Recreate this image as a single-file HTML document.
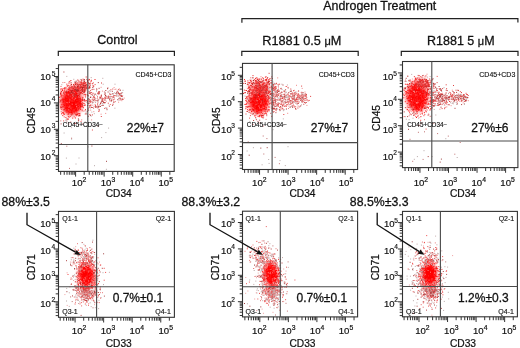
<!DOCTYPE html>
<html><head><meta charset="utf-8"><style>
html,body{margin:0;padding:0;background:#fff;width:520px;height:348px;overflow:hidden;}
svg{display:block;filter:blur(0.3px);}
text{font-family:"Liberation Sans", sans-serif;stroke:#111;stroke-width:0.28px;}
</style></head><body>
<svg width="520" height="348" viewBox="0 0 520 348" font-family='"Liberation Sans", sans-serif' fill="#111">
<defs><filter id="bl" x="-50%" y="-50%" width="200%" height="200%"><feGaussianBlur stdDeviation="2.2"/></filter><filter id="sb" x="-5%" y="-5%" width="110%" height="110%"><feGaussianBlur stdDeviation="0.45"/></filter>
<clipPath id="c0"><rect x="58.5" y="64.8" width="115.70" height="106.60"/></clipPath>
<clipPath id="c1"><rect x="242.5" y="63.4" width="115.10" height="106.10"/></clipPath>
<clipPath id="c2"><rect x="402.5" y="61.5" width="115.40" height="106.10"/></clipPath>
<clipPath id="c3"><rect x="58.5" y="211.4" width="115.90" height="105.90"/></clipPath>
<clipPath id="c4"><rect x="242.5" y="211.2" width="115.10" height="105.70"/></clipPath>
<clipPath id="c5"><rect x="402.5" y="211.4" width="114.90" height="105.40"/></clipPath>
</defs>
<rect width="520" height="348" fill="#fff"/>
<text x="379.8" y="10.2" font-size="12.4" text-anchor="middle">Androgen Treatment</text>
<text x="117.4" y="44.4" font-size="12.5" text-anchor="middle">Control</text>
<text x="301.8" y="44.6" font-size="12.7" text-anchor="middle">R1881 0.5 <tspan font-size="11">μ</tspan>M</text>
<text x="460.8" y="44.5" font-size="12.5" text-anchor="middle">R1881 5 <tspan font-size="11">μ</tspan>M</text>
<path d="M241.9 22.8V18.55H517.9V22.6M58.3 55.9V51.35H174.4V55.9M241.8 55.9V51.35H358.2V55.9M401.3 55.9V51.35H518.0V55.9" stroke="#222" stroke-width="1.2" fill="none"/>
<g clip-path="url(#c0)"><g filter="url(#sb)">
<ellipse cx="71.5" cy="102.0" rx="10.5" ry="13.0" transform="rotate(0 71.5 102.0)" fill="#f00" opacity="0.92" filter="url(#bl)"/>
<ellipse cx="79" cy="88.5" rx="8.5" ry="5.0" transform="rotate(-32 79 88.5)" fill="#f00" opacity="0.6" filter="url(#bl)"/>
<path d="M72.3 105.3h1M68.2 101.6h1M69.8 91.6h1M76.3 93.4h1M77.6 104.4h1M71.3 96.5h1M77.1 96.2h1M71.0 112.0h1M69.2 95.0h1M75.5 96.4h1M70.5 96.5h1M65.5 100.1h1M75.0 105.6h1M67.0 107.6h1M65.9 102.1h1M68.5 112.3h1M78.7 103.1h1M70.3 96.4h1M66.4 98.6h1M77.4 110.4h1M76.1 102.3h1M79.8 100.2h1M70.4 99.9h1M65.9 96.9h1M67.0 96.1h1M65.7 94.9h1M72.9 105.0h1M66.5 93.0h1M76.7 102.6h1M75.0 103.6h1M79.2 98.5h1M74.6 94.4h1M68.7 103.5h1M71.9 101.9h1M74.6 96.3h1M71.2 112.3h1M75.7 93.4h1M76.5 94.9h1M70.7 106.1h1M76.7 101.5h1M71.3 91.8h1M73.8 112.0h1M67.7 111.7h1M77.3 98.7h1M75.2 101.2h1M70.3 107.4h1M68.4 104.0h1M76.0 106.7h1M72.5 103.9h1M68.5 93.0h1M65.8 93.2h1M70.0 105.7h1M80.2 106.0h1M72.2 105.7h1M78.9 96.9h1M74.5 103.3h1M78.0 102.8h1M67.6 110.2h1M76.3 107.3h1M76.1 105.9h1M79.6 103.8h1M71.2 110.9h1M66.5 102.0h1M71.3 104.3h1M73.9 104.8h1M69.5 102.3h1M76.3 100.2h1M66.6 92.5h1M77.7 93.2h1M65.9 103.9h1M74.9 106.6h1M76.2 109.9h1M76.1 103.7h1M73.5 102.3h1M70.8 95.7h1M72.9 100.7h1M68.5 103.8h1M76.6 99.2h1M74.3 95.7h1M74.4 103.9h1M72.7 104.1h1M70.8 105.7h1M68.3 105.4h1M74.9 110.4h1M76.4 101.7h1M78.7 103.7h1M70.5 101.1h1M74.2 106.8h1M67.7 104.3h1M65.7 93.1h1M72.3 97.8h1M63.2 99.1h1M76.1 109.2h1M79.5 102.3h1M75.5 97.4h1M74.0 102.9h1M73.2 105.9h1M74.5 100.6h1M71.0 104.6h1M76.7 104.9h1M68.2 92.5h1M77.2 95.8h1M71.1 91.6h1M72.7 102.3h1M64.9 94.4h1M78.2 109.3h1M71.8 108.3h1M70.0 102.3h1M75.3 109.6h1M68.8 102.4h1M65.5 108.5h1M70.3 112.4h1M79.4 98.1h1M68.9 94.7h1M77.2 102.0h1M79.1 105.2h1M69.1 109.7h1M77.5 100.0h1M78.0 106.4h1M67.4 100.2h1M74.8 94.8h1M76.5 100.2h1M68.8 103.7h1M66.8 100.5h1M74.0 106.2h1M73.2 103.4h1M72.3 97.9h1M75.5 106.1h1M70.4 103.2h1M76.1 108.2h1M64.1 105.4h1M66.7 105.2h1M69.9 96.0h1M74.6 98.6h1M68.4 96.1h1M74.1 104.7h1M67.0 100.0h1M74.1 90.9h1M68.2 102.2h1M69.2 99.2h1M73.1 102.6h1M74.5 100.1h1M69.7 105.1h1M73.4 102.0h1M71.7 109.0h1M65.2 98.6h1M71.7 102.8h1M78.3 108.3h1M73.0 100.3h1M73.6 92.2h1M65.4 110.9h1M76.7 96.7h1M71.7 91.1h1M74.6 91.0h1M73.4 103.3h1M66.1 102.3h1M67.8 101.3h1M67.2 99.7h1M79.6 102.6h1M76.2 103.5h1M70.4 95.3h1M79.8 105.1h1M75.3 100.4h1M70.3 99.1h1M76.0 109.8h1M63.3 101.4h1M73.6 107.4h1M75.4 106.6h1M68.7 108.4h1M74.4 92.4h1M71.9 103.5h1M77.7 98.3h1M67.9 104.1h1M71.2 95.1h1M79.4 108.0h1M75.0 106.4h1M66.4 110.8h1M72.9 103.6h1M73.9 98.5h1M76.6 103.4h1M62.5 99.9h1M71.3 101.6h1M75.3 97.6h1M75.2 107.8h1M74.7 96.0h1M75.3 103.7h1M74.8 98.4h1M76.1 110.2h1M70.4 104.2h1M65.9 92.6h1M71.7 97.6h1M71.7 91.0h1M68.0 99.9h1M79.4 101.8h1M76.6 96.0h1M71.2 102.6h1M68.9 105.8h1M69.9 109.0h1M79.1 100.2h1M73.2 104.2h1M72.9 103.8h1M71.4 110.8h1M66.8 107.9h1M66.4 109.1h1M69.9 106.9h1M69.4 106.8h1M68.7 100.4h1M73.1 99.1h1M79.9 103.6h1M68.6 106.4h1M75.4 99.0h1M69.7 97.2h1M80.1 106.2h1M70.6 102.1h1M71.9 109.5h1M73.1 93.8h1M70.5 103.3h1M66.5 98.1h1M77.4 99.8h1M71.5 96.7h1M72.7 105.6h1M74.4 98.0h1M79.9 104.9h1M74.7 98.3h1M67.5 95.7h1M69.6 98.9h1M69.0 108.1h1M80.7 100.1h1M77.5 95.8h1M69.6 98.2h1M73.8 92.1h1M64.4 99.4h1M74.2 97.7h1M66.4 95.5h1M77.5 96.5h1M79.8 99.1h1M69.8 104.2h1M75.5 101.5h1M71.7 90.5h1M78.0 101.1h1M62.6 104.7h1M66.1 105.3h1M70.8 95.1h1M76.5 97.4h1M78.3 98.7h1M66.1 106.9h1M68.5 91.4h1M73.4 109.0h1M64.9 108.0h1M75.7 96.3h1M74.6 102.1h1M67.8 91.6h1M73.1 108.2h1M79.6 98.1h1M80.3 103.8h1M80.1 101.4h1M72.3 106.1h1M70.4 108.6h1M80.1 106.3h1M76.5 101.1h1M73.2 106.6h1M62.9 100.3h1M65.1 97.2h1M73.8 104.4h1M70.9 97.8h1M74.2 107.6h1M70.1 94.1h1M77.8 98.4h1M66.1 99.3h1M73.9 92.9h1M75.6 94.4h1M75.0 111.2h1M67.5 101.2h1M72.8 96.8h1M69.6 99.8h1M76.6 93.4h1M76.2 111.9h1M72.4 98.9h1M70.8 104.9h1M73.7 111.4h1M74.4 103.0h1M78.7 98.8h1M65.0 100.2h1M73.1 102.7h1M70.6 107.8h1M70.6 108.3h1M70.4 98.9h1M76.0 100.1h1M75.5 96.8h1M73.8 108.4h1M71.2 98.6h1M68.3 108.3h1M74.3 112.8h1M71.1 111.9h1M74.9 100.6h1M73.4 95.6h1M80.4 101.6h1M66.3 107.1h1M78.3 96.7h1M63.0 102.1h1M72.7 91.8h1M68.8 98.0h1M73.8 98.9h1M69.0 112.9h1M72.1 101.3h1M69.7 94.2h1M74.9 107.5h1M73.1 98.8h1M74.6 100.2h1M71.6 113.4h1M78.3 98.6h1M78.6 106.9h1M69.2 92.0h1M72.8 104.5h1" stroke="#ff0000" stroke-width="1" fill="none"/>
<path d="M82.2 99.8h1M60.6 88.7h1M63.1 114.0h1M60.8 92.0h1M80.2 93.0h1M82.4 97.3h1M62.0 99.2h1M76.5 84.9h1M65.4 87.4h1M68.1 113.8h1M80.1 91.4h1M60.2 92.2h1M64.5 88.7h1M60.0 94.0h1M69.7 90.2h1M62.2 112.7h1M83.4 91.1h1M66.4 112.3h1M74.2 89.0h1M70.5 89.0h1M74.9 117.9h1M61.2 95.2h1M81.9 100.4h1M81.9 106.0h1M66.8 119.1h1M67.9 116.7h1M80.1 86.0h1M67.2 86.0h1M87.1 101.7h1M75.4 114.7h1M62.0 90.5h1M66.3 91.0h1M64.0 114.2h1M61.1 104.9h1M77.9 113.5h1M63.8 109.6h1M74.7 87.3h1M84.7 105.0h1M79.2 94.2h1M60.6 95.9h1M76.3 114.4h1M60.9 109.3h1M69.4 90.2h1M77.3 114.6h1M76.6 113.8h1M81.5 106.1h1M62.6 107.0h1M76.8 89.4h1M73.1 84.9h1M60.1 100.9h1M63.4 92.6h1M62.4 106.6h1M66.7 85.9h1M73.3 90.0h1M81.5 104.0h1M84.1 100.0h1M85.8 100.6h1M82.7 103.4h1M72.2 118.1h1M85.1 95.1h1M67.8 119.1h1M67.5 89.2h1M83.7 92.3h1M82.9 107.7h1M60.9 104.7h1M61.2 113.6h1M81.7 110.0h1M75.7 89.1h1M60.6 96.8h1M59.1 97.3h1M66.4 84.2h1M76.3 115.6h1M64.0 87.9h1M77.3 90.8h1M60.4 94.3h1M79.0 113.6h1M82.2 93.6h1M77.9 118.9h1M60.4 106.4h1M79.4 114.1h1M73.6 85.6h1M62.6 88.4h1M71.2 87.9h1M81.6 104.6h1M80.0 107.8h1M60.3 89.9h1M65.0 93.4h1M65.4 117.6h1M80.1 109.5h1M68.0 89.4h1M74.5 89.3h1M81.9 106.9h1M60.0 107.8h1M61.9 100.1h1M81.9 87.9h1M78.2 115.9h1M61.5 100.0h1M63.9 91.6h1M84.2 105.4h1M81.0 106.8h1M68.5 83.2h1M69.2 87.9h1M71.8 86.8h1M63.1 113.2h1M81.1 104.0h1M70.3 85.2h1M79.6 115.7h1M62.3 115.6h1M63.8 90.4h1M78.1 90.5h1M77.1 114.4h1M62.6 112.6h1M82.4 100.4h1M84.5 91.7h1" stroke="#ff1818" stroke-width="1" fill="none"/>
<path d="M81.2 119.9h1M81.8 123.9h1M87.2 88.2h1M66.5 121.0h1M62.4 82.6h1M87.8 107.8h1M88.0 88.3h1M60.3 120.9h1M64.3 82.5h1M70.3 121.9h1M68.3 123.9h1M77.9 120.7h1M89.2 88.6h1M80.4 82.7h1M89.0 107.3h1M84.9 87.0h1" stroke="#e87878" stroke-width="1" fill="none"/>
<path d="M68.0 107.6h1M71.6 97.0h1M73.9 109.3h1M76.0 95.4h1M78.2 110.2h1M76.6 103.4h1M76.5 103.2h1M74.3 110.1h1M71.3 100.3h1M76.5 97.2h1M73.4 109.5h1M68.3 103.9h1M71.5 111.6h1M73.3 101.0h1M66.4 106.3h1M66.5 93.0h1M72.1 112.7h1M68.1 102.0h1M66.8 93.8h1M74.3 97.3h1M71.9 101.4h1M74.2 92.4h1M71.7 109.3h1M70.9 101.0h1M70.7 90.8h1M73.4 97.6h1M71.4 101.7h1M71.1 98.4h1M74.6 112.9h1M75.8 96.6h1M74.7 99.0h1M66.4 99.8h1M70.3 95.6h1M77.7 103.1h1M62.5 98.6h1M79.0 105.3h1M74.0 100.5h1M77.4 103.0h1M71.8 100.0h1M76.3 106.0h1M69.2 100.4h1M71.9 101.1h1M76.2 104.5h1M65.6 94.5h1M64.6 101.6h1M76.3 100.5h1M62.7 100.4h1M74.6 97.1h1M62.4 102.2h1M64.4 94.4h1M71.7 97.6h1M75.5 98.4h1M67.1 103.7h1M65.3 110.2h1M69.7 112.5h1M63.5 104.5h1" stroke="#ff2020" stroke-width="1" fill="none"/>
<path d="M83.7 94.6h1M70.9 114.9h1M75.5 90.7h1M81.4 104.3h1M61.1 107.6h1M61.1 91.4h1M72.1 88.1h1M73.4 88.4h1M83.6 99.3h1M75.8 87.9h1M60.2 93.6h1M79.0 115.6h1M78.7 115.3h1M81.7 99.5h1M81.6 88.6h1M84.0 99.9h1M59.5 102.0h1M71.2 90.2h1M65.8 91.7h1M75.6 114.4h1M81.6 105.2h1M63.6 109.0h1M86.6 102.1h1M60.2 93.5h1" stroke="#c02828" stroke-width="1" fill="none"/>
<path d="M78.2 119.8h1M78.1 124.8h1M78.1 120.8h1M60.6 123.9h1M99.2 106.2h1M63.4 72.0h1M86.5 114.1h1M74.8 82.5h1M88.2 99.3h1M85.6 113.1h1M89.9 97.3h1M74.7 123.6h1M75.7 81.2h1" stroke="#b04040" stroke-width="1" fill="none"/>
<path d="M77.1 113.3h1M72.3 114.4h1M62.4 98.2h1M77.9 113.5h1M62.5 95.5h1M83.8 94.2h1M81.0 89.5h1M70.6 89.6h1M82.0 98.3h1M63.5 110.9h1M60.7 111.8h1M67.8 114.2h1M81.8 82.8h1M85.4 89.7h1M75.6 115.7h1M74.3 123.5h1M79.1 89.3h1M64.9 92.1h1M68.6 82.0h1M60.9 99.7h1M80.2 93.2h1M73.1 88.8h1M67.8 113.0h1M63.0 93.1h1M81.1 92.9h1M74.6 84.4h1M63.2 120.9h1M80.8 89.1h1M83.5 83.4h1M82.0 102.8h1M84.3 101.0h1M60.8 104.9h1M67.6 114.6h1M67.9 116.7h1M81.5 93.3h1M72.8 89.6h1M63.0 92.2h1M70.7 114.3h1M82.1 97.7h1M69.3 86.3h1M84.2 100.8h1M77.1 84.0h1M73.7 116.8h1M79.9 108.8h1M62.7 109.6h1M68.9 117.1h1M80.9 105.0h1M82.7 105.8h1M61.8 101.7h1M61.9 106.9h1M67.4 119.2h1M64.3 93.9h1M84.7 100.8h1M63.4 93.5h1M83.6 100.5h1M59.5 99.9h1M84.1 103.7h1M64.9 110.4h1M85.0 109.5h1M83.3 85.2h1M83.4 111.1h1M81.7 110.9h1M61.4 100.4h1M60.5 86.4h1M80.5 121.4h1M63.7 116.9h1M69.9 116.4h1M70.6 87.2h1M65.3 91.5h1M90.1 102.6h1" stroke="#f04848" stroke-width="1" fill="none"/>
<path d="M74.9 118.4h1M69.7 85.4h1M74.6 88.4h1M81.4 107.7h1M85.4 94.8h1M78.6 84.7h1M76.3 83.6h1M84.5 110.3h1M84.9 110.7h1M79.9 113.3h1M76.3 85.4h1M79.2 87.3h1M60.9 114.3h1M61.4 105.2h1M84.7 101.7h1M63.2 108.3h1M64.3 91.1h1M77.9 91.8h1M61.7 109.4h1M80.4 91.5h1M69.2 114.0h1M73.2 114.3h1M71.1 85.5h1M83.0 94.2h1M82.9 92.7h1M78.5 110.9h1M66.8 90.9h1M83.7 95.9h1" stroke="#ff9a9a" stroke-width="1" fill="none"/>
<path d="M70.1 96.4h1M71.9 98.0h1M69.4 99.8h1M68.9 102.2h1M73.7 99.2h1M68.6 107.1h1M70.4 108.1h1M75.0 98.3h1M76.0 106.7h1M69.4 106.1h1M75.4 104.2h1M68.3 109.9h1M71.7 104.2h1M66.5 102.5h1M65.0 93.9h1M79.4 97.8h1M74.7 112.2h1" stroke="#ff8080" stroke-width="1" fill="none"/>
<path d="M91.3 112.1h1M65.8 120.9h1M85.7 111.2h1M87.2 109.9h1M75.4 122.3h1M93.8 113.7h1M66.3 76.4h1M66.3 123.0h1M91.8 89.2h1M71.1 127.7h1M73.3 79.3h1M65.2 120.1h1M70.7 82.4h1M61.3 84.7h1M90.3 96.6h1" stroke="#c4a8a8" stroke-width="1" fill="none"/>
<path d="M77.4 82.8h1M76.9 91.3h1M75.1 88.5h1M65.0 92.3h1M89.8 85.9h1M73.7 85.6h1M84.0 83.9h1M86.3 79.3h1M68.2 85.3h1M60.0 100.9h1M75.5 95.2h1M81.3 80.5h1M77.1 91.7h1M78.5 81.3h1M78.5 87.1h1M77.3 80.0h1M68.7 88.5h1M88.7 86.9h1M87.7 85.1h1M68.5 87.4h1M84.6 87.4h1M79.7 84.5h1M89.0 79.8h1M74.4 86.6h1M75.9 89.7h1M84.1 90.1h1M80.7 85.7h1M77.9 85.7h1M71.3 87.1h1M78.0 88.2h1M73.1 95.2h1M81.0 85.2h1M76.2 88.8h1M77.2 86.4h1M71.4 86.5h1M81.1 86.6h1M82.1 90.7h1M77.5 91.6h1M83.4 89.5h1M80.6 90.4h1M77.6 85.8h1M81.0 87.6h1M82.7 84.3h1M79.1 92.6h1M75.4 89.7h1M80.6 81.7h1M80.4 84.1h1M70.5 93.5h1M84.4 86.2h1M90.1 90.7h1M73.9 95.3h1M73.9 89.8h1M82.2 84.2h1M87.0 80.9h1M89.0 86.6h1M70.2 87.7h1M88.3 83.4h1M83.7 90.4h1M83.9 91.5h1M68.7 94.8h1M101.0 83.0h1M78.1 93.7h1M93.1 85.9h1M80.7 89.7h1M73.1 92.3h1M66.1 97.0h1M69.3 81.4h1M80.6 89.3h1M72.8 93.5h1M80.9 83.3h1M79.3 92.9h1" stroke="#d83838" stroke-width="1" fill="none"/>
<path d="M74.9 96.0h1M79.0 92.2h1M85.8 84.3h1M70.6 95.4h1M71.8 93.9h1M70.2 90.6h1M87.6 80.9h1M92.5 93.3h1M68.8 95.3h1M80.9 82.4h1M94.5 79.5h1M80.6 87.8h1M87.0 81.2h1M80.0 86.0h1M79.8 86.4h1M82.6 83.5h1M78.7 94.9h1M82.5 90.3h1M72.9 90.8h1M72.2 93.5h1M79.0 84.6h1M84.5 90.2h1M80.6 82.8h1M86.0 87.3h1M83.9 81.3h1M80.7 82.3h1M69.5 94.7h1M85.8 87.8h1M78.1 97.6h1M90.5 81.2h1M73.8 91.7h1M80.0 84.4h1M75.7 83.3h1M69.2 98.5h1M73.1 88.2h1M83.6 92.2h1M87.0 86.0h1M73.5 86.7h1M79.8 87.1h1M91.8 83.6h1M77.8 86.7h1M86.1 88.2h1M70.4 80.5h1M76.8 90.5h1M89.4 87.5h1M85.2 94.3h1M85.0 85.4h1M74.4 89.3h1M85.4 86.6h1M86.0 85.0h1M83.5 92.0h1M83.2 83.1h1M76.1 89.2h1M77.0 87.5h1M75.4 96.3h1M80.4 87.0h1M82.6 86.8h1M81.9 87.8h1M89.8 83.1h1M78.0 90.1h1M69.3 89.3h1M84.2 87.0h1M75.7 96.0h1M69.5 98.9h1M81.1 92.4h1M69.0 93.8h1M77.7 91.6h1M80.8 84.3h1M76.9 89.1h1M75.9 89.5h1M76.9 90.9h1M71.7 94.0h1M83.5 87.3h1M86.9 94.8h1M73.7 96.2h1M90.9 80.3h1M69.3 97.1h1M77.3 89.5h1M87.9 82.7h1M64.3 88.8h1M77.3 89.4h1M82.7 85.4h1M72.3 91.2h1M76.4 89.6h1M88.3 87.9h1M80.5 87.7h1M83.3 82.7h1M79.6 90.4h1M85.7 77.0h1M61.8 89.4h1M79.7 99.2h1M82.6 79.2h1M70.5 83.0h1M83.9 85.8h1M80.0 92.3h1M74.7 83.6h1M77.2 87.0h1M84.9 82.6h1M71.6 92.9h1M76.0 89.3h1M83.9 87.5h1M83.8 88.6h1M72.8 92.9h1M69.0 93.0h1M77.9 93.1h1M80.2 90.6h1M81.9 91.3h1M73.0 84.5h1M84.6 89.4h1M85.1 96.9h1M81.5 89.2h1M70.8 97.2h1M84.1 83.3h1M79.3 91.3h1M80.1 86.6h1M77.9 98.4h1M77.8 90.2h1M73.0 88.2h1M78.5 88.4h1M81.4 88.2h1M79.9 92.5h1M88.5 79.4h1M74.0 90.2h1M84.9 83.8h1M75.7 97.6h1M71.6 93.3h1M70.2 96.4h1M93.1 86.4h1M74.4 93.9h1" stroke="#f02020" stroke-width="1" fill="none"/>
<path d="M75.2 88.5h1M87.1 92.3h1M75.6 89.3h1M80.2 83.5h1M77.2 92.7h1M76.7 89.4h1M83.7 84.4h1M92.1 85.2h1M80.9 81.8h1M77.8 80.6h1M79.6 84.0h1M78.2 96.9h1M73.7 92.7h1M80.8 88.4h1M83.8 87.3h1M72.2 95.7h1M79.3 86.5h1M75.9 82.9h1M79.3 86.3h1M86.5 88.0h1M72.5 94.7h1M67.8 94.8h1M70.6 89.5h1M73.3 85.3h1M72.4 92.0h1M73.3 85.6h1M79.4 86.7h1M81.0 85.6h1M79.8 89.4h1M63.8 89.5h1M90.7 81.6h1M78.6 93.0h1M79.2 82.7h1M83.8 92.6h1M85.2 90.1h1M73.0 96.6h1M82.7 94.9h1M75.7 85.7h1M69.6 91.5h1M70.5 93.4h1M66.1 88.9h1M77.6 94.2h1M79.8 91.2h1M86.4 82.5h1" stroke="#f08080" stroke-width="1" fill="none"/>
<path d="M85.3 85.3h1M73.5 96.3h1M84.4 90.2h1M83.5 80.8h1M82.7 85.1h1M76.8 89.6h1M78.0 90.3h1M83.5 87.2h1M72.1 90.3h1M89.5 84.9h1M81.9 87.4h1M72.4 92.6h1M83.4 85.6h1M83.5 92.2h1M70.6 91.2h1M75.9 90.1h1M82.0 88.4h1M80.6 79.6h1M79.5 88.0h1M74.4 87.1h1M74.7 89.6h1M83.8 79.5h1M75.9 95.2h1M75.2 84.5h1M69.6 93.4h1M74.5 82.0h1M70.9 84.5h1M82.1 89.8h1M89.2 83.7h1M89.1 87.7h1M78.3 95.3h1M70.8 92.3h1M81.7 91.4h1M71.4 92.1h1M79.5 93.8h1M83.8 81.9h1M77.5 84.5h1M73.5 93.9h1M87.2 80.5h1M83.3 87.4h1M76.4 91.7h1M85.4 88.4h1M75.0 89.1h1M76.7 90.6h1M76.4 90.0h1M79.6 87.0h1M66.5 91.8h1M77.2 86.5h1" stroke="#a82828" stroke-width="1" fill="none"/>
<path d="M106.2 96.4h1M90.4 99.8h1M100.6 114.2h1M108.2 98.5h1M104.9 102.7h1M92.3 105.2h1M104.0 98.7h1M103.1 98.6h1M111.7 96.9h1M94.6 104.5h1M88.3 100.0h1M101.2 105.5h1M105.2 113.4h1M90.5 101.3h1M91.1 119.9h1M109.7 94.6h1M113.5 99.5h1M119.0 94.7h1M101.9 91.1h1M121.7 98.8h1M100.6 87.3h1M97.5 99.3h1M111.2 99.3h1M122.2 95.7h1M98.8 110.0h1M97.3 103.9h1M118.1 102.2h1M101.2 100.8h1M119.8 93.7h1M105.3 97.3h1M93.1 108.5h1M114.1 98.9h1M121.9 96.5h1M98.4 99.7h1M105.8 101.2h1M97.6 94.0h1M115.0 101.6h1M99.6 96.5h1M104.1 93.1h1M93.6 106.6h1M100.6 95.9h1M114.5 89.5h1M88.3 105.2h1M90.2 110.1h1M92.6 86.7h1M103.8 91.8h1M119.9 96.1h1M97.5 105.5h1M94.3 94.3h1M110.0 104.5h1M112.4 96.6h1M116.7 90.9h1M118.8 88.9h1M109.1 93.4h1M96.9 108.0h1M112.3 97.9h1M109.7 97.0h1M113.6 87.6h1M112.8 97.4h1M86.9 84.9h1M93.6 95.0h1M93.6 99.5h1M89.7 93.3h1M89.5 93.2h1M123.7 98.1h1M87.3 92.9h1M99.0 110.9h1M93.3 111.7h1M109.0 100.8h1M116.0 96.1h1M97.7 102.2h1M88.4 85.3h1M89.7 102.0h1M101.8 99.1h1M115.4 89.1h1M110.4 94.2h1M89.9 100.6h1M98.3 94.5h1M121.3 100.7h1M96.7 98.5h1M100.9 94.8h1M96.6 89.2h1M88.6 101.8h1M103.0 98.7h1" stroke="#f08888" stroke-width="1" fill="none"/>
<path d="M107.8 103.2h1M91.6 89.6h1M87.2 99.9h1M91.0 107.3h1M113.5 102.0h1M118.8 94.0h1M94.6 84.6h1M100.1 97.5h1M89.1 105.9h1M98.2 111.3h1M101.7 99.5h1M93.3 96.4h1M92.7 97.7h1M87.2 95.3h1M95.5 106.9h1M88.7 91.7h1M108.3 96.6h1M88.8 99.5h1M122.2 99.5h1M95.6 100.5h1M119.5 100.0h1M107.6 97.3h1M100.0 103.5h1M109.6 94.6h1M91.9 130.0h1M90.4 105.0h1M93.4 96.9h1M90.9 107.5h1M108.2 97.3h1M98.7 92.3h1M97.3 93.5h1M108.2 98.1h1M90.1 101.2h1M110.6 100.7h1M112.6 104.2h1M104.3 97.3h1M90.2 105.3h1M92.7 100.3h1M118.6 93.9h1M113.6 95.5h1M120.1 95.4h1M106.6 98.4h1M94.2 97.5h1M91.5 101.8h1M115.8 93.2h1M96.0 89.1h1M89.6 92.9h1M114.7 95.7h1M107.9 96.1h1M94.7 94.4h1M87.4 95.4h1M117.9 89.7h1M105.1 98.4h1M100.9 96.8h1M98.1 91.8h1M92.8 82.9h1M112.3 89.0h1M91.9 114.9h1M100.7 102.7h1M121.0 96.4h1M122.5 99.3h1M100.8 116.5h1M94.5 100.9h1M105.1 95.5h1M110.6 96.6h1M104.4 102.6h1M119.8 98.3h1M84.8 114.0h1M120.4 93.4h1M119.8 95.5h1M103.7 100.0h1M97.0 96.9h1M112.8 99.9h1M97.7 92.6h1M113.2 102.2h1M119.0 94.0h1M88.8 93.4h1M89.6 105.7h1M95.0 106.2h1M101.6 98.1h1M91.9 99.2h1M120.4 99.2h1M102.4 105.5h1M108.9 106.2h1M88.0 103.3h1M112.8 97.2h1M116.8 91.7h1M87.0 111.5h1M104.2 108.4h1M88.6 101.2h1M94.9 105.4h1M102.7 101.4h1M110.4 89.8h1M93.4 89.3h1M89.3 114.7h1M92.0 95.1h1M90.7 94.6h1M97.0 104.1h1M91.1 92.6h1M101.7 100.6h1M97.0 100.8h1" stroke="#e04040" stroke-width="1" fill="none"/>
<path d="M90.0 115.3h1M89.3 101.1h1M112.1 105.3h1M121.4 96.2h1M87.7 96.0h1M97.8 82.6h1M105.3 90.5h1M92.3 87.5h1M92.3 107.5h1M87.6 108.8h1M104.4 94.6h1M98.6 109.7h1M98.4 93.2h1M113.3 96.0h1M100.9 101.5h1M90.2 97.5h1M117.3 99.6h1M102.5 105.3h1M89.7 92.9h1M119.2 98.1h1M94.7 98.9h1M117.9 92.3h1M101.9 101.3h1M109.5 98.7h1M115.6 93.5h1M95.8 106.9h1M93.8 99.1h1M117.6 96.0h1M93.2 100.3h1M87.3 103.7h1M96.9 106.9h1M111.8 91.3h1M87.8 116.3h1M116.3 92.4h1M97.6 100.7h1M102.2 101.2h1M103.1 102.5h1M98.6 88.3h1M100.2 103.1h1M107.4 88.0h1M98.1 106.5h1M116.4 94.0h1M99.4 97.6h1M98.2 107.7h1M107.0 88.7h1M99.1 91.8h1M105.4 96.9h1M100.9 95.7h1M104.8 93.1h1M107.6 92.0h1M109.1 99.3h1M106.5 109.7h1M120.9 95.3h1M104.1 102.7h1M104.7 100.0h1M99.6 98.6h1M94.9 107.2h1M98.6 93.6h1M112.4 93.5h1M120.0 90.2h1M110.7 101.1h1M87.0 105.7h1M87.8 98.5h1M118.1 93.3h1M99.9 106.5h1M106.3 108.2h1M92.4 102.6h1M105.1 95.4h1M88.7 103.2h1M101.6 98.8h1M121.2 93.0h1M88.1 110.2h1M111.2 100.3h1" stroke="#b03838" stroke-width="1" fill="none"/>
<path d="M110.1 96.4h1M96.7 106.0h1M97.8 99.8h1M102.3 78.3h1M114.5 84.2h1M99.3 104.4h1M88.2 99.9h1M108.7 105.0h1M96.8 101.9h1M96.3 100.6h1M109.6 98.1h1M122.5 90.3h1M90.7 116.1h1M113.5 102.1h1M93.9 95.4h1M92.0 95.1h1M102.0 103.7h1M103.4 103.7h1M88.4 98.7h1M109.8 91.2h1M121.8 98.3h1M117.6 100.1h1M89.7 106.9h1M94.5 94.1h1M96.3 95.2h1M116.2 95.6h1M99.7 104.6h1M96.0 88.8h1M114.4 108.2h1M107.8 98.4h1M88.4 91.3h1M113.9 92.8h1M92.6 101.0h1M102.7 84.2h1M91.8 103.1h1M111.5 94.3h1M115.8 93.8h1M120.1 94.3h1M119.8 95.1h1M108.8 90.7h1M109.3 93.3h1M94.9 102.6h1M94.9 94.0h1M96.1 90.3h1M120.9 99.6h1M89.8 108.0h1M113.8 97.4h1M90.7 77.6h1M101.4 105.5h1M118.8 95.7h1M116.6 93.4h1M108.9 96.7h1M118.0 98.4h1M105.2 107.8h1M101.3 101.9h1M104.4 92.2h1M111.3 99.0h1M112.7 94.2h1M107.1 96.9h1M122.1 92.6h1M96.0 91.2h1M119.2 90.2h1" stroke="#c0a4a4" stroke-width="1" fill="none"/>
<path d="M87.7 146.9h1M91.9 125.3h1M78.5 158.0h1M75.5 164.0h1M105.4 132.6h1M78.0 118.9h1M101.1 137.6h1M105.9 169.3h1M63.6 133.0h1M84.7 121.9h1M94.0 165.7h1M65.9 158.1h1M71.1 139.1h1M108.1 128.1h1" stroke="#b8a8a8" stroke-width="1" fill="none"/>
<path d="M106.0 161.3h1M60.8 143.7h1M97.5 126.2h1M91.4 146.0h1" stroke="#a04040" stroke-width="1" fill="none"/>
<path d="M66.3 146.2h1M69.0 168.4h1M66.2 119.0h1M71.1 138.2h1" stroke="#c07070" stroke-width="1" fill="none"/>
</g></g>
<rect x="58.5" y="64.8" width="115.70" height="106.60" fill="none" stroke="#333" stroke-width="1.1"/>
<path d="M87.8 64.8V171.4M58.5 144.5H174.2" stroke="#4a4a4a" stroke-width="1.1" fill="none"/>
<path d="M60.67 171.40v3.4M64.24 171.40v3.4M67.01 171.40v3.4M69.27 171.40v3.4M71.18 171.40v3.4M72.83 171.40v3.4M74.29 171.40v3.4M75.60 171.40v5.2M84.19 171.40v3.4M89.22 171.40v3.4M92.79 171.40v3.4M95.56 171.40v3.4M97.82 171.40v3.4M99.73 171.40v3.4M101.38 171.40v3.4M102.84 171.40v3.4M104.15 171.40v5.2M112.74 171.40v3.4M117.77 171.40v3.4M121.34 171.40v3.4M124.11 171.40v3.4M126.37 171.40v3.4M128.28 171.40v3.4M129.93 171.40v3.4M131.39 171.40v3.4M132.70 171.40v5.2M141.29 171.40v3.4M146.32 171.40v3.4M149.89 171.40v3.4M152.66 171.40v3.4M154.92 171.40v3.4M156.83 171.40v3.4M158.48 171.40v3.4M159.94 171.40v3.4M161.25 171.40v5.2M169.84 171.40v3.4M58.50 169.50h-2.8M58.50 166.21h-2.8M58.50 163.65h-2.8M58.50 161.56h-2.8M58.50 159.79h-2.8M58.50 158.26h-2.8M58.50 156.91h-2.8M58.50 155.70h-4.6M58.50 147.75h-2.8M58.50 143.10h-2.8M58.50 139.81h-2.8M58.50 137.25h-2.8M58.50 135.16h-2.8M58.50 133.39h-2.8M58.50 131.86h-2.8M58.50 130.51h-2.8M58.50 129.30h-4.6M58.50 121.35h-2.8M58.50 116.70h-2.8M58.50 113.41h-2.8M58.50 110.85h-2.8M58.50 108.76h-2.8M58.50 106.99h-2.8M58.50 105.46h-2.8M58.50 104.11h-2.8M58.50 102.90h-4.6M58.50 94.95h-2.8M58.50 90.30h-2.8M58.50 87.01h-2.8M58.50 84.45h-2.8M58.50 82.36h-2.8M58.50 80.59h-2.8M58.50 79.06h-2.8M58.50 77.71h-2.8M58.50 76.50h-4.6M58.50 68.55h-2.8" stroke="#333" stroke-width="1" fill="none"/>
<text x="71.82" y="186.00" font-size="9.6" style="stroke-width:0.2px">10<tspan dy="-4.4" font-size="6.8">2</tspan></text>
<text x="100.72" y="186.00" font-size="9.6" style="stroke-width:0.2px">10<tspan dy="-4.4" font-size="6.8">3</tspan></text>
<text x="129.62" y="186.00" font-size="9.6" style="stroke-width:0.2px">10<tspan dy="-4.4" font-size="6.8">4</tspan></text>
<text x="158.52" y="186.00" font-size="9.6" style="stroke-width:0.2px">10<tspan dy="-4.4" font-size="6.8">5</tspan></text>
<text x="50.80" y="79.90" font-size="9.5" text-anchor="end" style="stroke-width:0.2px">10</text>
<text x="55.30" y="75.50" font-size="6.6" text-anchor="end" style="stroke-width:0.15px">5</text>
<text x="50.80" y="105.80" font-size="9.5" text-anchor="end" style="stroke-width:0.2px">10</text>
<text x="55.30" y="101.40" font-size="6.6" text-anchor="end" style="stroke-width:0.15px">4</text>
<text x="50.80" y="132.70" font-size="9.5" text-anchor="end" style="stroke-width:0.2px">10</text>
<text x="55.30" y="128.30" font-size="6.6" text-anchor="end" style="stroke-width:0.15px">3</text>
<text x="50.80" y="159.50" font-size="9.5" text-anchor="end" style="stroke-width:0.2px">10</text>
<text x="55.30" y="155.10" font-size="6.6" text-anchor="end" style="stroke-width:0.15px">2</text>
<text x="118.7" y="196.8" font-size="10.2" text-anchor="middle" style="stroke-width:0.22px">CD34</text>
<text transform="translate(35.3,120.4) rotate(-90)" font-size="10.2" text-anchor="middle" style="stroke-width:0.22px">CD45</text>
<g clip-path="url(#c1)"><g filter="url(#sb)">
<ellipse cx="258.5" cy="102.5" rx="9.8" ry="11.0" transform="rotate(0 258.5 102.5)" fill="#f00" opacity="0.92" filter="url(#bl)"/>
<ellipse cx="259.5" cy="88" rx="11" ry="7" transform="rotate(0 259.5 88)" fill="#f00" opacity="0.45" filter="url(#bl)"/>
<path d="M261.3 115.3h1M272.3 107.9h1M248.5 110.3h1M257.3 113.3h1M263.1 117.1h1M261.6 117.4h1M267.8 101.1h1M250.2 99.0h1M258.8 116.7h1M250.1 89.4h1M254.4 116.0h1M254.5 90.3h1M263.7 87.5h1M254.5 115.3h1M248.4 106.5h1M251.6 110.9h1M258.9 115.4h1M251.2 90.1h1M260.6 112.6h1M269.3 103.3h1M250.4 113.1h1M260.3 114.1h1M249.3 109.6h1M263.7 93.2h1M245.8 104.2h1M251.2 90.1h1M272.1 101.9h1M267.1 111.7h1M260.1 87.5h1M263.7 113.8h1M272.7 100.4h1M264.2 94.5h1M257.6 92.4h1M251.7 93.8h1M252.4 94.4h1M259.2 92.4h1M249.3 98.0h1M261.2 115.8h1M256.4 90.8h1M253.6 93.0h1M271.5 102.6h1M261.4 92.8h1M246.8 102.8h1M250.5 93.1h1M256.0 91.3h1M251.0 111.5h1M254.3 111.8h1M268.3 97.7h1M271.0 95.1h1M246.0 101.0h1M262.1 113.6h1M259.6 90.5h1M271.9 108.8h1M268.7 97.1h1M256.9 113.4h1M258.4 112.9h1M259.2 115.5h1M257.6 116.4h1M265.4 113.4h1M246.7 107.2h1M268.2 107.0h1M269.9 99.8h1M263.1 115.2h1M268.1 96.4h1M256.3 114.1h1M260.9 112.2h1M245.7 98.8h1M268.6 109.6h1M247.0 109.7h1M263.4 92.1h1M249.5 106.4h1M258.3 89.8h1M249.4 95.5h1M245.8 96.8h1M259.4 88.7h1M267.3 99.5h1M268.3 95.8h1M250.5 90.3h1M264.6 110.1h1M248.7 93.5h1M250.5 97.1h1M265.6 113.4h1M247.6 106.8h1M268.5 91.6h1M244.7 104.5h1M249.7 109.8h1M265.5 92.7h1M261.5 115.6h1M266.7 89.5h1M266.4 96.0h1M251.8 92.2h1M250.5 93.0h1M264.7 87.8h1M251.7 90.6h1M249.7 97.6h1M258.5 112.7h1M268.6 110.8h1M260.8 116.7h1M259.7 89.1h1M245.3 108.7h1M270.1 99.3h1M251.5 92.5h1M254.3 93.2h1M264.3 94.0h1M246.2 103.8h1M256.5 113.0h1M245.5 106.9h1M265.4 111.5h1M251.0 95.0h1M248.5 100.2h1M249.9 99.9h1M268.0 102.7h1M267.1 104.7h1M254.5 89.3h1" stroke="#ff1818" stroke-width="1" fill="none"/>
<path d="M264.9 100.7h1M264.5 102.9h1M263.2 105.0h1M255.9 108.5h1M260.6 110.4h1M267.0 100.6h1M250.6 102.1h1M260.4 104.9h1M256.4 100.4h1M257.5 105.6h1M255.7 98.2h1M255.9 107.2h1M259.2 95.2h1M256.3 107.7h1M256.5 106.1h1M259.9 96.3h1M260.5 109.3h1M253.0 99.8h1M251.8 100.3h1M255.7 94.9h1M257.6 94.0h1M257.5 96.7h1M258.2 103.9h1M263.1 98.6h1M255.1 98.9h1M259.7 94.0h1M252.2 106.8h1M253.4 98.3h1M260.9 105.7h1M254.7 103.5h1M256.0 100.6h1M257.3 111.8h1M255.1 105.4h1M259.7 108.4h1M258.4 100.4h1M265.5 103.4h1M256.2 111.0h1M259.8 102.4h1M255.0 95.4h1M261.6 99.1h1M256.5 105.8h1M257.9 94.1h1M257.7 107.5h1M258.4 101.9h1M262.9 99.8h1M256.8 111.1h1M265.7 98.8h1M257.6 93.9h1M251.8 108.1h1M264.2 100.1h1M256.6 99.4h1M258.9 106.1h1M255.7 106.3h1M265.5 104.0h1M259.3 103.5h1M254.9 95.6h1M259.2 99.2h1M253.4 110.4h1M255.2 97.6h1M253.5 105.4h1M265.1 103.8h1M255.4 104.7h1M264.6 99.8h1M265.2 104.1h1M260.3 100.1h1M260.2 105.8h1M259.6 101.9h1M260.5 110.2h1M260.3 101.8h1M255.0 103.6h1M262.2 102.6h1M263.2 107.9h1M253.9 107.7h1M261.1 103.0h1M264.0 108.9h1M252.4 109.4h1M259.0 105.1h1M251.5 98.5h1M253.1 101.4h1M253.2 109.8h1M263.1 95.6h1M255.4 95.8h1M254.9 99.0h1M257.3 97.2h1M257.8 99.1h1M250.6 102.5h1M257.2 107.7h1M253.4 107.0h1M260.9 95.3h1M251.8 101.7h1M260.2 104.6h1M257.3 105.1h1M261.6 105.5h1M259.2 107.2h1M257.6 98.5h1M255.9 108.6h1M256.6 112.0h1M262.7 99.7h1M265.8 107.2h1M256.0 107.4h1M260.6 108.3h1M258.9 96.0h1M260.7 99.8h1M265.5 100.7h1M261.4 100.3h1M253.5 104.1h1M250.2 102.7h1M255.3 97.3h1M256.7 103.0h1M255.6 101.0h1M261.0 98.8h1M258.6 99.2h1M259.8 103.6h1M260.9 98.6h1M254.1 97.7h1M254.4 100.9h1M262.7 107.7h1M253.8 105.4h1M261.8 103.3h1M257.3 94.8h1M262.7 101.5h1M264.8 99.8h1M263.1 108.6h1M259.5 102.5h1M260.4 99.7h1M252.9 105.2h1M261.3 96.5h1M257.2 101.6h1M253.8 98.3h1M259.3 103.9h1M259.9 94.4h1M254.3 94.0h1M257.4 95.1h1M250.3 99.0h1M264.1 108.5h1M257.0 102.0h1M258.3 104.6h1M255.8 97.6h1M260.1 108.0h1M263.9 105.9h1M259.1 98.7h1M260.9 102.6h1M259.0 109.1h1M261.7 105.2h1M259.9 104.6h1M257.6 95.5h1M252.3 109.1h1M259.2 97.0h1M258.1 105.0h1M258.3 100.9h1M263.8 96.5h1M262.4 105.3h1M253.2 104.9h1M263.7 106.9h1M261.0 96.4h1M258.4 102.9h1M255.4 98.6h1M260.5 105.8h1M253.7 94.7h1M258.1 104.6h1M259.5 99.1h1M261.3 101.9h1M259.0 98.0h1M264.1 101.4h1M256.5 103.6h1M258.0 101.8h1M255.2 104.3h1M253.4 100.3h1M254.3 105.6h1M265.6 101.7h1M257.3 102.0h1M252.8 96.9h1M252.7 109.6h1M257.0 107.9h1M256.8 106.3h1M256.1 102.4h1M265.7 108.2h1M257.9 101.9h1M252.0 101.9h1M264.5 98.1h1M260.5 106.1h1M256.2 108.1h1M253.6 96.1h1M266.3 102.9h1M260.3 104.1h1M260.9 104.2h1M252.9 106.8h1M257.6 102.0h1M252.6 104.6h1M257.4 93.1h1M263.9 107.6h1M254.3 99.3h1M259.1 110.6h1M254.8 96.9h1M258.7 96.3h1M260.5 104.6h1M253.3 105.4h1M260.0 100.0h1M256.5 98.2h1M250.6 99.2h1M254.1 99.9h1M261.8 95.8h1M260.6 100.8h1M253.7 97.4h1M260.6 101.5h1M254.8 94.1h1M256.2 109.1h1M259.9 107.7h1M260.2 97.3h1M254.5 106.0h1M255.3 108.6h1M253.1 102.0h1M261.6 98.8h1M255.4 104.9h1M256.2 111.5h1M255.6 104.1h1M263.7 107.4h1M262.5 95.9h1M265.0 97.1h1M258.0 93.3h1M264.3 107.2h1M266.7 105.1h1M262.0 100.8h1M258.7 100.6h1M252.5 101.7h1M255.2 99.5h1M261.4 98.9h1M263.5 101.6h1M258.0 108.2h1M261.2 105.4h1M266.5 101.4h1M257.4 109.6h1M254.6 96.3h1M262.2 99.9h1M258.3 109.4h1M256.9 99.5h1M261.6 103.8h1M264.4 95.9h1M256.9 98.5h1M259.4 106.8h1M265.4 102.1h1M254.7 100.6h1M256.5 94.7h1M254.1 102.8h1M256.0 105.9h1M255.3 100.3h1M259.1 98.0h1M259.6 103.4h1M263.1 104.4h1M259.3 105.6h1M257.7 100.3h1M258.1 110.5h1M256.5 94.7h1M252.3 101.8h1" stroke="#ff0000" stroke-width="1" fill="none"/>
<path d="M251.1 93.7h1M267.7 110.1h1M266.3 97.8h1M267.3 100.4h1M275.4 96.9h1M246.1 97.5h1M251.4 109.8h1M263.1 83.0h1M249.2 97.9h1M260.9 91.7h1M259.4 85.1h1M255.9 90.5h1M251.0 93.2h1M267.3 110.3h1M245.5 114.0h1M269.2 107.1h1M269.4 93.1h1M268.1 109.5h1M266.4 109.7h1M248.3 103.1h1M276.0 83.3h1M268.4 101.3h1M261.8 86.2h1M254.3 89.0h1M248.0 101.0h1M265.8 109.8h1M264.8 85.9h1M263.9 111.3h1M245.7 106.5h1M262.8 90.5h1M259.0 116.3h1M272.8 104.2h1M255.2 117.5h1M260.3 87.6h1M269.3 103.5h1M256.1 114.2h1M265.0 89.8h1M245.0 98.5h1M261.8 117.1h1M257.6 112.4h1M248.0 96.0h1M264.8 109.7h1M264.3 113.8h1M255.0 90.5h1M272.8 102.4h1M250.1 97.4h1M268.4 92.6h1M262.2 77.7h1M265.3 112.7h1M254.4 112.3h1M252.9 82.3h1M250.3 77.8h1M270.8 103.9h1M259.2 116.3h1M267.8 99.5h1M244.5 104.4h1M248.9 96.8h1M255.0 91.6h1M267.2 93.0h1M249.9 115.6h1M259.7 115.5h1M268.9 98.1h1M263.1 89.0h1M255.0 91.8h1M262.3 93.5h1M267.4 97.7h1M246.5 101.6h1M256.0 119.7h1M252.4 124.5h1M247.7 96.2h1M249.1 118.1h1M254.8 92.3h1M248.6 98.1h1M259.5 123.0h1" stroke="#f04848" stroke-width="1" fill="none"/>
<path d="M249.3 99.4h1M266.4 91.7h1M254.4 93.5h1M256.2 115.1h1M255.2 89.4h1M255.3 91.0h1M251.7 92.7h1M256.0 114.1h1M262.5 112.9h1M255.8 92.7h1M251.6 93.0h1M253.4 90.6h1M246.2 111.4h1M266.3 115.8h1M255.5 114.4h1M251.8 96.0h1M251.6 90.3h1M250.5 96.8h1M248.0 97.5h1M250.2 108.7h1M267.6 102.8h1M261.1 92.4h1M266.8 106.4h1M249.9 96.7h1" stroke="#ff9a9a" stroke-width="1" fill="none"/>
<path d="M275.9 95.0h1M257.5 121.4h1M270.3 113.3h1M262.6 126.0h1M259.2 120.2h1M251.8 83.8h1M274.4 106.5h1M243.2 93.4h1M249.6 89.2h1M273.9 108.2h1M245.0 83.5h1M273.1 98.5h1M253.1 120.5h1" stroke="#b04040" stroke-width="1" fill="none"/>
<path d="M256.4 97.8h1M253.2 107.4h1M258.9 94.5h1M256.4 98.6h1M263.0 99.2h1M254.6 105.8h1M256.8 94.2h1M261.7 109.1h1M262.8 99.7h1M252.2 107.0h1M253.4 98.4h1M258.5 105.5h1M261.1 100.5h1M252.0 105.0h1M261.0 98.7h1M254.6 96.7h1M253.5 107.1h1M262.6 109.2h1M255.6 100.9h1M254.9 105.3h1M261.7 97.4h1M262.8 101.3h1M259.4 110.0h1M253.7 100.9h1M260.2 103.5h1M258.0 98.6h1M263.5 96.8h1M263.5 94.8h1M260.2 110.6h1M257.6 103.6h1M253.4 95.8h1M256.5 111.5h1M256.7 98.4h1M261.9 105.6h1M259.8 100.6h1M262.9 103.1h1M261.6 104.2h1M263.5 105.3h1M256.1 96.3h1M262.1 106.2h1M262.0 105.6h1M266.7 104.0h1" stroke="#ff2020" stroke-width="1" fill="none"/>
<path d="M257.0 79.5h1M255.9 86.2h1M247.3 91.5h1M265.6 119.4h1M252.4 77.7h1M263.4 86.3h1M252.0 86.5h1" stroke="#e87878" stroke-width="1" fill="none"/>
<path d="M247.0 84.0h1M268.3 89.0h1M275.0 101.7h1M272.6 92.9h1M266.0 79.1h1M272.2 91.7h1M274.9 98.3h1M265.0 85.4h1M273.5 83.8h1M266.5 88.6h1M244.5 96.0h1M272.7 94.7h1M253.9 86.4h1M255.4 118.8h1M248.5 90.4h1M278.3 98.1h1M262.6 118.6h1M272.2 109.8h1" stroke="#c4a8a8" stroke-width="1" fill="none"/>
<path d="M260.9 102.0h1M255.8 100.2h1M252.7 108.3h1M263.4 107.6h1M259.0 107.9h1M262.5 107.2h1M260.4 103.8h1M257.2 93.6h1M258.5 106.2h1M257.1 100.8h1M251.6 107.6h1M255.5 104.3h1M260.0 93.6h1M259.0 99.1h1M260.6 108.5h1" stroke="#ff8080" stroke-width="1" fill="none"/>
<path d="M248.8 101.4h1M246.9 98.9h1M257.0 92.6h1M246.8 111.5h1M253.0 113.8h1M262.3 115.3h1M247.3 107.0h1M249.6 99.8h1M266.2 114.9h1M248.3 100.2h1M270.7 103.5h1M267.0 95.4h1M249.7 109.8h1M269.7 94.4h1M261.6 115.5h1M267.8 98.3h1M260.9 90.4h1M257.3 88.8h1M266.7 90.8h1M259.7 91.8h1M260.2 88.9h1M255.5 113.1h1M265.3 109.6h1M251.8 114.1h1M256.4 88.7h1M248.6 112.3h1M260.5 89.3h1M252.9 110.7h1" stroke="#c02828" stroke-width="1" fill="none"/>
<path d="M266.5 93.4h1M257.6 93.2h1M250.2 88.5h1M258.6 86.8h1M269.4 91.1h1M262.0 81.2h1M266.4 83.8h1M258.2 88.3h1M255.0 90.1h1M262.0 90.0h1M259.4 89.5h1M263.2 93.3h1M269.7 78.5h1M251.9 92.3h1M261.0 93.8h1M259.3 91.4h1M254.6 84.2h1M258.0 92.4h1M265.7 87.4h1M261.9 90.4h1M264.0 83.3h1M257.6 79.3h1M263.7 83.4h1M265.1 87.4h1M266.1 85.9h1M261.0 79.4h1M263.0 92.6h1M266.6 86.7h1M250.6 86.8h1M252.3 83.9h1M269.8 96.8h1M268.6 80.9h1M260.9 89.4h1M271.7 92.9h1M259.0 87.2h1M255.2 92.8h1M271.8 98.3h1M256.6 83.8h1M268.4 90.6h1M250.8 89.9h1M250.6 86.0h1M269.1 83.6h1M259.9 89.8h1M247.3 82.6h1M255.5 92.2h1M270.3 100.0h1M245.1 90.5h1M265.3 87.4h1M258.0 96.7h1M261.6 86.9h1M249.4 80.0h1M260.5 76.7h1M259.0 88.4h1M271.5 94.4h1M260.0 94.9h1M263.1 83.5h1M260.8 91.7h1M256.4 78.8h1M266.5 90.7h1" stroke="#f08080" stroke-width="1" fill="none"/>
<path d="M266.2 92.1h1M258.7 87.2h1M259.0 93.4h1M258.1 80.5h1M257.5 86.6h1M256.3 84.0h1M256.6 83.4h1M250.6 98.8h1M268.0 82.7h1M258.9 85.1h1M258.0 82.9h1M256.8 88.5h1M260.0 82.2h1M247.1 93.2h1M268.7 81.7h1M265.7 91.7h1M262.3 87.5h1M248.8 91.0h1M260.9 90.6h1M264.6 93.0h1M255.6 97.0h1M252.8 80.5h1M264.3 87.8h1M255.9 95.1h1M255.6 97.4h1M263.2 86.2h1M269.7 94.6h1M278.3 91.0h1M276.6 90.7h1M255.7 87.6h1M257.5 81.8h1M259.2 90.3h1M259.4 94.5h1M263.3 92.3h1M254.7 94.9h1M259.1 87.7h1M252.8 82.7h1M252.0 84.3h1M261.9 100.8h1M268.6 81.5h1M264.9 91.9h1M273.2 84.8h1M249.1 91.5h1M253.1 80.4h1M261.2 90.5h1M260.7 86.7h1M249.3 92.9h1M253.6 83.4h1M247.5 91.7h1M264.3 86.1h1M267.9 81.7h1M261.0 90.3h1M255.1 90.9h1M263.1 80.2h1M257.7 85.0h1M265.8 93.2h1M260.6 86.1h1M252.4 77.9h1M268.9 84.7h1M264.3 85.3h1M261.3 82.5h1M265.5 96.6h1" stroke="#a82828" stroke-width="1" fill="none"/>
<path d="M262.8 103.0h1M277.6 84.4h1M249.1 89.4h1M252.8 91.8h1M258.1 82.4h1M256.2 92.6h1M269.0 81.4h1M255.1 85.3h1M261.9 89.4h1M267.2 77.5h1M262.1 90.2h1M261.2 86.6h1M271.4 89.3h1M272.8 88.8h1M256.1 94.2h1M267.1 82.7h1M247.8 84.8h1M264.7 90.4h1M256.5 86.8h1M252.2 93.8h1M269.0 92.3h1M261.5 97.8h1M259.3 87.7h1M256.5 101.6h1M261.1 90.0h1M251.4 87.0h1M244.6 81.6h1M253.4 100.0h1M264.9 85.6h1M261.3 81.4h1M266.5 85.2h1M255.9 91.0h1M258.9 83.6h1M248.7 94.6h1M248.4 87.0h1M251.1 93.3h1M251.5 83.4h1M256.7 85.6h1M264.2 89.7h1M266.0 88.2h1M250.8 81.8h1M249.0 87.6h1M260.3 87.1h1M250.0 85.4h1M266.7 82.1h1M266.8 88.3h1M266.7 87.7h1M271.8 78.5h1M260.4 93.8h1M259.5 91.4h1M254.6 83.3h1M262.7 89.5h1M267.2 94.0h1M260.0 97.6h1M273.3 88.1h1M262.2 89.5h1M262.0 88.6h1M258.7 79.6h1M265.4 85.1h1M262.5 85.1h1M259.0 91.5h1M273.6 87.8h1M257.1 103.1h1M259.5 81.5h1M250.5 80.2h1M274.6 89.6h1M261.8 81.2h1M254.4 92.9h1M262.1 89.0h1M265.9 90.2h1M263.6 95.0h1M258.2 85.7h1M257.5 83.9h1M269.3 83.4h1M244.4 92.5h1M257.2 89.2h1M255.2 80.9h1M259.4 92.2h1M255.4 86.7h1M268.6 73.3h1M274.2 87.3h1M263.3 87.9h1M272.4 93.6h1M270.2 93.5h1M259.0 85.0h1M256.8 79.3h1M256.6 81.0h1M265.8 85.5h1M252.9 96.2h1M265.4 85.4h1M267.1 86.4h1M264.1 96.1h1M256.9 96.0h1M268.5 91.8h1" stroke="#d83838" stroke-width="1" fill="none"/>
<path d="M259.5 87.4h1M266.4 82.0h1M260.0 93.0h1M265.9 79.8h1M250.1 98.2h1M265.8 89.9h1M252.7 90.8h1M253.2 89.8h1M275.2 87.8h1M266.8 78.7h1M259.2 81.5h1M264.0 83.0h1M258.8 83.7h1M258.6 83.6h1M260.3 90.7h1M266.2 89.3h1M244.7 81.0h1M260.1 91.7h1M265.4 86.4h1M275.4 86.6h1M262.2 86.9h1M248.2 87.6h1M257.8 88.7h1M265.1 88.1h1M269.4 87.6h1M258.9 81.8h1M249.6 88.1h1M243.1 93.4h1M261.4 92.3h1M260.0 85.7h1M266.7 87.4h1M248.6 86.2h1M246.9 96.9h1M262.7 83.9h1M248.2 82.8h1M254.5 88.5h1M255.9 90.0h1M263.1 88.6h1M261.4 91.8h1M265.2 94.9h1M271.5 88.1h1M264.9 86.3h1M265.3 92.3h1M265.9 79.9h1M262.6 81.0h1M269.3 78.9h1M277.0 92.0h1M259.7 88.1h1M256.0 87.7h1M252.0 92.0h1M262.5 94.4h1M265.5 83.2h1M273.0 86.0h1M266.2 80.2h1M250.9 85.6h1M267.9 93.5h1M266.0 89.2h1M259.6 82.1h1M268.5 79.7h1M251.7 83.4h1M250.1 80.6h1M255.0 78.4h1M252.8 95.7h1M259.2 85.4h1M256.5 86.1h1M262.7 84.1h1M259.3 84.6h1M267.8 92.2h1M252.1 86.9h1M262.8 92.6h1M260.9 92.3h1M255.5 81.3h1M252.1 93.0h1M260.6 88.7h1M267.9 82.1h1M256.5 90.0h1M271.0 93.7h1M255.5 82.5h1M262.2 84.3h1M261.6 84.8h1M262.8 78.6h1M262.8 83.1h1M266.3 86.5h1M247.6 88.5h1M252.5 75.6h1M255.6 87.3h1M255.3 89.9h1M249.3 82.5h1M262.6 97.3h1M266.1 84.7h1M262.2 84.9h1M264.8 80.1h1M251.3 92.7h1M263.3 86.8h1M257.1 79.3h1M247.4 80.9h1M256.0 82.0h1M243.3 83.4h1M243.9 90.1h1M265.3 79.9h1M270.3 97.7h1M249.2 90.0h1M258.3 92.4h1M272.6 84.8h1M249.1 83.1h1M258.7 88.9h1M255.2 80.8h1M264.4 90.6h1M270.5 82.6h1M272.7 90.4h1M272.8 88.7h1M264.9 77.2h1M253.5 90.6h1M256.3 97.1h1M251.4 83.6h1M254.1 79.7h1M268.5 91.1h1M245.3 100.6h1M260.6 79.0h1M255.4 80.5h1M254.0 87.1h1M258.7 78.9h1M267.1 83.9h1M256.6 90.5h1M255.7 85.6h1M255.8 88.5h1M253.6 86.7h1M246.9 84.4h1M255.7 93.9h1M252.3 89.9h1M254.8 87.7h1M265.0 90.3h1M271.3 83.1h1M255.2 85.6h1M259.2 91.0h1M250.6 81.8h1M248.0 90.9h1M285.7 86.5h1M247.8 91.9h1M270.6 80.5h1M267.9 80.0h1M263.6 87.6h1M257.5 87.8h1M257.6 90.1h1M263.4 95.1h1M266.1 93.8h1M257.1 82.3h1M258.4 89.6h1M264.9 98.2h1M265.5 85.5h1M266.6 90.5h1M270.9 87.0h1M259.6 89.4h1M259.2 97.7h1M257.7 93.5h1M255.2 87.3h1M260.4 87.1h1M244.9 92.7h1M253.7 87.7h1M260.5 87.8h1M268.2 84.0h1M260.0 88.9h1M255.6 83.5h1M256.3 77.7h1M258.3 91.8h1M270.1 91.3h1M263.3 93.8h1M258.0 89.8h1M265.6 76.8h1M244.0 79.6h1M265.6 79.9h1M258.8 87.0h1M262.3 90.7h1M246.0 90.5h1" stroke="#f02020" stroke-width="1" fill="none"/>
<path d="M276.2 105.2h1M272.6 108.8h1M293.5 95.2h1M298.4 96.8h1M293.8 98.4h1M305.7 96.2h1M294.3 100.7h1M303.3 96.9h1M280.6 88.7h1M302.2 97.8h1M284.3 95.1h1M274.5 109.0h1M297.4 95.3h1M277.0 90.3h1M297.0 97.9h1M296.1 101.6h1M280.5 98.8h1M272.2 100.7h1M279.6 96.3h1M297.7 94.3h1M273.0 96.0h1M292.0 96.9h1M272.4 105.5h1M277.8 95.5h1M276.8 104.5h1M302.9 96.4h1M273.0 86.8h1M277.4 100.2h1M292.1 95.2h1M268.8 98.4h1M280.1 98.2h1M304.1 102.5h1M283.4 104.2h1M271.2 116.3h1M286.8 104.7h1M281.4 104.7h1M292.6 96.3h1M274.6 86.4h1M291.7 105.7h1M303.7 95.2h1M305.8 102.5h1M304.8 94.1h1M305.5 94.9h1M310.1 96.4h1M282.0 98.5h1M291.9 98.8h1M278.8 103.6h1M293.0 90.7h1M301.3 100.5h1M282.7 109.2h1M273.4 102.5h1M296.8 95.4h1M292.4 103.0h1M291.4 100.5h1M281.8 97.0h1M292.1 102.8h1M279.9 95.6h1M292.9 105.0h1M280.8 103.2h1M301.1 86.1h1M305.2 95.7h1M280.0 99.3h1M285.0 96.0h1M305.4 100.3h1M275.9 88.2h1M280.4 88.6h1M272.8 94.9h1M298.6 102.0h1M272.4 102.1h1M296.3 93.3h1M293.0 99.0h1M272.7 98.3h1M292.1 99.1h1M303.2 98.7h1M271.8 102.2h1M290.3 89.0h1M300.9 95.6h1M280.0 99.7h1M293.7 107.1h1M285.1 89.6h1M274.6 99.6h1M290.0 96.7h1M293.9 96.0h1M287.9 103.9h1M300.0 98.5h1M299.8 96.4h1M285.7 106.4h1M297.8 103.4h1M285.3 105.9h1M288.6 99.3h1M284.5 101.5h1M293.3 101.5h1M279.5 93.3h1M276.2 99.8h1M283.5 96.6h1M307.6 100.9h1M301.7 100.1h1M273.6 94.0h1M298.0 94.0h1M302.1 101.1h1M274.2 88.9h1M289.8 100.7h1M277.9 104.4h1M271.2 76.9h1M272.8 103.4h1M301.1 100.9h1M306.0 94.4h1M298.2 96.0h1M297.4 108.0h1M275.3 90.0h1M281.9 98.4h1M271.5 108.2h1M280.5 104.6h1M282.0 105.9h1M268.6 104.2h1M304.3 98.7h1M279.0 99.8h1M275.6 94.1h1M282.8 97.9h1M295.1 100.9h1M296.2 99.7h1M297.0 99.8h1M284.0 106.2h1M283.3 114.5h1M308.7 100.4h1M294.7 99.6h1M291.5 98.7h1M302.2 94.3h1M288.7 101.3h1M297.1 101.7h1M296.0 99.6h1M293.6 93.2h1M294.7 100.6h1M295.3 94.4h1M281.4 92.5h1M282.6 104.8h1M275.4 101.3h1M281.9 108.6h1M285.6 102.5h1M304.7 94.1h1M277.9 94.0h1M306.7 99.9h1M278.7 91.1h1M299.1 95.2h1M290.9 103.7h1M275.5 103.5h1M291.9 95.0h1M283.8 98.8h1M295.8 98.6h1M305.1 98.4h1M295.9 97.9h1M280.4 98.3h1M288.9 95.8h1M293.7 106.1h1M292.6 101.9h1M303.3 104.3h1M279.1 84.2h1M275.7 83.8h1M274.1 90.9h1M286.7 102.2h1M275.5 109.3h1M269.3 92.4h1M273.1 112.0h1M289.8 104.1h1M272.8 102.2h1M291.8 92.9h1M275.8 109.1h1M273.1 104.6h1M286.0 95.2h1M270.9 86.2h1M295.2 106.8h1M281.9 96.9h1M301.4 100.3h1M279.3 107.6h1M274.7 95.9h1M288.1 102.2h1M297.5 96.8h1M295.5 109.2h1M288.5 97.0h1M274.8 88.5h1M271.9 87.7h1M288.9 99.0h1M289.2 95.8h1M273.3 108.5h1M288.6 98.5h1M273.6 96.2h1M273.0 94.2h1M279.7 107.0h1M302.2 98.1h1M284.0 91.7h1M280.5 109.0h1" stroke="#e04040" stroke-width="1" fill="none"/>
<path d="M291.3 101.6h1M287.2 101.3h1M301.6 101.9h1M274.9 91.8h1M285.3 92.7h1M282.5 96.3h1M274.0 97.7h1M302.3 94.3h1M285.6 95.2h1M291.7 102.9h1M281.0 94.6h1M293.0 101.7h1M277.0 99.6h1M288.4 97.2h1M273.0 94.6h1M282.9 110.7h1M300.4 95.9h1M287.9 96.2h1M286.0 97.6h1M281.7 96.4h1M270.1 98.9h1M272.1 102.7h1M281.6 92.2h1M274.9 100.3h1M272.5 105.5h1M293.8 102.3h1M290.2 102.9h1M302.0 98.5h1M283.7 102.1h1M299.2 98.6h1M278.7 100.5h1M298.6 97.5h1M274.9 99.4h1M278.7 98.1h1M292.5 95.5h1M303.3 101.7h1M285.3 101.7h1M290.5 106.5h1M280.7 88.2h1M293.2 101.3h1M290.5 90.2h1M284.9 89.8h1M289.3 104.6h1M268.0 88.2h1M276.5 109.4h1M283.8 109.8h1M294.2 96.6h1M272.5 82.0h1M270.6 98.9h1M287.3 97.5h1M285.3 99.3h1M281.5 89.4h1M292.0 93.9h1M275.8 91.5h1M274.5 100.9h1M290.6 106.4h1M272.0 95.4h1M272.8 86.4h1M282.8 100.1h1M293.2 99.4h1M302.8 97.0h1M301.0 104.9h1M286.5 96.6h1M304.1 100.1h1M270.4 99.2h1M281.4 84.2h1M273.9 105.3h1M271.2 94.4h1M295.5 91.9h1M287.6 101.7h1M296.0 101.8h1M277.3 89.6h1M300.8 99.4h1M271.5 102.5h1M293.5 97.1h1M271.3 98.7h1M280.3 98.2h1M286.2 95.8h1M290.1 102.4h1M284.3 97.5h1M300.7 95.2h1M299.1 107.0h1M276.5 96.4h1M274.3 89.0h1M270.3 99.8h1M285.8 92.2h1M273.8 98.0h1M301.3 93.4h1M300.9 100.5h1M286.9 85.0h1M273.8 83.3h1M284.7 103.4h1M295.5 103.1h1M302.5 96.5h1M272.4 101.9h1M275.8 106.4h1M291.9 106.7h1M285.9 109.5h1M292.5 95.9h1M271.5 110.3h1M283.7 94.7h1M304.9 94.2h1" stroke="#c0a4a4" stroke-width="1" fill="none"/>
<path d="M271.7 102.3h1M278.9 109.5h1M301.4 92.4h1M287.5 99.5h1M272.7 108.3h1M298.1 96.8h1M285.3 102.7h1M305.9 97.8h1M280.9 95.9h1M276.7 92.6h1M294.5 92.4h1M302.8 99.2h1M287.7 87.9h1M294.3 99.7h1M275.0 96.4h1M294.3 94.1h1M271.8 107.7h1M279.5 110.6h1M273.2 104.9h1M272.4 109.1h1M273.8 108.9h1M277.7 104.0h1M291.2 93.7h1M293.7 95.7h1M278.1 91.4h1M274.2 100.4h1M276.5 92.1h1M284.7 99.7h1M272.4 111.8h1M295.0 108.7h1M275.0 102.7h1M290.9 91.2h1M291.4 93.7h1M293.6 97.3h1M297.5 103.2h1M287.4 94.1h1M273.3 102.8h1M277.6 102.9h1M280.5 100.9h1M274.5 84.1h1M283.9 94.7h1M297.1 95.3h1M277.4 94.4h1M287.3 101.2h1M272.1 98.5h1M277.8 106.2h1M299.3 97.5h1M282.5 85.0h1M291.0 97.0h1M274.8 101.1h1M282.2 105.7h1M293.3 99.0h1M301.0 95.1h1M284.5 97.7h1M279.9 99.6h1M275.4 112.7h1M300.8 98.9h1M289.9 100.9h1M275.1 106.4h1M283.5 91.0h1M297.5 97.0h1M300.1 106.0h1M302.5 95.2h1M280.5 96.4h1M277.2 105.7h1M302.6 92.7h1M290.0 93.9h1M282.3 101.9h1M275.0 100.0h1M273.6 89.8h1M295.4 101.1h1M300.1 100.3h1M277.8 86.0h1M298.4 98.9h1M281.1 101.7h1M289.8 91.4h1M280.2 106.6h1M292.0 107.2h1M302.2 97.7h1M301.2 97.3h1M271.7 106.4h1M277.1 96.1h1M274.7 92.2h1M304.9 103.0h1M298.1 91.0h1M301.5 101.9h1M284.1 96.4h1M297.5 96.6h1M289.6 107.3h1M288.3 92.6h1M272.2 101.8h1M280.7 92.7h1M276.3 108.4h1M296.6 104.0h1M281.8 100.8h1M276.2 95.1h1M284.4 91.1h1M292.0 102.0h1M305.3 96.1h1" stroke="#b03838" stroke-width="1" fill="none"/>
<path d="M300.3 95.3h1M295.2 103.1h1M270.5 103.5h1M270.7 102.3h1M281.4 100.3h1M277.2 77.9h1M288.3 95.5h1M303.5 96.2h1M289.8 96.2h1M275.6 96.5h1M297.8 91.3h1M279.5 109.3h1M272.8 87.4h1M303.6 100.5h1M274.1 94.3h1M296.2 101.5h1M271.9 100.9h1M283.6 91.6h1M283.1 94.4h1M300.0 96.7h1M297.5 106.0h1M301.3 100.6h1M275.9 110.7h1M306.4 105.4h1M273.6 98.3h1M301.5 95.5h1M300.8 92.3h1M279.4 103.2h1M293.0 94.0h1M306.3 97.5h1M302.1 96.3h1M279.2 99.9h1M287.4 94.7h1M275.7 96.3h1M273.8 111.5h1M298.7 96.6h1M286.9 101.9h1M306.2 99.1h1M278.0 87.9h1M303.9 95.9h1M304.5 92.0h1M277.9 106.5h1M271.1 103.3h1M274.5 100.1h1M282.5 94.4h1M294.9 93.3h1M296.9 96.2h1M304.3 95.5h1M278.1 89.5h1M271.9 96.9h1M273.6 103.0h1M282.6 103.1h1M278.5 93.6h1M276.6 103.8h1M280.1 94.0h1M271.0 104.6h1M288.8 96.8h1M280.0 104.4h1M286.1 105.2h1M274.2 88.9h1M272.0 100.7h1M297.7 96.5h1M285.9 108.5h1M304.2 98.8h1M298.2 97.3h1M291.1 93.9h1M270.9 102.9h1M277.7 105.5h1M303.2 98.5h1M272.1 91.8h1M282.9 99.9h1M296.0 85.3h1M288.0 108.5h1M271.6 87.4h1M302.2 102.2h1M277.5 99.5h1M297.9 95.5h1M280.0 99.3h1M278.0 105.4h1M276.2 93.8h1M287.2 113.3h1M276.9 97.8h1M295.1 94.8h1M271.0 98.5h1M275.3 110.4h1M285.4 100.3h1M271.2 94.6h1M286.9 99.1h1M288.9 100.5h1M288.4 106.1h1M270.3 102.3h1M273.3 104.1h1M295.8 101.6h1M274.7 106.2h1M272.1 105.6h1M272.6 101.0h1M271.9 97.7h1M286.0 104.5h1M282.8 105.9h1M290.2 103.6h1M274.7 104.5h1M296.7 95.4h1M294.0 93.6h1M302.8 101.4h1M278.4 94.4h1M301.5 96.9h1M298.2 101.1h1M293.9 90.3h1M269.6 100.7h1M272.6 99.1h1M293.9 98.9h1M289.9 104.3h1M291.7 93.7h1M271.8 98.7h1M292.3 95.2h1M291.6 101.9h1M294.5 100.5h1M301.7 88.4h1M287.3 94.9h1M287.9 94.0h1M270.3 100.1h1M299.6 99.4h1M301.5 96.4h1M289.1 95.5h1M300.8 92.7h1M280.9 102.0h1M275.1 92.4h1M288.8 102.1h1M271.8 104.3h1M274.6 102.2h1M284.3 93.8h1M301.3 96.0h1M297.8 99.6h1M292.0 101.7h1M281.1 91.9h1M271.5 98.2h1M283.6 102.9h1M298.1 97.0h1M277.7 105.3h1M275.2 94.0h1M272.0 110.8h1M290.2 101.8h1M298.6 106.3h1M273.5 106.1h1M287.4 87.3h1M273.4 99.0h1M281.4 107.6h1M274.3 99.3h1" stroke="#f08888" stroke-width="1" fill="none"/>
<path d="M252.9 147.7h1M287.5 146.7h1M272.5 129.7h1M268.6 163.4h1M279.5 160.6h1M249.3 121.4h1M261.6 164.8h1M282.8 118.9h1M288.7 142.6h1M284.8 165.6h1M283.4 124.8h1M246.6 151.0h1M268.2 159.5h1" stroke="#b8a8a8" stroke-width="1" fill="none"/>
<path d="M274.6 157.4h1M247.7 141.9h1M263.3 154.0h1M262.7 136.0h1M266.4 138.6h1M278.9 163.7h1" stroke="#c07070" stroke-width="1" fill="none"/>
<path d="M248.7 155.2h1M260.3 148.1h1M266.7 147.7h1" stroke="#a04040" stroke-width="1" fill="none"/>
</g></g>
<rect x="242.5" y="63.4" width="115.10" height="106.10" fill="none" stroke="#333" stroke-width="1.1"/>
<path d="M272.1 63.4V169.5M242.5 142.6H357.6" stroke="#4a4a4a" stroke-width="1.1" fill="none"/>
<path d="M244.62 169.50v3.4M248.19 169.50v3.4M250.96 169.50v3.4M253.22 169.50v3.4M255.13 169.50v3.4M256.78 169.50v3.4M258.24 169.50v3.4M259.55 169.50v5.2M268.14 169.50v3.4M273.17 169.50v3.4M276.74 169.50v3.4M279.51 169.50v3.4M281.77 169.50v3.4M283.68 169.50v3.4M285.33 169.50v3.4M286.79 169.50v3.4M288.10 169.50v5.2M296.69 169.50v3.4M301.72 169.50v3.4M305.29 169.50v3.4M308.06 169.50v3.4M310.32 169.50v3.4M312.23 169.50v3.4M313.88 169.50v3.4M315.34 169.50v3.4M316.65 169.50v5.2M325.24 169.50v3.4M330.27 169.50v3.4M333.84 169.50v3.4M336.61 169.50v3.4M338.87 169.50v3.4M340.78 169.50v3.4M342.43 169.50v3.4M343.89 169.50v3.4M345.20 169.50v5.2M353.79 169.50v3.4M242.50 168.30h-2.8M242.50 165.01h-2.8M242.50 162.45h-2.8M242.50 160.36h-2.8M242.50 158.59h-2.8M242.50 157.06h-2.8M242.50 155.71h-2.8M242.50 154.50h-4.6M242.50 146.55h-2.8M242.50 141.90h-2.8M242.50 138.61h-2.8M242.50 136.05h-2.8M242.50 133.96h-2.8M242.50 132.19h-2.8M242.50 130.66h-2.8M242.50 129.31h-2.8M242.50 128.10h-4.6M242.50 120.15h-2.8M242.50 115.50h-2.8M242.50 112.21h-2.8M242.50 109.65h-2.8M242.50 107.56h-2.8M242.50 105.79h-2.8M242.50 104.26h-2.8M242.50 102.91h-2.8M242.50 101.70h-4.6M242.50 93.75h-2.8M242.50 89.10h-2.8M242.50 85.81h-2.8M242.50 83.25h-2.8M242.50 81.16h-2.8M242.50 79.39h-2.8M242.50 77.86h-2.8M242.50 76.51h-2.8M242.50 75.30h-4.6M242.50 67.35h-2.8" stroke="#333" stroke-width="1" fill="none"/>
<text x="252.07" y="185.90" font-size="9.6" style="stroke-width:0.2px">10<tspan dy="-4.4" font-size="6.8">2</tspan></text>
<text x="280.97" y="185.90" font-size="9.6" style="stroke-width:0.2px">10<tspan dy="-4.4" font-size="6.8">3</tspan></text>
<text x="309.87" y="185.90" font-size="9.6" style="stroke-width:0.2px">10<tspan dy="-4.4" font-size="6.8">4</tspan></text>
<text x="338.77" y="185.90" font-size="9.6" style="stroke-width:0.2px">10<tspan dy="-4.4" font-size="6.8">5</tspan></text>
<text x="231.70" y="79.90" font-size="9.5" text-anchor="end" style="stroke-width:0.2px">10</text>
<text x="235.00" y="75.50" font-size="6.6" text-anchor="end" style="stroke-width:0.15px">5</text>
<text x="231.70" y="105.80" font-size="9.5" text-anchor="end" style="stroke-width:0.2px">10</text>
<text x="235.00" y="101.40" font-size="6.6" text-anchor="end" style="stroke-width:0.15px">4</text>
<text x="231.70" y="132.70" font-size="9.5" text-anchor="end" style="stroke-width:0.2px">10</text>
<text x="235.00" y="128.30" font-size="6.6" text-anchor="end" style="stroke-width:0.15px">3</text>
<text x="231.70" y="159.50" font-size="9.5" text-anchor="end" style="stroke-width:0.2px">10</text>
<text x="235.00" y="155.10" font-size="6.6" text-anchor="end" style="stroke-width:0.15px">2</text>
<text x="302.5" y="196.6" font-size="10.2" text-anchor="middle" style="stroke-width:0.22px">CD34</text>
<text transform="translate(219.9,120.4) rotate(-90)" font-size="10.2" text-anchor="middle" style="stroke-width:0.22px">CD45</text>
<g clip-path="url(#c2)"><g filter="url(#sb)">
<ellipse cx="417.2" cy="97.0" rx="10.5" ry="14.0" transform="rotate(0 417.2 97.0)" fill="#f00" opacity="0.88" filter="url(#bl)"/>
<ellipse cx="421" cy="84" rx="7" ry="5" transform="rotate(-20 421 84)" fill="#f00" opacity="0.5" filter="url(#bl)"/>
<path d="M422.2 101.8h1M414.0 99.2h1M415.1 94.1h1M415.9 109.0h1M423.4 90.4h1M415.6 102.3h1M422.1 100.7h1M419.9 91.0h1M421.4 87.9h1M414.4 89.3h1M423.4 105.3h1M416.0 94.8h1M414.0 89.6h1M416.9 96.3h1M422.3 93.4h1M418.6 107.2h1M411.3 102.0h1M414.0 103.5h1M416.3 104.1h1M416.8 102.3h1M410.6 101.7h1M421.5 93.1h1M422.8 100.6h1M425.6 94.2h1M416.4 104.4h1M413.3 92.5h1M415.5 103.5h1M426.2 98.9h1M418.8 98.4h1M413.2 91.0h1M422.4 106.7h1M416.0 108.6h1M411.2 98.4h1M426.1 96.3h1M418.6 86.3h1M421.5 106.7h1M421.0 90.7h1M416.6 107.4h1M414.2 87.7h1M413.6 86.7h1M409.0 91.0h1M425.4 93.2h1M410.3 91.4h1M418.2 95.7h1M410.0 98.7h1M422.5 104.6h1M418.7 101.5h1M419.6 103.6h1M416.3 98.9h1M417.6 88.4h1M412.1 99.4h1M416.2 106.6h1M419.5 90.9h1M416.4 92.2h1M412.1 99.4h1M426.1 93.4h1M413.4 88.4h1M420.1 107.2h1M420.4 105.9h1M416.5 92.3h1M415.8 97.4h1M415.6 95.9h1M424.2 97.0h1M417.4 94.0h1M414.9 90.4h1M415.2 103.3h1M413.2 94.9h1M413.3 105.5h1M425.2 91.9h1M420.1 106.9h1M415.4 98.8h1M425.1 103.8h1M414.9 103.6h1M416.9 99.8h1M414.5 100.4h1M425.7 94.3h1M416.7 90.5h1M425.5 92.6h1M423.0 100.8h1M421.1 100.9h1M424.8 99.6h1M417.8 94.2h1M422.5 106.0h1M420.5 92.6h1M420.6 87.4h1M417.2 94.5h1M420.4 99.3h1M410.4 99.8h1M410.6 101.8h1M417.5 90.5h1M419.8 89.1h1M424.2 99.5h1M418.7 105.3h1M423.9 94.0h1M421.1 91.0h1M424.2 103.2h1M420.2 90.8h1M414.7 94.4h1M415.4 87.7h1M415.6 91.4h1M410.1 93.6h1M415.0 97.4h1M414.0 88.6h1M425.5 91.5h1M412.1 93.8h1M417.5 99.7h1M412.7 104.6h1M415.2 90.7h1M413.7 92.8h1M416.1 98.6h1M414.5 98.1h1M420.5 88.7h1M417.5 99.8h1M419.0 96.8h1M416.9 94.2h1M423.4 89.0h1M411.7 97.6h1M412.3 86.7h1M420.7 107.8h1M418.3 95.0h1M413.6 93.7h1M418.4 99.4h1M411.4 105.2h1M417.5 93.8h1M418.7 105.2h1M415.1 103.0h1M416.0 89.1h1M416.8 99.0h1M414.2 97.2h1M415.9 105.1h1M416.8 96.9h1M410.9 96.4h1M416.7 97.6h1M426.2 99.5h1M408.5 97.7h1M423.4 91.8h1M413.3 92.2h1M416.0 101.2h1M417.0 87.9h1M409.6 92.9h1M409.9 90.6h1M425.8 102.1h1M411.8 88.7h1M419.3 88.6h1M416.5 96.5h1M420.1 95.2h1M415.5 107.6h1M423.1 89.8h1M421.7 90.3h1M419.2 97.9h1M417.7 109.5h1M423.2 98.3h1M420.1 98.6h1M411.1 99.2h1M412.0 92.7h1M419.8 100.9h1M418.5 104.4h1M411.2 102.7h1M417.5 93.9h1M414.1 107.4h1M413.0 101.2h1M413.1 87.1h1M421.7 90.7h1M414.1 87.0h1M422.5 96.2h1M412.3 96.2h1M415.2 84.8h1M414.0 95.8h1M410.2 104.8h1M422.2 86.9h1M411.0 91.6h1M419.0 90.8h1M411.3 98.3h1M416.6 93.0h1M423.8 99.2h1M411.9 91.7h1M421.8 103.9h1M411.0 97.4h1M414.5 103.6h1M417.4 91.8h1M409.6 90.3h1M412.2 95.3h1M419.0 105.7h1M414.4 85.0h1M413.8 100.9h1M414.5 105.1h1M418.3 102.1h1M419.8 93.0h1M416.5 107.5h1M415.7 101.0h1M410.3 103.8h1M410.6 89.3h1M418.0 94.8h1M416.4 84.5h1M419.7 102.6h1M410.7 97.1h1M420.8 102.2h1M424.5 92.1h1M418.4 106.0h1M415.8 106.7h1M412.3 95.8h1M425.3 94.6h1M417.3 94.1h1M420.1 94.9h1M414.4 85.2h1M410.7 105.8h1M419.2 95.7h1M415.0 94.5h1M419.0 95.8h1M418.8 103.0h1M424.3 99.3h1M421.9 103.4h1M419.1 91.8h1M421.7 108.0h1M426.2 94.7h1M418.0 97.6h1M422.9 90.2h1M410.3 97.5h1M410.8 90.4h1M414.4 85.3h1M422.0 101.3h1M422.9 93.0h1M408.5 100.5h1M419.6 106.4h1M420.9 88.3h1M409.5 101.4h1M416.1 90.0h1M418.7 97.7h1M418.3 105.0h1M412.2 93.9h1M424.5 102.7h1M409.1 95.6h1M414.3 90.0h1M412.6 104.8h1M417.3 89.5h1M418.0 104.5h1M417.0 92.1h1M420.3 97.8h1M417.0 92.9h1M409.4 95.9h1M415.4 106.3h1M420.0 106.0h1M417.3 109.2h1M420.0 105.1h1M426.2 95.4h1M412.0 97.8h1M413.6 102.2h1M425.2 100.1h1M420.0 106.8h1M421.2 88.8h1M418.1 108.6h1M421.1 101.3h1M418.5 93.7h1M421.9 95.3h1M420.2 99.3h1M408.2 100.6h1M418.9 91.5h1M417.1 105.0h1M423.3 90.7h1M423.0 91.5h1M411.8 88.7h1M411.8 97.7h1M409.0 100.9h1M417.7 98.5h1M418.8 106.1h1M421.5 90.9h1M420.4 104.4h1M421.1 93.3h1M421.9 97.6h1M416.0 94.2h1M410.5 99.2h1M424.8 100.3h1M417.4 98.6h1M413.4 88.1h1M410.8 97.6h1M411.3 100.0h1M419.4 105.9h1M410.7 99.7h1M417.3 108.7h1M414.5 101.7h1M412.5 91.5h1M411.7 87.9h1M412.6 94.1h1M421.8 93.9h1M410.7 94.8h1M419.1 89.4h1M412.3 98.2h1M409.4 95.9h1M415.3 93.5h1M417.5 98.3h1M415.4 104.7h1M410.5 99.1h1M418.3 90.5h1M418.2 103.8h1M420.2 91.4h1M420.3 106.3h1M420.0 97.9h1M414.9 105.8h1M411.3 99.9h1M408.4 97.1h1M416.4 90.1h1M423.5 93.5h1M421.5 107.3h1M422.1 96.4h1M409.9 93.3h1M420.5 102.4h1M413.0 102.8h1M416.8 90.8h1M412.6 98.7h1M418.8 107.4h1M408.3 98.0h1M413.2 96.8h1M416.0 96.7h1M420.2 102.2h1M421.7 107.4h1M420.0 103.4h1M413.1 89.1h1M413.5 88.5h1M414.4 91.3h1M421.9 89.0h1M419.1 90.3h1M423.2 95.3h1M420.0 100.0h1M423.1 98.0h1M417.7 90.2h1M421.0 87.4h1M423.0 91.3h1M421.8 96.6h1M414.1 103.3h1M416.9 87.4h1M418.2 84.9h1M415.3 91.1h1M420.2 107.1h1M417.7 96.4h1M415.4 90.7h1M423.2 103.0h1M419.7 98.3h1M426.4 94.8h1M411.8 87.5h1M419.7 98.1h1M413.3 93.9h1M408.3 100.7h1M416.3 103.5h1M410.0 96.0h1M409.7 89.9h1M417.2 97.0h1M415.4 108.2h1M417.0 86.0h1M409.9 100.5h1M420.8 105.9h1M412.1 87.8h1M412.8 97.5h1M424.9 97.4h1M420.0 95.7h1M421.6 105.0h1M408.1 97.9h1M415.4 93.2h1" stroke="#ff0000" stroke-width="1" fill="none"/>
<path d="M423.3 85.1h1M415.3 116.6h1M425.6 129.1h1M419.8 114.2h1M409.4 110.1h1M413.0 109.8h1M407.9 107.5h1M429.5 93.3h1M410.8 114.7h1M425.7 87.5h1M410.5 107.5h1M418.5 77.2h1M423.4 115.7h1M425.3 104.3h1M423.3 81.1h1M403.7 116.6h1M405.5 93.0h1M432.9 95.3h1M417.3 116.4h1M404.0 90.2h1M428.0 108.3h1M425.0 110.9h1M420.1 76.7h1M407.5 93.2h1M434.8 100.6h1M419.4 81.5h1M417.6 115.3h1M436.7 76.4h1M426.8 98.5h1M410.9 87.3h1M413.5 81.6h1M427.7 101.9h1M409.2 89.7h1M403.1 90.0h1M424.3 114.6h1M421.9 114.0h1M409.7 104.7h1M433.0 92.7h1M417.8 83.9h1M407.5 100.1h1M420.5 123.1h1M420.0 83.6h1M428.9 104.1h1M406.1 98.0h1M407.6 89.7h1M409.5 105.9h1M412.1 107.9h1M413.0 109.4h1M428.4 95.5h1M422.6 86.2h1M406.0 96.5h1M419.9 81.6h1M427.6 107.5h1M426.6 104.2h1M429.3 110.0h1M406.6 87.1h1M422.9 81.7h1M428.1 89.7h1M425.1 88.9h1M404.9 88.0h1M408.9 86.8h1M408.2 80.8h1M426.7 85.3h1M434.7 92.0h1M429.6 98.1h1M426.9 90.8h1M429.0 101.2h1M427.2 98.5h1M424.9 107.0h1M433.3 83.6h1M420.2 120.3h1M405.9 94.9h1M409.2 89.2h1M406.8 107.0h1M409.0 84.1h1" stroke="#f04848" stroke-width="1" fill="none"/>
<path d="M426.4 86.1h1M414.2 115.0h1M406.7 84.4h1M407.1 109.4h1M423.8 83.5h1M421.1 80.5h1M414.6 83.2h1M424.8 108.0h1M405.3 94.1h1M413.3 109.1h1M420.9 110.6h1M427.8 94.9h1M415.7 110.7h1M424.6 107.0h1M423.9 107.9h1M417.8 82.2h1M406.8 98.6h1M407.9 87.4h1M430.2 101.7h1M407.4 97.0h1M421.6 113.3h1M432.4 101.5h1M414.9 78.7h1M426.5 110.0h1M427.5 89.4h1M419.7 82.7h1M404.9 84.2h1M429.3 86.7h1M425.6 108.2h1M418.5 83.8h1M409.8 80.1h1M413.3 111.2h1M403.3 97.8h1M422.6 82.3h1M427.8 85.9h1M424.6 106.9h1M427.0 92.0h1M427.1 90.8h1M410.9 106.4h1M428.0 103.8h1M427.6 97.9h1M407.9 110.9h1M424.0 112.7h1M407.8 87.2h1M428.8 92.0h1M407.1 98.6h1M421.2 109.7h1M411.9 82.0h1M404.8 101.7h1M418.2 79.2h1M425.1 80.2h1M403.3 94.2h1M418.9 109.6h1M406.7 84.3h1M427.5 107.5h1M424.9 81.3h1M416.2 79.9h1M409.7 86.5h1M416.6 113.6h1M407.8 97.8h1M416.9 111.8h1M420.2 85.0h1M426.4 86.5h1M410.9 85.5h1M407.3 89.1h1M407.7 93.1h1M419.3 79.6h1M432.7 100.5h1M421.3 80.0h1M405.9 93.1h1M425.8 111.8h1M427.5 94.6h1M428.8 94.7h1M411.9 83.8h1M425.4 103.5h1M409.1 89.8h1M415.5 83.2h1M407.2 90.6h1M407.2 92.5h1M420.3 111.0h1M409.1 83.5h1M418.5 110.3h1M421.6 111.1h1M414.7 109.6h1M416.0 117.5h1M405.7 91.6h1M410.9 83.9h1M426.2 83.1h1M407.2 95.1h1M420.4 116.6h1M416.8 82.9h1M427.1 93.6h1M430.7 91.7h1M427.4 89.3h1M412.3 110.3h1M406.7 103.5h1M419.0 81.4h1M413.8 109.0h1M408.0 90.8h1M426.7 88.2h1M403.7 95.5h1M417.7 110.5h1M431.8 102.5h1M430.0 104.1h1M409.0 112.1h1M409.0 105.3h1M406.6 109.7h1M426.8 92.7h1M427.6 104.3h1M420.6 109.3h1M430.2 108.5h1M430.0 100.7h1M405.8 92.2h1M405.2 91.4h1M430.0 97.3h1" stroke="#ff1818" stroke-width="1" fill="none"/>
<path d="M413.0 100.5h1M411.5 95.4h1M423.1 94.8h1M416.6 99.0h1M410.6 99.7h1M418.6 95.2h1M417.0 100.0h1M412.7 88.3h1M411.0 104.5h1M424.9 92.1h1M414.9 92.6h1M420.6 90.3h1M420.9 98.1h1M408.8 97.8h1M418.6 84.9h1M409.6 98.0h1M413.1 93.6h1M420.5 90.1h1M420.2 93.6h1M416.9 97.2h1M415.1 101.8h1M420.7 105.7h1M411.3 90.2h1M412.3 101.7h1M419.9 107.0h1M414.3 92.8h1M417.4 101.9h1M417.4 102.1h1M416.6 103.6h1M416.9 94.2h1M409.9 97.0h1M416.1 87.6h1M411.3 102.9h1M414.5 88.4h1M411.6 104.9h1M417.9 86.3h1M417.2 103.2h1M415.9 109.4h1M412.6 94.2h1M417.1 91.5h1M413.4 105.6h1M417.5 100.4h1M408.9 101.5h1M424.9 95.2h1M421.0 85.7h1M418.0 100.4h1M415.0 85.6h1M422.2 104.8h1M417.6 108.0h1M411.8 90.0h1M419.9 96.7h1M415.7 98.0h1M424.8 100.4h1M421.7 104.8h1M410.0 94.2h1M420.5 108.2h1M413.3 101.7h1M414.9 94.0h1" stroke="#ff2020" stroke-width="1" fill="none"/>
<path d="M404.9 107.7h1M409.1 107.3h1M426.9 82.5h1M416.2 111.9h1M408.2 84.9h1M426.1 92.3h1M405.0 88.3h1M407.8 94.0h1M408.3 87.9h1M413.4 112.4h1M421.9 79.7h1M412.4 113.4h1M425.8 87.0h1M430.3 88.3h1M411.6 109.4h1M431.4 99.6h1M409.6 104.6h1M425.5 107.2h1M426.7 107.0h1M423.8 108.4h1M409.6 114.0h1M413.0 109.5h1M404.7 88.8h1M414.7 113.7h1M426.9 99.7h1M410.1 107.3h1M430.1 89.1h1M424.5 108.4h1M404.6 88.0h1M403.7 88.2h1M413.0 115.2h1" stroke="#c02828" stroke-width="1" fill="none"/>
<path d="M403.9 92.2h1M422.3 112.5h1M406.2 108.0h1M409.2 106.1h1M431.0 89.8h1M406.9 89.3h1M405.4 97.4h1M411.8 83.9h1M420.7 84.5h1M419.1 83.3h1M428.1 83.2h1M426.1 89.7h1M419.7 82.9h1M429.4 103.9h1M424.5 106.6h1M421.1 84.2h1M406.4 94.9h1M411.9 79.0h1M425.4 104.5h1M419.3 117.7h1M405.1 99.8h1M415.7 114.5h1M409.5 107.5h1M415.4 81.0h1M407.0 105.6h1M404.9 92.6h1M424.8 107.1h1M410.7 111.5h1M407.7 94.7h1" stroke="#ff9a9a" stroke-width="1" fill="none"/>
<path d="M427.6 115.1h1M422.3 75.5h1M433.0 83.8h1M418.1 125.4h1M434.8 87.0h1M404.7 81.3h1M403.7 111.9h1M405.7 78.3h1M407.1 116.6h1" stroke="#b04040" stroke-width="1" fill="none"/>
<path d="M424.2 88.7h1M415.5 94.9h1M410.6 89.7h1M420.2 107.2h1M424.5 94.1h1M410.5 94.7h1M410.9 100.6h1M416.6 103.0h1M414.1 92.3h1M413.2 91.4h1M416.1 91.8h1M410.8 98.3h1M413.3 107.0h1M412.9 91.3h1M413.8 91.1h1M416.1 102.7h1M419.6 93.8h1M415.8 102.9h1M413.9 91.8h1M417.4 102.4h1M423.9 104.5h1M424.9 98.6h1" stroke="#ff8080" stroke-width="1" fill="none"/>
<path d="M405.1 116.7h1M418.0 118.1h1M412.5 118.2h1M426.9 77.1h1M405.8 119.2h1M406.1 81.3h1M429.6 76.5h1M411.2 74.4h1M407.4 76.2h1M438.2 124.6h1M441.1 95.5h1" stroke="#c4a8a8" stroke-width="1" fill="none"/>
<path d="M418.7 75.5h1M419.4 125.3h1M429.9 109.9h1M430.2 109.4h1M434.4 84.3h1M438.6 104.5h1M429.7 116.5h1M428.4 114.9h1M434.8 100.0h1M424.0 119.7h1M428.1 114.1h1M408.7 115.8h1" stroke="#e87878" stroke-width="1" fill="none"/>
<path d="M410.7 82.7h1M432.5 78.8h1M407.4 86.3h1M420.6 86.8h1M419.5 81.7h1M434.6 83.9h1M418.6 85.3h1M427.7 85.0h1M427.9 93.6h1M419.6 81.8h1M423.1 87.3h1M419.0 84.3h1M424.2 79.2h1M417.0 84.3h1M413.6 90.4h1M422.0 85.1h1M425.9 79.9h1M417.9 86.6h1M429.3 80.0h1M413.4 84.4h1M424.1 84.7h1M427.5 89.4h1M427.9 86.4h1M423.3 81.6h1M423.9 85.7h1M408.7 80.3h1M427.6 82.9h1M427.5 80.5h1M425.5 86.5h1M426.3 82.3h1M428.3 86.0h1M425.1 85.4h1M420.3 82.7h1M417.7 81.6h1M425.0 86.9h1" stroke="#a82828" stroke-width="1" fill="none"/>
<path d="M414.2 88.2h1M425.5 81.0h1M427.7 86.9h1M420.8 83.7h1M424.3 85.9h1M409.5 85.9h1M418.5 84.9h1M421.4 86.8h1M416.9 78.1h1M419.2 79.8h1M425.1 87.2h1M425.4 75.9h1M422.0 81.6h1M422.2 85.1h1M415.7 85.0h1M417.3 84.4h1M415.8 85.4h1M422.4 81.6h1M426.2 86.0h1M427.4 83.7h1M420.7 88.0h1M430.5 80.8h1M422.1 79.9h1M424.3 85.5h1M414.6 80.8h1M421.6 82.0h1M421.9 83.2h1M420.1 82.0h1M417.0 84.3h1M429.8 82.9h1M418.6 88.0h1M420.2 81.3h1M415.2 78.8h1M425.7 85.8h1M411.6 81.3h1M426.3 81.6h1M424.0 86.1h1M429.0 86.2h1M426.1 93.5h1M417.4 85.7h1M420.0 80.7h1M429.4 84.5h1M427.3 85.2h1M426.8 83.0h1M423.3 84.9h1M424.4 91.8h1M414.1 81.6h1M422.1 81.3h1M417.4 85.3h1M418.7 83.1h1M427.3 81.2h1M427.6 84.4h1M420.2 87.5h1M425.5 81.6h1M424.7 84.7h1M420.0 87.3h1M428.3 83.2h1M415.8 79.0h1M419.2 87.3h1M412.9 87.5h1M419.0 79.8h1M418.9 86.5h1M413.9 76.7h1M412.0 93.1h1M420.9 86.2h1M419.5 91.8h1M426.8 81.6h1M420.4 86.5h1M411.7 83.7h1M416.6 81.4h1M427.2 80.7h1M420.9 90.2h1M423.4 87.6h1M413.0 85.0h1M422.8 80.1h1M417.3 82.0h1M415.9 84.9h1M416.3 84.1h1M421.9 82.2h1M413.2 87.7h1M413.8 81.0h1M433.2 85.7h1M412.0 87.3h1M410.6 83.9h1M425.5 84.3h1M423.7 85.4h1M426.0 79.6h1M428.3 84.5h1M427.1 81.9h1M414.8 79.7h1M422.8 82.0h1M418.2 82.5h1M410.6 86.6h1" stroke="#f02020" stroke-width="1" fill="none"/>
<path d="M425.9 91.5h1M419.0 83.5h1M425.0 87.7h1M422.1 77.9h1M420.1 87.8h1M419.7 79.4h1M422.1 81.5h1M417.2 84.2h1M422.3 89.8h1M414.2 81.2h1M419.7 79.9h1M417.3 87.2h1M405.0 80.0h1M418.6 81.0h1M421.5 76.7h1M420.6 82.9h1M424.5 76.8h1M433.7 86.1h1M421.6 82.0h1M415.3 77.4h1M419.0 75.5h1M422.1 87.8h1M421.3 85.0h1M429.2 78.7h1M418.8 83.4h1M423.8 83.5h1M420.8 88.4h1M421.1 77.7h1M426.5 74.2h1M424.4 85.3h1M423.1 75.4h1M421.0 85.3h1M413.0 85.6h1M417.0 78.1h1M416.9 88.6h1M417.4 83.1h1M422.3 83.1h1M423.2 89.0h1M411.5 84.3h1M419.1 85.3h1M416.9 85.2h1M426.1 81.4h1M413.9 83.7h1" stroke="#f08080" stroke-width="1" fill="none"/>
<path d="M424.8 84.7h1M428.5 82.4h1M418.2 86.4h1M424.1 86.3h1M424.6 79.3h1M422.9 87.7h1M428.9 86.0h1M425.9 81.3h1M420.7 88.8h1M417.0 84.3h1M407.2 76.2h1M419.9 79.4h1M428.2 85.5h1M426.3 81.2h1M428.6 88.4h1M419.3 80.9h1M427.4 86.5h1M428.7 86.4h1M415.9 83.6h1M424.6 84.7h1M424.8 83.8h1M420.7 84.5h1M430.1 82.1h1M418.9 85.8h1M409.5 81.4h1M419.6 80.9h1M421.6 80.2h1M431.9 79.8h1M424.6 85.1h1M418.8 83.9h1M418.0 82.4h1M407.0 86.3h1M419.4 81.9h1M425.4 83.7h1M419.0 79.1h1M420.6 85.7h1M422.3 82.5h1M421.7 81.5h1M421.5 85.5h1M422.5 82.1h1M417.5 84.2h1M422.3 92.0h1M425.0 93.6h1M420.7 83.1h1M425.9 82.4h1M417.7 75.4h1M418.5 91.4h1" stroke="#d83838" stroke-width="1" fill="none"/>
<path d="M446.0 102.0h1M434.5 100.6h1M461.3 101.1h1M429.5 89.8h1M435.2 100.5h1M434.1 105.7h1M461.5 96.7h1M436.6 82.6h1M444.5 102.5h1M439.6 100.4h1M451.6 96.4h1M442.3 99.7h1M432.1 94.9h1M442.9 99.1h1M460.5 99.1h1M464.8 97.3h1M459.0 97.3h1M461.6 96.3h1M440.4 99.8h1M438.5 101.0h1M438.0 93.3h1M445.7 90.2h1M460.6 101.1h1M440.2 102.9h1M430.7 87.8h1M458.6 96.2h1M454.8 97.7h1M452.5 99.1h1M457.8 94.2h1M444.8 99.0h1M462.9 94.6h1M467.3 97.6h1M461.0 100.2h1M451.2 96.7h1M453.0 85.5h1M430.7 91.2h1M463.2 95.4h1M444.8 94.3h1M457.9 90.6h1M435.2 101.5h1M431.5 104.9h1M454.8 98.1h1M440.5 95.9h1M435.4 96.9h1M431.5 95.2h1M438.4 102.8h1M445.0 102.8h1M461.7 100.2h1M453.8 96.3h1M452.9 99.2h1M465.6 93.3h1M455.5 90.2h1M439.0 94.6h1M443.9 97.9h1M442.2 98.6h1M437.6 95.3h1M431.6 97.9h1M436.9 90.6h1M441.0 94.1h1M461.0 92.6h1M450.1 94.1h1M441.8 101.6h1M438.3 94.8h1M445.4 98.7h1M450.0 94.2h1M439.0 96.4h1M456.1 99.7h1M457.7 99.1h1M442.7 95.6h1M446.1 88.7h1M445.7 100.4h1M438.3 104.8h1M466.3 94.5h1M451.6 97.3h1M437.5 101.3h1M434.0 100.4h1M467.7 95.5h1M433.1 86.7h1M444.1 108.7h1M434.6 103.6h1M451.9 95.8h1M439.8 95.9h1M448.8 104.8h1M466.1 100.2h1M435.9 90.8h1M448.8 99.7h1M443.8 100.7h1M446.5 98.3h1M431.7 92.6h1M430.1 104.1h1M442.4 101.0h1M445.7 84.8h1M459.2 95.5h1M449.7 96.6h1M440.3 94.5h1M437.1 105.3h1M434.0 97.7h1M454.3 97.1h1M466.8 94.5h1M450.5 95.4h1M432.0 105.4h1M449.0 96.8h1M442.6 96.9h1M431.4 108.1h1M463.8 101.5h1M447.5 98.1h1M433.1 101.5h1M438.2 105.4h1M441.6 104.6h1M434.5 100.2h1M430.8 101.7h1M432.6 93.1h1M437.1 98.5h1M429.5 93.2h1M440.0 90.2h1M431.5 94.6h1M464.5 97.3h1M458.0 100.4h1M431.6 107.7h1M452.6 99.9h1M446.4 98.3h1M445.6 92.8h1M446.2 101.4h1M431.3 93.0h1M455.9 99.9h1M431.6 102.5h1M461.1 96.8h1M441.4 94.3h1M436.3 95.9h1M437.8 97.8h1M444.0 100.6h1M453.6 92.6h1M465.5 97.0h1M460.0 96.3h1M434.8 99.9h1M465.1 97.1h1M456.7 101.9h1M440.3 93.7h1M446.7 102.6h1M436.6 99.0h1M437.5 92.3h1M451.0 96.0h1M463.3 99.3h1M435.4 98.5h1M444.6 97.6h1M439.3 101.2h1M442.1 88.6h1M452.0 94.9h1M431.2 98.3h1M441.2 98.5h1M460.4 95.3h1M439.8 97.2h1M441.6 108.6h1M440.1 101.0h1M445.5 103.6h1M433.1 99.7h1M452.4 94.8h1M437.1 98.3h1M449.0 101.5h1M459.8 91.7h1M438.1 99.8h1M430.1 99.1h1M447.6 99.2h1M436.1 89.8h1M439.1 94.3h1M460.8 98.4h1M441.0 90.8h1M463.8 94.8h1M434.1 101.1h1M449.6 92.5h1M465.3 97.7h1" stroke="#e04040" stroke-width="1" fill="none"/>
<path d="M446.2 97.0h1M453.4 93.8h1M435.2 94.3h1M448.8 92.3h1M445.7 95.6h1M444.7 103.1h1M458.2 99.6h1M457.7 98.0h1M438.2 92.3h1M429.6 106.5h1M442.1 98.8h1M433.7 88.5h1M446.0 104.1h1M439.2 98.7h1M445.1 107.3h1M435.2 99.7h1M431.4 102.0h1M439.0 102.5h1M439.4 109.2h1M442.1 93.3h1M446.2 102.6h1M439.0 92.3h1M467.8 100.7h1M434.5 101.3h1M450.6 105.7h1M443.8 104.9h1M431.2 103.1h1M440.2 104.0h1M444.2 107.7h1M445.8 97.7h1M447.8 96.8h1M446.3 106.9h1M434.4 96.4h1M434.5 96.7h1M458.9 101.2h1M434.7 96.9h1M451.8 90.2h1M463.9 99.4h1M434.2 95.0h1M434.1 92.4h1M457.9 96.3h1M431.0 104.2h1M465.4 100.8h1M465.0 96.8h1M443.0 95.0h1M434.6 91.5h1M454.6 100.0h1M433.0 88.2h1M450.8 94.0h1M453.3 99.5h1M439.0 88.6h1M459.6 97.3h1M445.7 93.8h1M462.7 102.9h1M443.9 100.8h1M456.0 97.3h1M431.2 100.2h1M450.5 99.1h1M432.7 94.4h1M458.1 96.9h1M450.5 101.4h1M462.5 98.1h1M430.8 102.4h1M438.5 88.8h1M452.8 95.6h1M432.7 88.0h1M457.8 100.2h1M436.1 101.5h1M432.2 102.7h1M434.8 101.4h1M448.0 96.9h1M434.6 104.7h1M456.6 99.1h1M436.1 99.9h1M444.9 102.3h1M444.6 96.9h1M432.9 106.2h1M431.8 105.8h1M460.4 98.0h1" stroke="#f08888" stroke-width="1" fill="none"/>
<path d="M441.3 95.7h1M434.7 99.0h1M461.5 98.5h1M438.2 101.2h1M430.5 116.0h1M441.2 91.3h1M456.6 95.8h1M457.6 97.9h1M456.0 104.2h1M438.0 98.2h1M459.8 94.5h1M435.4 92.5h1M438.2 98.3h1M450.1 102.7h1M463.7 97.6h1M445.7 99.7h1M455.3 96.4h1M444.3 105.1h1M452.5 102.6h1M432.8 99.8h1M433.7 109.4h1M438.2 98.3h1M442.6 100.2h1M438.7 100.8h1M463.9 104.4h1M453.9 94.9h1M451.7 103.5h1M458.7 98.2h1M444.7 101.8h1M466.3 98.2h1M452.8 103.8h1M459.6 94.3h1M433.2 105.8h1M457.8 95.1h1M456.7 97.7h1M464.0 95.9h1M464.5 99.2h1M455.7 102.4h1M446.5 99.5h1M440.1 100.6h1M448.0 93.5h1M438.7 102.6h1M448.1 93.7h1M453.5 101.0h1M441.6 99.4h1M440.7 100.4h1M432.0 99.7h1M434.5 97.4h1M432.4 91.4h1M436.4 97.4h1M435.5 105.5h1M431.8 93.6h1M432.1 95.0h1M430.5 94.7h1M449.6 95.8h1M460.6 94.4h1M462.5 100.1h1M435.5 94.6h1M458.7 95.3h1M439.7 101.6h1M444.5 99.0h1M462.1 98.5h1M440.0 96.5h1M446.1 98.3h1M448.8 98.4h1M432.7 93.6h1M455.1 98.8h1M443.5 87.7h1M458.1 97.2h1M465.9 99.3h1M447.4 97.8h1M435.3 115.0h1M464.0 103.7h1M444.7 94.2h1M440.4 89.5h1M433.5 90.8h1M437.3 104.1h1" stroke="#c0a4a4" stroke-width="1" fill="none"/>
<path d="M467.1 97.7h1M464.8 100.3h1M446.2 97.3h1M437.8 100.0h1M458.4 99.6h1M440.5 107.2h1M435.2 87.7h1M465.1 100.9h1M439.9 95.2h1M460.5 96.0h1M457.3 95.8h1M439.4 89.3h1M432.8 83.3h1M455.2 95.6h1M454.5 108.3h1M452.5 99.0h1M431.0 90.8h1M460.1 98.7h1M433.1 105.7h1M432.1 100.0h1M442.7 103.2h1M441.8 96.6h1M441.3 101.3h1M429.7 92.2h1M430.4 95.5h1M450.9 99.1h1M431.6 102.1h1M446.6 95.7h1M454.0 100.4h1M444.3 95.6h1M441.0 90.1h1M431.5 97.2h1M449.1 97.6h1M448.0 99.9h1M464.4 96.2h1M440.1 88.7h1M466.5 97.3h1M433.2 103.2h1M438.6 86.5h1M436.4 88.6h1M433.5 84.4h1M457.4 90.2h1M448.7 97.0h1M439.4 95.2h1M447.7 104.7h1M442.6 100.5h1M463.8 99.3h1M441.9 94.5h1M436.1 98.2h1M434.4 94.8h1M447.9 97.5h1M456.6 97.6h1M435.9 97.7h1M440.0 104.2h1M437.3 103.4h1M440.0 96.3h1M441.5 97.6h1M456.1 92.4h1M446.7 90.6h1M433.6 106.1h1M457.9 98.6h1M430.1 102.1h1M445.6 98.7h1M465.4 100.9h1M461.1 104.6h1M441.8 99.0h1M437.1 96.6h1M438.3 98.7h1M429.6 106.3h1M433.2 100.0h1M452.9 97.9h1M453.6 92.8h1M462.5 95.8h1M439.0 104.6h1M453.4 99.1h1M439.5 96.8h1M430.8 86.5h1M463.0 98.8h1M431.5 100.5h1M462.9 97.7h1M453.6 101.7h1M437.6 95.6h1M456.9 103.9h1M454.6 99.9h1M441.2 94.4h1M442.6 100.2h1M437.2 95.1h1M444.8 97.0h1M463.5 96.6h1M452.5 91.5h1M439.1 97.1h1M444.0 100.7h1M456.3 95.1h1" stroke="#b03838" stroke-width="1" fill="none"/>
<path d="M420.0 121.5h1M431.6 156.6h1M456.7 157.5h1M445.3 138.7h1M413.8 159.3h1M408.6 119.7h1M423.5 150.7h1M416.9 156.6h1" stroke="#b8a8a8" stroke-width="1" fill="none"/>
<path d="M422.6 159.4h1M409.5 139.3h1M417.9 132.3h1M447.8 136.1h1M433.3 123.4h1M424.0 131.8h1M412.2 161.3h1M459.7 142.5h1M437.1 133.6h1M454.3 154.2h1" stroke="#c07070" stroke-width="1" fill="none"/>
<path d="M408.0 129.3h1M439.7 162.1h1M427.7 156.6h1M440.9 159.1h1" stroke="#a04040" stroke-width="1" fill="none"/>
</g></g>
<rect x="402.5" y="61.5" width="115.40" height="106.10" fill="none" stroke="#333" stroke-width="1.1"/>
<path d="M431.8 61.5V167.6M402.5 141.0H517.9" stroke="#4a4a4a" stroke-width="1.1" fill="none"/>
<path d="M405.02 167.60v3.4M408.59 167.60v3.4M411.36 167.60v3.4M413.62 167.60v3.4M415.53 167.60v3.4M417.18 167.60v3.4M418.64 167.60v3.4M419.95 167.60v5.2M428.54 167.60v3.4M433.57 167.60v3.4M437.14 167.60v3.4M439.91 167.60v3.4M442.17 167.60v3.4M444.08 167.60v3.4M445.73 167.60v3.4M447.19 167.60v3.4M448.50 167.60v5.2M457.09 167.60v3.4M462.12 167.60v3.4M465.69 167.60v3.4M468.46 167.60v3.4M470.72 167.60v3.4M472.63 167.60v3.4M474.28 167.60v3.4M475.74 167.60v3.4M477.05 167.60v5.2M485.64 167.60v3.4M490.67 167.60v3.4M494.24 167.60v3.4M497.01 167.60v3.4M499.27 167.60v3.4M501.18 167.60v3.4M502.83 167.60v3.4M504.29 167.60v3.4M505.60 167.60v5.2M514.19 167.60v3.4M402.50 165.90h-2.8M402.50 162.61h-2.8M402.50 160.05h-2.8M402.50 157.96h-2.8M402.50 156.19h-2.8M402.50 154.66h-2.8M402.50 153.31h-2.8M402.50 152.10h-4.6M402.50 144.15h-2.8M402.50 139.50h-2.8M402.50 136.21h-2.8M402.50 133.65h-2.8M402.50 131.56h-2.8M402.50 129.79h-2.8M402.50 128.26h-2.8M402.50 126.91h-2.8M402.50 125.70h-4.6M402.50 117.75h-2.8M402.50 113.10h-2.8M402.50 109.81h-2.8M402.50 107.25h-2.8M402.50 105.16h-2.8M402.50 103.39h-2.8M402.50 101.86h-2.8M402.50 100.51h-2.8M402.50 99.30h-4.6M402.50 91.35h-2.8M402.50 86.70h-2.8M402.50 83.41h-2.8M402.50 80.85h-2.8M402.50 78.76h-2.8M402.50 76.99h-2.8M402.50 75.46h-2.8M402.50 74.11h-2.8M402.50 72.90h-4.6M402.50 64.95h-2.8" stroke="#333" stroke-width="1" fill="none"/>
<text x="413.67" y="185.90" font-size="9.6" style="stroke-width:0.2px">10<tspan dy="-4.4" font-size="6.8">2</tspan></text>
<text x="442.57" y="185.90" font-size="9.6" style="stroke-width:0.2px">10<tspan dy="-4.4" font-size="6.8">3</tspan></text>
<text x="471.47" y="185.90" font-size="9.6" style="stroke-width:0.2px">10<tspan dy="-4.4" font-size="6.8">4</tspan></text>
<text x="500.37" y="185.90" font-size="9.6" style="stroke-width:0.2px">10<tspan dy="-4.4" font-size="6.8">5</tspan></text>
<text x="393.30" y="79.90" font-size="9.5" text-anchor="end" style="stroke-width:0.2px">10</text>
<text x="396.90" y="75.50" font-size="6.6" text-anchor="end" style="stroke-width:0.15px">5</text>
<text x="393.30" y="105.80" font-size="9.5" text-anchor="end" style="stroke-width:0.2px">10</text>
<text x="396.90" y="101.40" font-size="6.6" text-anchor="end" style="stroke-width:0.15px">4</text>
<text x="393.30" y="132.70" font-size="9.5" text-anchor="end" style="stroke-width:0.2px">10</text>
<text x="396.90" y="128.30" font-size="6.6" text-anchor="end" style="stroke-width:0.15px">3</text>
<text x="393.30" y="159.50" font-size="9.5" text-anchor="end" style="stroke-width:0.2px">10</text>
<text x="396.90" y="155.10" font-size="6.6" text-anchor="end" style="stroke-width:0.15px">2</text>
<text x="463.0" y="196.6" font-size="10.2" text-anchor="middle" style="stroke-width:0.22px">CD34</text>
<text transform="translate(379.9,118.0) rotate(-90)" font-size="10.2" text-anchor="middle" style="stroke-width:0.22px">CD45</text>
<g clip-path="url(#c3)"><g filter="url(#sb)">
<ellipse cx="86.1" cy="275.5" rx="7.2" ry="10.2" transform="rotate(0 86.1 275.5)" fill="#f00" opacity="1.0" filter="url(#bl)"/>
<path d="M76.8 279.4h1M87.3 287.0h1M87.9 261.0h1M82.5 283.5h1M82.3 266.6h1M78.3 276.3h1M88.7 264.0h1M86.2 288.3h1M81.1 266.5h1M95.7 269.0h1M89.7 261.9h1M81.4 265.8h1M92.8 272.4h1M87.1 265.2h1M85.6 260.9h1M83.1 287.8h1M94.8 271.1h1M92.3 269.6h1M82.4 264.1h1M92.9 276.3h1M78.6 271.0h1M79.7 282.7h1M93.6 275.1h1M92.9 280.9h1M77.0 275.8h1M80.1 287.5h1M87.0 284.8h1M80.7 265.3h1M77.7 283.0h1M91.9 268.8h1M88.9 284.7h1M88.5 284.0h1M90.9 265.4h1M79.1 277.2h1M89.4 288.5h1M91.3 287.9h1M91.4 287.2h1M77.0 281.2h1M82.8 285.2h1M86.9 264.2h1M87.9 285.2h1M81.9 263.8h1M86.1 289.5h1M84.9 287.6h1M90.5 285.2h1M84.5 290.1h1M91.1 285.7h1M82.2 264.2h1M94.4 270.0h1M82.5 266.2h1M80.0 284.3h1M75.8 276.7h1M78.5 273.4h1M85.4 264.7h1M80.0 282.9h1M92.8 275.2h1M92.0 288.0h1M94.4 270.7h1M81.9 287.0h1M86.9 264.2h1M93.6 277.0h1M84.2 287.4h1M96.4 272.6h1M88.0 265.6h1M85.3 265.5h1M85.1 286.1h1M92.6 277.8h1M85.7 265.4h1M90.4 262.9h1M80.0 266.6h1M92.4 267.0h1M95.9 276.0h1M78.4 266.9h1M90.2 265.2h1M81.5 287.1h1M84.1 287.9h1M82.9 287.4h1M83.5 267.0h1M91.6 285.3h1M78.9 281.1h1M80.4 267.7h1M90.5 264.6h1M93.5 279.0h1M79.7 277.4h1M88.0 287.4h1M78.5 274.3h1M83.7 288.4h1M92.3 287.8h1M79.6 272.1h1M88.2 264.2h1M86.6 264.5h1M94.0 274.1h1M85.4 290.5h1M85.0 285.2h1M87.5 265.6h1M80.6 280.9h1M79.1 280.5h1M83.5 263.1h1M77.9 278.4h1M81.7 286.2h1M88.2 287.0h1M93.6 272.8h1M80.6 285.1h1M83.4 262.5h1M78.9 274.1h1M88.4 286.3h1M79.5 280.5h1M91.7 267.0h1M80.1 282.5h1M86.6 265.8h1M78.3 268.1h1M91.9 271.0h1M80.0 279.6h1M88.5 260.6h1M81.7 267.8h1M81.7 264.9h1M94.9 277.4h1M94.3 275.3h1M92.8 264.8h1M77.8 275.5h1M80.8 264.2h1M87.0 285.3h1M92.9 280.2h1M77.5 284.4h1M78.6 264.4h1M82.5 262.8h1M95.0 279.8h1M80.8 262.7h1M84.5 285.3h1M93.7 285.7h1M86.8 287.6h1M80.8 288.1h1M83.1 285.1h1M92.3 269.5h1M85.5 290.6h1M78.6 270.0h1M93.0 280.1h1M91.7 282.9h1M90.8 283.3h1M84.7 285.2h1M83.1 264.3h1M85.1 263.0h1M91.8 283.9h1M76.7 282.8h1M84.7 265.6h1M89.5 265.7h1M81.7 285.4h1M80.3 286.7h1M81.9 266.3h1M82.2 286.0h1M94.2 283.8h1M85.3 290.6h1M85.1 284.6h1M89.0 288.7h1M83.1 289.7h1M85.9 287.3h1M82.8 288.3h1M88.1 285.3h1M86.7 290.6h1M85.6 289.0h1M88.3 287.9h1M93.0 284.3h1M88.7 290.2h1M78.2 285.7h1M85.6 288.0h1M89.2 287.3h1M85.6 289.1h1M92.3 285.4h1M86.1 285.1h1M85.9 290.0h1M86.8 287.1h1M87.5 286.3h1M82.8 288.3h1M77.9 284.5h1M83.4 289.5h1M88.9 288.6h1M89.2 286.8h1M84.6 287.0h1M94.6 284.3h1M84.7 290.0h1M90.7 286.6h1M94.7 281.1h1M93.3 283.0h1M82.9 287.4h1M85.9 288.6h1M94.2 282.3h1M87.5 289.0h1M91.5 285.3h1M82.2 288.5h1M87.3 287.0h1M88.3 288.7h1M88.2 288.0h1M83.3 286.8h1" stroke="#ff1818" stroke-width="1" fill="none"/>
<path d="M87.6 269.3h1M91.2 273.9h1M86.6 273.0h1M85.4 281.1h1M92.0 274.4h1M91.7 279.4h1M82.8 268.2h1M84.8 282.3h1M85.2 270.3h1M84.4 275.1h1M90.1 273.1h1M80.1 275.5h1M81.8 271.7h1M88.8 271.5h1M85.4 283.8h1M82.9 273.3h1M86.0 268.9h1M85.8 273.4h1M86.6 275.8h1M82.2 274.7h1M83.8 279.5h1M86.8 279.0h1M83.3 278.8h1M85.1 270.3h1M82.5 273.6h1M85.4 272.6h1M85.0 278.4h1M90.2 273.9h1M88.8 279.7h1M86.7 273.8h1M89.1 276.4h1M87.1 267.3h1M86.7 276.9h1M88.9 270.0h1M83.1 282.2h1M88.2 274.4h1M90.6 275.0h1M82.0 270.3h1M83.1 267.8h1M83.0 279.5h1M83.9 276.0h1M81.9 280.1h1M84.1 268.1h1M87.4 266.7h1M86.1 277.2h1M86.0 282.7h1M83.2 279.1h1M84.8 267.6h1M82.3 278.8h1M85.9 277.1h1M86.4 284.5h1M83.1 278.6h1M84.2 269.8h1M84.0 268.0h1M89.2 279.7h1M80.3 275.0h1M82.8 274.4h1M83.1 274.2h1M87.5 270.7h1M82.5 282.2h1M85.0 277.9h1M89.1 281.0h1M83.1 278.1h1M83.1 270.8h1M89.8 276.0h1M82.8 268.0h1M84.1 277.3h1M84.3 281.3h1M87.3 270.1h1M88.2 272.4h1M87.9 281.2h1M82.0 272.5h1M84.3 271.7h1M81.3 277.1h1M83.9 272.4h1M86.1 270.2h1M86.7 267.9h1M86.0 272.6h1M88.2 273.8h1M88.3 280.7h1M87.2 273.4h1M82.1 280.1h1M80.9 271.0h1M86.5 276.8h1M85.9 270.9h1M87.4 281.2h1M80.8 272.1h1M86.6 272.4h1M91.4 273.0h1M83.1 283.5h1M82.4 281.4h1M87.9 275.1h1M89.3 278.6h1M86.0 275.6h1M82.7 271.8h1M85.5 275.0h1M86.9 276.6h1M84.0 283.0h1M85.6 278.7h1M84.6 273.5h1M85.4 277.9h1M88.7 269.5h1M84.0 279.4h1M89.0 271.8h1M83.7 282.8h1M88.2 273.7h1M88.5 273.8h1M85.6 270.5h1M83.6 273.2h1M86.5 284.2h1M81.1 280.7h1M84.4 271.3h1M90.3 275.6h1M86.2 266.6h1M86.8 270.5h1M83.2 270.7h1M89.9 278.3h1M87.4 272.3h1M87.8 266.9h1M85.0 275.2h1M87.7 282.5h1M82.8 270.9h1M91.5 278.4h1M83.8 275.2h1M84.0 275.8h1M86.7 270.4h1M86.8 273.1h1M87.2 267.0h1M87.9 267.8h1M91.4 271.1h1M84.6 280.6h1M87.8 271.8h1M89.4 276.5h1M89.4 278.4h1M87.4 272.0h1M83.0 270.6h1M80.4 273.2h1M91.2 271.3h1M84.2 283.7h1M87.1 283.1h1M85.4 280.9h1M81.5 281.7h1M85.6 275.2h1M85.4 278.2h1M84.6 284.2h1M86.7 279.5h1M86.5 284.1h1M84.3 284.0h1M87.3 278.7h1M89.6 269.6h1M86.0 276.5h1M87.2 267.7h1M91.8 276.1h1M86.9 276.7h1M82.7 270.4h1M82.9 271.9h1M90.6 277.4h1M89.2 273.5h1M91.7 278.5h1M84.2 271.8h1M90.8 281.7h1M86.0 279.2h1M87.9 271.9h1M90.6 274.4h1M86.2 274.2h1M80.2 273.4h1M85.5 275.3h1M83.5 267.9h1M85.2 274.1h1M81.8 279.4h1M87.8 281.1h1M85.7 275.4h1M81.1 270.8h1M85.3 266.4h1M83.7 277.3h1M83.7 283.5h1M84.3 272.1h1M83.5 268.7h1M84.6 271.9h1M85.0 268.4h1M86.7 270.3h1M85.0 284.2h1M81.2 279.8h1M87.7 276.2h1M87.2 277.8h1M87.6 275.5h1M89.1 270.1h1M89.5 275.3h1M86.6 275.4h1M80.8 276.8h1M86.8 283.9h1M80.6 275.0h1M86.6 281.5h1M88.8 279.6h1M85.3 273.7h1M91.1 273.7h1M84.4 277.1h1M91.7 271.9h1M84.0 273.6h1M82.6 275.2h1M80.7 274.6h1M89.6 269.1h1M84.7 275.8h1M86.4 275.4h1M87.9 276.1h1M83.0 274.2h1M89.3 271.1h1M91.2 274.7h1M84.5 267.2h1M90.2 279.3h1M89.5 272.1h1M85.4 276.2h1M88.2 267.9h1M89.5 277.1h1M90.8 270.0h1M85.4 273.8h1M86.0 277.0h1M83.6 278.8h1M81.9 276.5h1M91.5 273.9h1M83.6 274.3h1M85.2 274.7h1M80.8 274.7h1M89.3 269.1h1M89.3 279.7h1M84.7 281.7h1M84.2 281.8h1M89.8 268.5h1M83.5 277.0h1M89.8 278.2h1M86.1 267.0h1M85.4 283.7h1M90.6 280.6h1M83.1 268.1h1M82.1 271.7h1M89.7 272.6h1M85.5 272.8h1M83.7 274.7h1M88.1 277.9h1M87.8 273.2h1M91.4 271.4h1M91.6 280.3h1M87.3 276.3h1M84.1 269.0h1M89.2 268.9h1M83.4 283.1h1M86.0 284.4h1M83.4 279.2h1M89.5 279.7h1M89.8 281.4h1M83.5 283.5h1M82.1 279.8h1M90.0 278.5h1M84.6 282.2h1M88.6 281.4h1M85.1 283.3h1M85.8 278.2h1M89.8 281.2h1M89.0 282.6h1" stroke="#ff0000" stroke-width="1" fill="none"/>
<path d="M81.2 290.5h1M80.4 282.3h1M78.4 258.4h1M90.9 263.5h1M89.9 287.3h1M89.2 263.1h1M83.1 266.8h1M91.6 281.9h1M95.9 267.9h1M79.2 280.6h1M81.6 267.4h1M85.9 288.8h1M97.6 275.7h1M93.4 276.8h1M99.0 275.3h1M84.7 285.6h1M77.9 250.1h1M82.2 266.0h1M103.7 280.2h1M87.9 290.5h1M82.2 263.4h1M93.7 272.9h1M77.2 279.5h1M93.1 265.9h1M94.4 278.7h1M100.2 265.0h1M76.7 292.6h1M90.7 297.4h1M77.4 283.9h1M98.9 270.3h1M90.3 288.6h1M87.6 265.5h1M92.3 269.8h1M87.9 285.6h1M78.2 287.8h1M105.1 272.4h1M95.0 275.2h1M93.5 282.9h1M92.2 279.2h1M86.9 253.6h1M90.6 282.8h1M96.7 269.8h1M79.0 279.5h1M86.2 262.7h1M94.7 285.1h1M80.7 281.1h1M83.9 263.1h1M85.4 287.5h1M103.7 268.3h1M79.5 275.1h1M87.8 258.3h1M92.4 256.6h1M85.6 262.6h1M95.4 278.0h1M89.1 265.9h1M98.0 295.8h1M72.3 257.5h1M92.9 275.6h1M95.1 284.0h1M93.7 273.9h1M77.3 289.4h1M85.6 264.4h1M93.9 270.1h1M72.3 276.3h1M84.4 266.4h1M86.8 284.7h1M67.5 274.5h1M88.4 261.4h1M77.6 262.0h1M79.3 265.8h1M76.4 268.3h1M84.9 262.9h1M85.4 265.9h1M95.0 276.1h1M83.7 285.5h1M86.1 258.9h1M85.6 264.3h1M80.2 284.9h1M91.7 264.5h1M86.1 264.1h1M85.2 289.2h1M87.0 249.0h1M95.4 289.2h1M80.3 288.2h1M83.4 266.4h1M80.2 268.5h1M80.3 270.6h1M82.5 264.9h1M83.0 264.6h1M87.2 291.4h1M83.8 284.4h1M89.2 267.2h1M85.1 256.1h1M95.6 287.9h1M79.5 283.0h1M93.7 273.6h1M80.0 267.9h1M85.2 294.6h1M90.5 283.2h1M93.1 296.7h1M83.5 289.2h1M91.8 286.8h1M87.7 290.3h1M94.4 261.9h1M82.3 283.4h1M80.7 294.1h1M91.1 264.8h1M77.3 287.4h1M76.2 273.1h1M79.9 271.8h1M87.6 293.5h1M84.9 285.3h1M81.9 262.7h1M87.2 265.2h1M91.6 264.3h1M87.9 299.7h1M83.1 286.4h1M92.8 286.8h1M89.7 298.9h1M90.8 287.7h1M84.9 293.1h1M87.0 289.0h1M84.0 294.1h1M91.6 295.6h1M87.9 293.0h1M84.1 292.0h1M89.9 298.5h1M86.1 290.9h1M85.2 290.6h1M92.6 294.3h1M98.0 283.6h1M86.0 294.0h1M83.5 294.3h1M84.7 292.3h1M82.4 288.9h1M88.8 298.4h1M91.6 297.4h1M87.0 295.1h1M87.0 284.6h1M88.0 305.2h1M85.0 292.5h1M90.6 283.1h1M94.9 293.2h1M91.5 296.5h1M90.5 298.0h1M90.5 283.4h1M77.5 290.1h1M80.8 302.6h1M82.3 287.6h1M86.0 301.3h1M85.0 296.8h1M94.3 292.4h1M84.4 291.8h1M75.6 299.3h1M80.7 297.9h1M82.0 296.5h1M89.1 297.1h1M87.0 295.6h1M90.4 286.3h1M86.8 288.6h1M81.2 291.9h1M88.0 299.0h1M85.9 298.1h1M79.5 303.9h1M88.0 286.3h1M92.2 295.9h1M93.0 300.2h1M82.5 295.3h1M84.8 296.4h1M88.2 292.1h1M94.7 291.0h1M90.9 293.7h1M88.2 291.1h1M78.5 289.1h1M83.9 299.6h1M87.7 287.2h1M85.8 300.5h1M79.7 297.1h1M84.6 295.7h1M87.1 290.1h1M81.9 292.7h1M91.6 280.9h1M85.8 290.9h1M88.9 286.6h1M86.5 297.9h1M84.8 304.0h1M100.1 298.1h1M74.6 304.0h1M87.2 287.5h1M84.0 297.9h1M86.9 290.2h1M84.7 245.7h1M93.8 266.9h1M82.9 261.1h1M89.0 261.2h1M88.7 262.5h1M82.5 260.6h1M85.3 256.5h1M86.1 258.2h1M79.1 252.8h1M81.1 253.6h1M83.8 251.3h1M85.4 258.2h1M82.1 251.0h1M86.7 254.8h1M86.3 255.8h1M84.7 254.5h1M81.7 266.9h1M88.1 260.9h1M79.8 262.1h1M75.5 251.3h1M90.3 257.5h1M83.1 259.7h1M78.3 252.5h1M87.6 257.7h1M86.2 262.5h1M89.7 262.1h1M77.7 250.2h1M84.2 254.1h1M91.7 251.7h1" stroke="#f04848" stroke-width="1" fill="none"/>
<path d="M89.6 274.8h1M79.7 275.1h1M82.2 268.4h1M86.9 273.9h1M82.0 273.3h1M92.6 274.9h1M81.7 271.5h1M86.3 276.5h1M90.0 270.6h1M89.0 268.9h1M89.0 275.3h1M85.7 270.7h1M89.8 269.5h1M80.0 273.2h1M90.0 277.2h1M84.9 266.6h1M80.9 275.5h1M86.7 271.0h1M88.2 283.9h1M85.4 279.6h1M84.1 281.0h1M91.4 274.7h1M82.7 270.8h1M88.2 268.6h1M86.6 277.1h1M92.2 277.7h1M89.0 283.6h1M86.5 276.0h1M84.7 269.8h1M90.3 273.9h1M84.4 270.7h1M90.2 277.4h1M81.1 278.0h1M86.2 270.0h1M86.7 278.9h1M87.5 275.9h1M84.5 269.5h1M84.6 280.0h1M84.2 272.2h1M83.3 278.4h1M83.0 279.3h1M81.8 273.0h1M85.3 268.2h1M80.7 278.1h1M84.8 283.8h1M87.5 270.7h1M90.8 271.2h1M86.1 276.1h1M91.0 271.1h1M83.7 271.6h1M80.4 276.2h1M83.4 282.7h1" stroke="#ff2020" stroke-width="1" fill="none"/>
<path d="M89.3 292.9h1M89.7 302.8h1M90.4 256.4h1M82.9 292.6h1M86.6 257.9h1M86.5 253.7h1M90.2 259.9h1M80.4 293.6h1M82.3 260.8h1M82.8 292.9h1M73.3 261.9h1M92.8 258.0h1M83.7 257.5h1M92.8 262.3h1M73.4 259.2h1M84.6 257.6h1M91.7 260.7h1M98.4 300.3h1M72.8 275.6h1M84.2 256.8h1M82.8 301.0h1M78.0 288.8h1M77.9 254.5h1M87.6 293.2h1M81.3 299.1h1M70.8 257.7h1M97.1 280.6h1M76.9 285.1h1M91.4 261.1h1M99.8 286.9h1M71.5 279.0h1M74.2 286.2h1M88.5 256.6h1M85.1 292.2h1M77.9 286.3h1M81.5 289.4h1M82.9 259.9h1M88.6 290.7h1M96.6 270.8h1M88.5 293.5h1M82.2 260.0h1M97.4 286.5h1M78.8 263.2h1M97.4 273.7h1M97.0 269.3h1M76.0 267.3h1M92.8 262.3h1M85.4 299.1h1M82.1 292.8h1M81.6 293.2h1M87.8 296.4h1M83.1 291.7h1M83.1 292.9h1M92.1 293.1h1M84.2 295.8h1M90.4 293.3h1M89.7 291.8h1M85.0 293.1h1M83.1 295.7h1M82.8 292.4h1M95.3 292.8h1M90.2 295.4h1M90.3 290.1h1M84.7 295.6h1M79.2 301.9h1M88.9 297.6h1M95.9 291.6h1M92.9 296.8h1M82.5 295.3h1M76.8 289.9h1M90.7 306.6h1M85.8 305.3h1M79.1 296.6h1M96.4 290.3h1M91.1 292.7h1M87.8 300.6h1M85.1 291.0h1M91.7 291.4h1M96.1 291.0h1M88.0 293.8h1M88.4 294.5h1M83.0 292.3h1M78.4 296.4h1M87.8 293.8h1M85.4 292.4h1M97.5 297.1h1M85.0 294.8h1M84.3 291.6h1M86.3 295.4h1M87.0 301.7h1M84.0 291.1h1M84.9 297.0h1M78.4 290.8h1M84.5 290.8h1M89.8 294.5h1M87.0 294.2h1M87.9 298.9h1M85.3 296.5h1M78.0 300.3h1M93.5 291.0h1M81.2 296.6h1M95.4 294.8h1M81.3 291.7h1M81.5 296.3h1M75.4 287.2h1M80.8 292.0h1M78.0 303.5h1M88.3 291.1h1M87.2 291.1h1M75.6 297.5h1M84.2 297.0h1M82.7 257.9h1M83.3 250.6h1M84.5 249.9h1M88.1 256.5h1M92.1 257.5h1M70.8 259.8h1M91.1 249.7h1M85.7 248.2h1M83.2 256.5h1M85.3 265.1h1M80.0 258.7h1M86.3 255.4h1M83.0 254.0h1M85.5 258.1h1M79.5 267.6h1M82.4 253.4h1M90.9 260.0h1M87.5 255.7h1M77.7 256.7h1M79.4 258.6h1M84.3 265.4h1M86.6 253.8h1" stroke="#c4a8a8" stroke-width="1" fill="none"/>
<path d="M85.5 264.6h1M93.2 272.9h1M80.1 281.9h1M81.4 266.1h1M85.6 264.0h1M92.0 264.1h1M80.6 265.9h1M94.7 278.5h1M81.7 285.4h1M79.7 267.8h1M78.5 272.8h1M88.8 266.3h1M79.7 283.5h1M83.9 290.2h1M93.6 265.6h1M82.7 286.5h1M80.8 267.4h1M81.3 286.0h1M94.7 270.9h1M79.7 283.0h1M92.7 279.2h1M88.2 289.0h1M90.8 262.0h1M86.9 264.0h1M89.0 288.7h1M81.0 267.0h1M88.8 287.7h1M89.0 284.8h1M90.5 283.8h1M82.9 264.5h1M94.2 280.9h1M77.9 280.5h1M91.4 287.1h1M93.2 270.0h1M80.7 270.3h1M91.4 282.2h1M82.0 283.7h1M78.1 274.0h1M78.6 267.0h1M84.3 286.1h1M78.6 271.2h1M78.9 271.4h1M82.3 284.1h1M80.9 266.4h1M85.1 288.1h1M85.0 289.6h1M87.2 288.8h1M83.7 286.1h1M87.4 290.1h1M91.0 284.9h1M85.4 286.7h1M89.5 286.5h1M81.1 285.3h1M90.5 285.4h1M86.4 289.9h1M86.9 290.3h1" stroke="#c02828" stroke-width="1" fill="none"/>
<path d="M90.5 258.7h1M94.1 252.5h1M95.6 260.4h1M93.5 301.1h1M84.1 294.7h1M88.0 259.8h1M91.9 295.8h1M72.0 295.9h1M92.3 292.5h1M70.8 284.5h1M76.2 293.7h1M85.2 254.6h1M86.2 258.7h1M95.3 267.4h1M75.2 258.3h1M73.4 262.6h1M79.0 293.0h1M80.1 254.2h1M98.8 281.6h1M77.1 254.9h1M78.1 290.2h1M74.1 269.0h1M94.4 292.2h1M76.1 291.0h1M84.1 258.9h1M94.6 294.8h1M81.9 295.6h1M94.4 292.2h1M91.7 257.3h1M95.0 286.7h1M91.6 260.6h1M77.9 285.9h1M74.1 268.5h1M81.6 254.8h1M86.0 294.5h1M87.2 298.8h1M101.8 268.3h1M86.7 297.9h1M81.8 291.5h1M85.6 294.5h1M74.8 290.3h1M88.6 292.9h1M92.3 295.3h1M95.1 287.8h1M88.5 295.3h1M85.2 300.5h1M80.9 291.1h1M93.6 290.1h1M89.5 293.3h1M86.9 291.6h1M94.0 291.6h1M88.3 296.4h1M86.5 291.9h1M85.3 300.3h1M93.5 294.0h1M84.0 292.8h1M79.9 288.4h1M85.3 290.9h1M89.4 293.4h1M77.9 293.0h1M73.4 290.2h1M86.4 300.5h1M98.9 294.5h1M94.0 293.0h1M76.4 287.7h1M94.3 302.7h1M91.4 290.4h1M72.5 289.8h1M80.5 290.1h1M86.5 294.6h1M85.4 298.4h1M97.9 292.5h1M87.0 296.2h1M83.2 299.3h1M83.3 294.6h1M92.0 288.6h1M92.2 298.2h1M97.1 284.9h1M85.4 295.6h1M86.1 255.5h1M90.0 250.3h1M81.3 252.6h1M78.4 255.5h1M81.7 242.6h1M86.6 250.5h1M86.2 256.1h1M90.5 261.3h1M82.6 252.3h1M81.9 260.1h1M80.8 252.3h1M86.0 255.4h1M74.8 250.9h1M80.8 252.5h1M87.0 264.2h1M86.7 262.5h1M84.3 255.2h1M74.5 250.2h1M82.8 263.3h1M89.9 252.8h1M89.7 255.7h1M92.2 261.0h1M82.8 261.5h1M84.5 252.9h1" stroke="#b04040" stroke-width="1" fill="none"/>
<path d="M70.4 279.4h1M71.0 283.9h1M96.6 262.8h1M81.5 290.2h1M85.8 251.8h1M74.7 281.9h1M81.9 289.7h1M80.4 260.3h1M79.6 289.9h1M77.2 295.1h1M75.4 287.9h1M82.5 260.4h1M90.9 294.4h1M77.9 290.4h1M89.3 256.7h1M74.3 286.8h1M95.1 288.9h1M76.5 289.1h1M74.4 285.7h1M75.0 302.3h1M76.9 287.4h1M95.9 288.9h1M82.8 290.7h1M78.7 262.2h1M84.0 260.4h1M82.0 258.7h1M97.6 263.9h1M93.1 293.5h1M76.3 262.6h1M96.5 292.1h1M80.6 297.3h1M85.6 259.9h1M82.0 255.8h1M83.2 297.4h1M90.2 292.5h1M87.1 259.3h1M99.9 292.7h1M87.4 256.6h1M90.6 259.1h1M82.6 293.2h1M91.5 300.0h1M89.4 257.4h1M76.0 266.0h1M84.8 292.4h1M80.3 256.0h1M97.1 279.0h1M81.6 291.2h1M83.8 291.3h1M82.6 294.0h1M94.0 262.0h1M89.3 259.2h1M87.0 293.0h1M92.1 288.5h1M75.2 281.5h1M91.0 252.5h1M80.3 294.7h1M88.5 296.3h1M102.0 292.7h1M82.3 295.7h1M77.5 288.9h1M78.1 295.1h1M89.0 295.1h1M88.0 296.3h1M89.9 291.3h1M82.8 297.6h1M80.2 288.9h1M83.7 291.0h1M78.0 287.0h1M86.5 292.9h1M83.6 290.8h1M81.4 297.5h1M85.9 297.3h1M85.5 291.8h1M87.7 295.6h1M93.3 294.1h1M94.7 295.4h1M93.2 296.0h1M82.2 294.9h1M83.2 292.4h1M81.9 296.3h1M87.2 290.9h1M85.3 294.8h1M98.0 295.2h1M88.4 292.4h1M90.9 294.6h1M81.3 290.2h1M85.3 294.4h1M82.8 302.0h1M88.4 298.0h1M94.4 287.9h1M91.4 293.4h1M81.9 292.8h1M83.3 291.7h1M93.2 296.2h1M79.1 294.9h1M80.9 293.1h1M82.8 297.0h1M84.1 300.6h1M92.4 291.8h1M96.6 297.5h1M80.0 293.2h1M88.1 254.0h1M78.6 262.5h1M81.5 248.2h1M80.8 267.1h1M85.5 260.8h1M80.3 247.7h1M86.2 262.4h1M88.1 256.4h1M80.1 252.9h1M87.8 255.2h1M91.6 258.8h1M86.9 264.7h1M82.7 259.3h1M89.3 259.8h1M79.9 261.1h1M82.5 266.4h1M91.4 249.0h1M88.2 254.8h1M77.0 243.7h1M86.4 264.5h1M86.5 250.6h1M82.7 258.3h1" stroke="#e87878" stroke-width="1" fill="none"/>
<path d="M83.8 270.3h1M84.6 277.4h1M80.4 272.5h1M87.9 272.0h1M91.4 280.7h1M85.2 278.8h1M85.3 267.4h1M81.2 281.4h1M89.2 278.2h1M83.3 270.7h1M83.8 281.2h1M88.6 271.0h1M83.4 279.4h1M92.2 278.3h1M88.0 281.0h1M86.3 268.9h1M85.4 283.0h1" stroke="#ff8080" stroke-width="1" fill="none"/>
<path d="M93.1 284.0h1M83.2 264.1h1M80.9 285.5h1M93.8 274.4h1M92.8 286.6h1M81.1 289.0h1M79.6 281.7h1M81.6 268.8h1M88.1 264.0h1M78.7 286.1h1M86.6 290.0h1M89.8 267.9h1M82.0 265.3h1M77.7 272.2h1M91.4 284.1h1M93.7 275.2h1M92.1 268.0h1M90.3 288.4h1M86.0 265.0h1M76.6 271.7h1M88.7 288.2h1M79.8 268.3h1M81.9 289.1h1M79.4 277.5h1M94.6 271.4h1M80.1 280.5h1M91.6 269.1h1M83.9 266.5h1M80.9 281.7h1M89.4 283.8h1M87.3 266.5h1M90.3 283.6h1M89.5 287.0h1M90.4 265.0h1M82.9 286.1h1M80.1 263.4h1M79.6 285.9h1M85.6 289.6h1M88.9 285.6h1M88.1 285.5h1M83.6 286.2h1" stroke="#ff9a9a" stroke-width="1" fill="none"/>
<path d="M78.5 271.2h1M92.4 240.2h1M75.4 310.1h1M77.6 259.1h1M85.2 287.1h1M66.0 301.0h1M97.4 278.7h1M74.5 250.8h1M93.2 257.0h1M100.6 297.7h1M73.4 248.2h1M103.0 284.6h1M102.5 272.7h1M72.6 275.7h1" stroke="#b8a8a8" stroke-width="1" fill="none"/>
<path d="M103.1 253.8h1M66.4 291.7h1M99.5 289.2h1M99.6 272.0h1M97.7 268.3h1M70.0 264.2h1M81.3 296.2h1" stroke="#a04040" stroke-width="1" fill="none"/>
<path d="M92.5 307.8h1M71.7 301.6h1M70.1 296.9h1M95.7 290.0h1" stroke="#c07070" stroke-width="1" fill="none"/>
<path d="M68.8 306.4h1M98.5 275.5h1M84.2 287.1h1M74.7 279.4h1M76.8 300.4h1M81.8 290.7h1M89.0 251.2h1M77.5 275.2h1M94.3 264.4h1M94.8 307.7h1M89.1 291.1h1M76.1 288.4h1M89.1 264.2h1M78.1 268.3h1M76.7 284.3h1M94.5 276.0h1M76.4 263.1h1M89.8 285.2h1M68.8 292.8h1M90.2 284.7h1M79.9 270.0h1M77.0 282.9h1M76.7 280.1h1M93.4 279.7h1M66.2 288.4h1M98.1 308.6h1M89.4 293.6h1M95.6 282.1h1M75.3 295.0h1M74.0 274.9h1M83.2 293.9h1M83.4 244.3h1M84.9 246.3h1M75.4 296.3h1M73.0 277.1h1M76.5 277.3h1M92.8 291.6h1M108.9 272.3h1M74.7 276.3h1" stroke="#c4acac" stroke-width="1" fill="none"/>
<path d="M80.8 300.2h1M71.6 262.2h1M85.4 293.3h1M96.1 270.6h1M90.3 265.3h1M76.9 299.2h1M99.0 262.1h1M77.4 277.9h1M75.2 246.7h1M96.0 262.0h1M89.5 265.9h1M86.6 302.3h1M66.6 272.8h1M86.3 302.2h1M94.5 288.1h1M87.4 291.4h1M72.3 257.7h1M94.2 254.3h1M66.7 305.4h1M91.9 296.9h1M92.1 291.0h1M94.0 304.7h1M79.8 262.1h1M85.3 296.8h1M82.1 266.0h1M92.3 286.7h1M69.9 262.1h1M95.0 278.1h1M94.3 273.9h1M75.1 300.3h1M83.9 295.3h1M73.1 280.5h1M79.4 293.1h1M96.3 283.7h1M87.7 293.7h1M81.3 288.5h1M82.8 285.1h1M80.9 294.3h1M87.4 264.7h1M88.2 303.5h1M85.7 302.6h1M79.2 265.0h1M88.9 291.0h1M76.1 254.0h1M78.9 261.2h1M96.4 295.1h1M77.4 299.2h1M77.0 297.2h1M69.4 287.0h1M94.1 277.2h1M85.8 296.0h1M93.0 252.0h1M87.2 289.4h1M64.4 294.6h1M92.7 269.4h1M76.2 268.5h1M70.9 283.7h1M94.8 279.5h1M96.1 269.3h1" stroke="#f0a0a0" stroke-width="1" fill="none"/>
<path d="M77.7 290.1h1M82.1 249.2h1M85.0 295.2h1M79.0 268.0h1M86.9 250.5h1M96.8 271.9h1M95.3 282.5h1M89.3 297.2h1M77.9 278.7h1M89.4 247.6h1M81.1 268.0h1M78.1 266.5h1M98.7 302.6h1M75.2 265.8h1M85.2 263.0h1M81.5 299.8h1M83.4 252.7h1M89.6 265.7h1M75.5 288.2h1M89.4 292.3h1M87.5 293.7h1M84.4 290.2h1M93.8 279.7h1M76.7 290.8h1M78.2 288.6h1M76.0 262.4h1M92.8 268.1h1M96.1 278.1h1M96.7 302.3h1M73.3 289.4h1M76.4 269.3h1M99.9 288.1h1M73.8 297.0h1M79.0 291.5h1M90.6 291.3h1M96.8 272.9h1M95.7 279.6h1M74.8 249.3h1M81.8 263.8h1M99.8 265.2h1M84.8 291.5h1M97.5 257.8h1M91.7 256.9h1M94.8 287.4h1M74.3 263.8h1M80.8 257.3h1M70.6 278.0h1M86.2 294.8h1M73.5 254.0h1M75.4 285.8h1M81.3 286.4h1M78.8 268.2h1M79.3 260.3h1M72.7 263.9h1M89.9 265.9h1M81.1 305.9h1M75.2 281.8h1M86.4 252.8h1M77.5 272.3h1M78.4 270.0h1M85.9 258.7h1M96.1 290.4h1M94.0 280.8h1M71.4 265.8h1M86.8 287.7h1M87.6 253.0h1M76.9 277.6h1M90.2 260.4h1M82.5 266.4h1" stroke="#e86060" stroke-width="1" fill="none"/>
<path d="M66.0 260.7h1M97.3 276.7h1M83.1 290.8h1M75.6 288.0h1M86.4 292.3h1M96.2 284.3h1M92.0 242.1h1M99.8 289.8h1M91.0 258.2h1M93.2 273.5h1M91.0 293.8h1M83.8 264.3h1M80.8 286.9h1M93.3 264.2h1M85.3 290.1h1M75.0 260.7h1M89.1 291.7h1M81.1 267.2h1M80.6 315.4h1M73.3 261.0h1M75.8 273.2h1M70.4 265.4h1M89.3 262.4h1M103.9 296.1h1M83.6 289.6h1M94.2 272.6h1M94.0 276.1h1M91.3 253.7h1" stroke="#b04848" stroke-width="1" fill="none"/>
</g></g>
<rect x="58.5" y="211.4" width="115.90" height="105.90" fill="none" stroke="#333" stroke-width="1.1"/>
<path d="M96.6 211.4V317.3M58.5 286.8H174.4" stroke="#4a4a4a" stroke-width="1.1" fill="none"/>
<path d="M60.17 317.30v3.4M63.74 317.30v3.4M66.51 317.30v3.4M68.77 317.30v3.4M70.68 317.30v3.4M72.33 317.30v3.4M73.79 317.30v3.4M75.10 317.30v5.2M83.69 317.30v3.4M88.72 317.30v3.4M92.29 317.30v3.4M95.06 317.30v3.4M97.32 317.30v3.4M99.23 317.30v3.4M100.88 317.30v3.4M102.34 317.30v3.4M103.65 317.30v5.2M112.24 317.30v3.4M117.27 317.30v3.4M120.84 317.30v3.4M123.61 317.30v3.4M125.87 317.30v3.4M127.78 317.30v3.4M129.43 317.30v3.4M130.89 317.30v3.4M132.20 317.30v5.2M140.79 317.30v3.4M145.82 317.30v3.4M149.39 317.30v3.4M152.16 317.30v3.4M154.42 317.30v3.4M156.33 317.30v3.4M157.98 317.30v3.4M159.44 317.30v3.4M160.75 317.30v5.2M169.34 317.30v3.4M58.50 315.60h-2.8M58.50 312.31h-2.8M58.50 309.75h-2.8M58.50 307.66h-2.8M58.50 305.89h-2.8M58.50 304.36h-2.8M58.50 303.01h-2.8M58.50 301.80h-4.6M58.50 293.85h-2.8M58.50 289.20h-2.8M58.50 285.91h-2.8M58.50 283.35h-2.8M58.50 281.26h-2.8M58.50 279.49h-2.8M58.50 277.96h-2.8M58.50 276.61h-2.8M58.50 275.40h-4.6M58.50 267.45h-2.8M58.50 262.80h-2.8M58.50 259.51h-2.8M58.50 256.95h-2.8M58.50 254.86h-2.8M58.50 253.09h-2.8M58.50 251.56h-2.8M58.50 250.21h-2.8M58.50 249.00h-4.6M58.50 241.05h-2.8M58.50 236.40h-2.8M58.50 233.11h-2.8M58.50 230.55h-2.8M58.50 228.46h-2.8M58.50 226.69h-2.8M58.50 225.16h-2.8M58.50 223.81h-2.8M58.50 222.60h-4.6M58.50 214.65h-2.8" stroke="#333" stroke-width="1" fill="none"/>
<text x="71.82" y="333.90" font-size="9.6" style="stroke-width:0.2px">10<tspan dy="-4.4" font-size="6.8">2</tspan></text>
<text x="100.72" y="333.90" font-size="9.6" style="stroke-width:0.2px">10<tspan dy="-4.4" font-size="6.8">3</tspan></text>
<text x="129.62" y="333.90" font-size="9.6" style="stroke-width:0.2px">10<tspan dy="-4.4" font-size="6.8">4</tspan></text>
<text x="158.52" y="333.90" font-size="9.6" style="stroke-width:0.2px">10<tspan dy="-4.4" font-size="6.8">5</tspan></text>
<text x="50.80" y="227.20" font-size="9.5" text-anchor="end" style="stroke-width:0.2px">10</text>
<text x="55.10" y="222.80" font-size="6.6" text-anchor="end" style="stroke-width:0.15px">5</text>
<text x="50.80" y="253.70" font-size="9.5" text-anchor="end" style="stroke-width:0.2px">10</text>
<text x="55.10" y="249.30" font-size="6.6" text-anchor="end" style="stroke-width:0.15px">4</text>
<text x="50.80" y="280.00" font-size="9.5" text-anchor="end" style="stroke-width:0.2px">10</text>
<text x="55.10" y="275.60" font-size="6.6" text-anchor="end" style="stroke-width:0.15px">3</text>
<text x="50.80" y="306.70" font-size="9.5" text-anchor="end" style="stroke-width:0.2px">10</text>
<text x="55.10" y="302.30" font-size="6.6" text-anchor="end" style="stroke-width:0.15px">2</text>
<text x="118.7" y="347.3" font-size="10.2" text-anchor="middle" style="stroke-width:0.22px">CD33</text>
<text transform="translate(35.1,267.3) rotate(-90)" font-size="10.2" text-anchor="middle" style="stroke-width:0.22px">CD71</text>
<g clip-path="url(#c4)"><g filter="url(#sb)">
<ellipse cx="271.0" cy="274.0" rx="6.4" ry="10.2" transform="rotate(-12 271.0 274.0)" fill="#f00" opacity="1.0" filter="url(#bl)"/>
<path d="M272.1 286.8h1M277.1 281.3h1M277.6 267.3h1M278.4 282.2h1M263.8 269.1h1M275.2 265.2h1M270.0 283.4h1M263.4 274.2h1M270.0 260.0h1M262.4 278.0h1M276.4 281.2h1M264.5 281.7h1M264.0 278.9h1M276.9 279.2h1M276.5 278.1h1M278.2 273.5h1M263.3 280.4h1M265.4 265.0h1M278.0 283.4h1M274.9 284.4h1M268.6 263.9h1M277.7 279.6h1M263.6 279.1h1M270.8 285.5h1M273.1 265.1h1M265.9 278.5h1M273.7 262.0h1M272.2 261.7h1M267.1 286.4h1M274.5 283.1h1M270.3 283.2h1M276.4 264.8h1M274.6 282.9h1M277.1 281.6h1M277.5 276.3h1M275.7 264.0h1M274.3 282.7h1M275.3 286.7h1M274.4 283.5h1M269.4 261.5h1M267.2 264.2h1M268.1 264.9h1M273.0 286.3h1M276.8 276.3h1M276.2 282.7h1M274.5 285.8h1M274.5 265.6h1M277.4 276.5h1M262.9 273.8h1M268.0 287.3h1M273.2 287.4h1M265.7 286.5h1M272.5 288.7h1M269.3 287.5h1M271.6 286.5h1" stroke="#c02828" stroke-width="1" fill="none"/>
<path d="M259.4 268.0h1M270.5 294.5h1M272.7 294.0h1M261.1 297.8h1M261.9 281.1h1M274.2 258.9h1M265.6 287.1h1M286.0 284.4h1M272.0 291.3h1M262.3 292.9h1M271.3 256.2h1M280.1 268.1h1M281.5 263.0h1M273.1 256.3h1M284.8 276.9h1M281.0 274.7h1M282.9 292.0h1M262.0 261.4h1M264.0 289.7h1M262.5 262.9h1M274.7 288.7h1M271.9 290.6h1M262.5 261.3h1M272.4 291.8h1M273.5 295.6h1M261.5 277.0h1M263.7 262.1h1M260.8 262.4h1M279.3 286.9h1M268.2 255.3h1M259.5 277.3h1M279.3 285.0h1M277.3 287.4h1M263.1 262.1h1M274.6 291.9h1M274.8 290.0h1M270.7 249.0h1M271.1 290.3h1M265.0 255.1h1M260.3 258.4h1M283.8 282.1h1M261.3 275.6h1M257.9 249.0h1M275.1 260.0h1M275.5 260.3h1M261.7 258.2h1M277.7 299.3h1M274.4 300.5h1M281.5 287.2h1M277.2 290.9h1M276.9 293.2h1M270.1 295.8h1M271.4 295.1h1M268.0 289.0h1M272.8 297.1h1M271.9 294.4h1M267.2 292.8h1M274.1 294.9h1M272.1 290.0h1M268.3 293.0h1M272.7 294.2h1M268.9 290.9h1M282.4 301.6h1M278.9 284.7h1M274.5 295.8h1M259.8 286.8h1M275.0 290.9h1M273.0 293.1h1M275.8 292.4h1M275.8 297.4h1M273.6 303.4h1M275.1 288.4h1M272.0 296.6h1M283.9 283.6h1M268.7 294.3h1M265.0 300.2h1M268.1 292.6h1M277.1 289.9h1M268.7 296.2h1M273.1 291.2h1M270.5 296.1h1M276.9 290.2h1M271.4 293.1h1M265.9 293.8h1M273.5 293.7h1M273.9 304.0h1M265.9 299.1h1M271.7 294.7h1M271.2 298.1h1M267.3 294.0h1M273.4 305.4h1M272.9 290.6h1M272.1 298.2h1M267.0 299.8h1M279.3 291.9h1M272.0 290.4h1M270.5 292.9h1M272.5 300.7h1M262.0 292.8h1M261.6 291.3h1M272.4 294.3h1M277.1 304.7h1M263.4 240.9h1M256.7 259.7h1M275.5 260.2h1M256.4 259.4h1M262.8 258.8h1M264.1 259.5h1M261.4 244.3h1M265.2 249.3h1M259.5 258.1h1M263.2 267.4h1M255.2 250.6h1M262.2 258.2h1M266.3 254.3h1M258.1 248.4h1M268.1 248.1h1M252.6 258.2h1M256.1 253.5h1M254.0 255.5h1M255.6 258.0h1M253.8 247.8h1M274.4 254.0h1M249.4 252.2h1M257.9 248.0h1M253.7 252.1h1M266.1 251.9h1M249.5 255.3h1M265.9 243.3h1M250.0 252.4h1M259.8 256.5h1M259.9 252.6h1M259.5 259.2h1" stroke="#b04040" stroke-width="1" fill="none"/>
<path d="M270.8 270.2h1M268.8 279.1h1M271.3 272.1h1M268.8 277.3h1M274.7 271.5h1M269.2 275.2h1M267.0 271.5h1M271.8 273.1h1M266.9 272.0h1M271.4 277.4h1M275.2 279.9h1M272.4 276.5h1M271.0 273.4h1M274.5 276.4h1M270.2 278.2h1M268.2 267.6h1M269.5 274.2h1M272.2 265.8h1M274.0 276.8h1M268.8 277.1h1M269.0 269.6h1M275.7 277.9h1M272.4 270.0h1M269.3 281.2h1M265.8 270.3h1M269.8 276.2h1M269.0 269.6h1M274.7 270.8h1M272.2 281.9h1M268.5 279.2h1M273.1 278.5h1M267.1 277.8h1M274.5 273.3h1M266.3 277.3h1M270.8 278.3h1M274.5 280.4h1M267.2 275.7h1M267.5 279.3h1M273.8 278.7h1M272.2 277.6h1M270.1 267.7h1M274.7 279.4h1M275.2 277.2h1M272.0 282.7h1M272.4 280.3h1M275.6 276.2h1M270.6 269.7h1M272.9 277.5h1M273.5 267.9h1M272.8 279.2h1M267.8 266.7h1M274.5 267.9h1M270.7 282.0h1M271.6 273.8h1M271.3 282.1h1M269.7 282.2h1M268.3 279.7h1M269.7 270.8h1M273.6 265.9h1M269.2 267.4h1M267.2 278.7h1M272.2 273.9h1M274.2 269.0h1M269.7 272.5h1M270.2 272.7h1M269.2 269.4h1M276.3 276.4h1M271.2 283.2h1M274.0 276.2h1M267.5 280.3h1M270.9 266.0h1M267.0 277.5h1M268.5 269.5h1M271.2 272.8h1M268.1 268.6h1M275.7 273.5h1M266.1 272.4h1M266.5 272.8h1M271.2 268.6h1M272.0 275.3h1M268.7 276.4h1M269.3 267.1h1M273.4 275.0h1M271.4 274.4h1M266.8 279.0h1M269.2 280.2h1M272.5 276.3h1M270.7 281.4h1M270.9 272.1h1M272.1 282.4h1M266.7 279.7h1M276.3 273.6h1M275.0 273.0h1M265.5 276.0h1M273.0 279.8h1M272.9 274.7h1M271.6 282.5h1M271.7 265.5h1M267.7 271.9h1M265.8 273.1h1M271.3 281.1h1M275.5 272.6h1M267.2 278.9h1M269.3 274.7h1M272.1 278.5h1M269.4 271.5h1M274.4 281.2h1M266.7 275.2h1M269.5 266.8h1M270.7 270.7h1M274.4 279.9h1M270.2 281.3h1M268.1 280.5h1M269.1 280.7h1M267.5 274.0h1M265.5 275.2h1M271.0 268.7h1M266.5 270.9h1M273.9 276.3h1M266.9 276.8h1M270.6 268.5h1M271.3 282.4h1M268.2 276.0h1M270.4 274.9h1M273.3 279.9h1M268.1 267.5h1M272.9 272.6h1M271.2 274.1h1M275.7 277.9h1M270.5 276.4h1M274.3 268.1h1M270.0 270.8h1M272.0 278.7h1M266.0 275.9h1M273.9 275.4h1M272.6 279.0h1M271.7 273.2h1M270.6 274.5h1M276.0 270.4h1M270.3 265.6h1M272.2 281.2h1M275.0 274.8h1M267.4 268.3h1M267.4 277.5h1M269.8 274.0h1M272.2 274.9h1M276.5 275.0h1M268.7 267.5h1M272.6 271.7h1M270.2 267.7h1M271.6 282.6h1M274.2 267.8h1M273.3 274.2h1M269.8 271.9h1M271.3 280.7h1M274.9 271.3h1M272.8 267.3h1M271.6 275.3h1M270.5 271.4h1M267.2 278.0h1M269.2 268.6h1M273.4 277.7h1M269.2 270.2h1M271.5 275.0h1M274.7 279.8h1M270.5 282.3h1M269.0 268.2h1M273.7 279.2h1M274.1 270.9h1M274.4 278.0h1M268.4 267.1h1M268.2 281.2h1M268.7 280.8h1M269.9 278.0h1M268.3 270.2h1M267.0 271.6h1M267.0 272.7h1M269.6 275.2h1M272.7 267.7h1M269.8 277.7h1M272.6 273.9h1M268.3 266.2h1M271.8 279.4h1M270.1 270.1h1M269.3 268.0h1M275.0 271.2h1M273.8 277.6h1M273.0 274.9h1M271.1 271.2h1M274.7 278.5h1M269.8 280.2h1M270.5 274.5h1M268.8 277.0h1M274.9 278.3h1M272.7 277.8h1M272.5 274.0h1M269.3 275.7h1M268.6 276.6h1M265.6 271.1h1M274.2 278.4h1M266.9 271.6h1M270.5 274.2h1M270.7 270.6h1M271.3 274.7h1M272.7 281.5h1M270.9 275.3h1M272.4 277.6h1M270.3 281.5h1M273.7 281.5h1M265.8 271.9h1M272.3 279.8h1M273.8 278.9h1M271.8 273.7h1M273.7 280.5h1M271.5 269.7h1M271.3 275.4h1M265.9 271.4h1M269.1 282.4h1M269.0 281.3h1M265.9 269.9h1M271.8 271.4h1M273.5 276.1h1M274.6 270.1h1M273.0 274.3h1M276.1 277.7h1M265.8 270.1h1M271.8 265.4h1M269.9 274.9h1M272.7 276.4h1M271.8 276.0h1M271.6 280.1h1M271.6 273.2h1M268.6 274.6h1M272.1 282.0h1M267.7 279.7h1M270.4 278.8h1M268.4 278.6h1M271.8 271.5h1M270.8 266.9h1M270.8 282.7h1M269.0 273.9h1M272.6 281.4h1M272.6 275.5h1M267.6 277.4h1M267.5 274.9h1M270.4 266.4h1M266.2 269.9h1M274.4 280.6h1M274.2 274.7h1M272.2 280.9h1M268.3 281.0h1M269.8 282.8h1M271.4 281.6h1M270.9 280.1h1M273.7 279.2h1" stroke="#ff0000" stroke-width="1" fill="none"/>
<path d="M261.6 277.4h1M276.4 289.3h1M281.6 287.7h1M264.2 289.0h1M282.9 274.4h1M278.0 291.2h1M270.0 292.2h1M266.9 253.8h1M263.3 256.3h1M272.1 295.6h1M258.5 276.0h1M267.0 251.9h1M273.0 293.7h1M264.8 257.4h1M267.6 292.9h1M257.5 270.0h1M272.5 254.5h1M262.5 287.2h1M271.1 296.1h1M266.5 294.1h1M279.0 301.5h1M270.7 293.9h1M258.2 277.0h1M286.3 293.7h1M262.0 251.5h1M267.4 252.4h1M267.6 258.2h1M286.7 291.7h1M265.8 289.4h1M281.8 276.0h1M266.0 258.6h1M271.2 296.5h1M269.1 291.7h1M274.5 303.8h1M261.8 261.0h1M277.0 286.1h1M279.7 294.2h1M265.9 257.5h1M280.2 281.8h1M280.6 287.2h1M263.4 264.2h1M284.7 277.0h1M284.6 282.2h1M265.9 288.5h1M274.1 296.7h1M262.4 283.8h1M277.6 286.6h1M260.7 281.2h1M277.3 294.2h1M267.4 256.2h1M284.4 287.4h1M263.5 263.4h1M274.1 289.9h1M262.9 284.9h1M280.0 288.4h1M274.2 289.8h1M267.1 291.5h1M264.0 261.1h1M265.4 293.5h1M286.4 285.3h1M262.8 292.9h1M270.5 294.4h1M273.4 304.2h1M279.3 291.0h1M271.1 297.8h1M272.4 290.1h1M276.8 292.0h1M277.0 295.1h1M270.6 292.7h1M276.7 302.6h1M267.4 288.5h1M271.8 290.4h1M271.2 296.8h1M273.8 291.9h1M278.1 291.5h1M268.2 290.3h1M268.1 293.5h1M264.6 298.1h1M271.3 291.2h1M274.3 295.8h1M265.1 290.9h1M268.3 290.0h1M271.5 293.0h1M266.9 292.9h1M270.6 294.4h1M267.5 296.2h1M270.6 290.0h1M260.0 300.7h1M276.3 301.6h1M268.2 291.7h1M272.5 296.7h1M279.3 295.0h1M279.4 291.9h1M273.5 290.5h1M269.4 291.2h1M265.4 288.9h1M277.7 285.9h1M269.8 293.6h1M265.6 291.9h1M273.5 290.9h1M269.0 300.8h1M268.7 297.4h1M268.6 295.5h1M271.4 294.8h1M266.2 287.9h1M276.3 287.7h1M265.1 294.5h1M282.9 294.5h1M272.0 293.5h1M281.3 292.8h1M267.3 290.6h1M273.4 291.7h1M267.8 289.0h1M272.7 291.8h1M266.2 293.8h1M267.8 295.3h1M268.2 295.9h1M276.3 297.8h1M271.2 301.5h1M274.0 297.2h1M275.5 291.2h1M261.9 290.9h1M278.5 295.0h1M280.9 286.1h1M256.5 255.3h1M252.5 245.0h1M254.5 258.2h1M254.7 251.9h1M257.7 250.9h1M261.8 251.1h1M266.4 260.8h1M264.2 243.0h1M261.1 259.8h1M257.3 262.9h1M257.3 250.0h1M244.5 251.3h1M261.3 254.5h1M259.3 246.6h1M262.4 257.2h1M250.0 257.7h1M251.1 246.7h1M262.2 256.4h1M257.2 252.2h1M257.8 259.9h1M249.1 260.4h1M264.2 248.5h1M260.1 256.9h1M254.8 255.5h1M268.4 252.6h1M257.7 250.9h1M263.8 252.8h1M264.8 246.4h1M256.8 260.3h1M256.1 248.1h1M262.0 260.5h1M260.3 246.9h1M275.5 248.7h1M261.6 246.9h1M261.8 262.3h1M261.7 240.9h1M247.1 247.2h1M261.8 255.8h1" stroke="#e87878" stroke-width="1" fill="none"/>
<path d="M269.7 283.2h1M273.9 284.2h1M270.5 261.2h1M277.6 270.7h1M275.2 281.5h1M263.9 275.6h1M270.0 264.0h1M263.0 267.8h1M276.2 282.7h1M279.0 282.1h1M263.9 277.2h1M268.5 263.6h1M270.8 263.1h1M264.4 266.4h1M268.2 282.7h1M271.4 284.5h1M277.6 280.4h1M271.9 287.4h1M264.1 275.6h1M267.4 283.6h1M264.2 270.2h1M268.0 287.6h1M268.8 264.6h1M271.5 286.5h1M277.3 281.2h1M274.3 266.1h1M273.4 260.9h1M268.5 287.7h1M264.5 280.0h1M264.9 280.7h1M277.0 268.1h1M270.3 284.5h1M269.1 264.8h1M271.0 263.8h1M276.1 286.0h1M279.0 272.6h1M278.1 269.4h1M263.0 279.5h1M278.2 282.4h1M263.0 280.0h1M269.1 264.2h1M264.2 273.8h1M278.0 279.4h1M265.3 278.7h1M264.2 274.8h1M271.7 283.7h1M276.9 281.6h1M264.4 278.7h1M262.0 271.6h1M271.6 285.5h1M270.4 285.9h1M274.9 286.0h1M273.0 288.6h1M275.3 267.9h1M278.9 281.7h1M267.3 262.8h1M265.1 264.7h1M274.9 263.3h1M264.4 280.4h1M263.5 266.3h1M267.6 287.6h1M276.6 280.2h1M263.9 278.9h1M270.3 285.9h1M263.2 268.3h1M268.7 262.6h1M263.7 278.7h1M277.8 280.8h1M271.9 262.3h1M276.7 262.9h1M277.9 283.3h1M262.6 272.6h1M272.2 263.8h1M273.6 263.2h1M278.0 280.0h1M262.3 275.4h1M267.4 264.5h1M262.8 274.9h1M266.9 261.8h1M270.6 288.6h1M262.6 277.2h1M278.1 270.5h1M264.5 272.5h1M279.5 273.4h1M266.9 281.7h1M269.6 283.0h1M264.3 279.7h1M272.5 284.7h1M274.4 287.0h1M267.8 261.5h1M279.6 274.1h1M263.5 276.0h1M266.7 280.8h1M271.0 288.4h1M267.6 286.0h1M270.1 262.1h1M275.8 285.0h1M266.2 283.9h1M279.2 276.6h1M278.8 281.9h1M269.4 288.1h1M273.9 285.4h1M270.1 263.8h1M269.8 289.1h1M263.2 268.1h1M268.9 286.2h1M264.5 271.2h1M271.6 285.2h1M262.3 278.6h1M274.7 284.2h1M270.6 287.2h1M278.6 268.2h1M273.3 262.9h1M279.6 274.2h1M278.0 274.2h1M270.8 263.7h1M277.7 281.5h1M269.2 285.9h1M268.2 288.1h1M275.8 279.3h1M276.7 281.8h1M270.2 284.3h1M273.2 286.3h1M270.2 287.9h1M264.2 284.6h1M269.4 288.1h1M268.6 286.1h1M264.1 282.8h1M271.2 283.2h1M270.6 287.4h1M272.5 288.5h1M273.5 288.3h1M274.4 287.6h1M267.3 286.6h1M270.9 285.1h1M276.9 284.8h1M273.4 286.9h1M273.5 287.3h1M269.6 288.2h1M273.5 285.2h1M269.2 287.1h1M272.0 288.2h1M265.1 284.1h1M269.5 283.2h1M276.8 286.0h1M272.7 286.0h1M271.7 286.0h1" stroke="#ff1818" stroke-width="1" fill="none"/>
<path d="M266.2 265.4h1M275.4 286.4h1M270.7 293.3h1M267.7 287.3h1M270.0 260.1h1M276.9 281.9h1M276.3 290.4h1M267.4 263.6h1M271.7 289.0h1M275.3 283.2h1M272.2 290.1h1M266.2 261.9h1M278.6 289.9h1M276.8 285.8h1M274.1 265.7h1M274.6 288.2h1M285.9 287.2h1M272.8 262.2h1M276.3 286.3h1M275.2 265.9h1M272.4 287.9h1M282.0 297.2h1M263.6 271.9h1M273.6 285.1h1M267.3 286.7h1M281.2 280.6h1M279.3 280.6h1M277.8 268.7h1M267.3 264.4h1M276.9 291.3h1M269.0 295.7h1M263.4 268.0h1M265.5 285.6h1M272.8 284.5h1M271.3 301.4h1M285.6 279.2h1M274.3 287.9h1M276.5 298.4h1M263.3 262.7h1M263.1 281.8h1M260.4 281.5h1M268.0 264.9h1M261.5 268.7h1M269.9 264.3h1M266.8 266.3h1M261.9 285.9h1M273.2 288.9h1M276.0 278.9h1M265.4 268.7h1M286.8 283.4h1M257.8 256.0h1M258.8 269.5h1M274.8 285.3h1M277.2 280.0h1M263.5 268.4h1M266.5 298.0h1M277.0 281.5h1M264.6 274.6h1M277.9 276.4h1M277.4 292.2h1M262.7 258.0h1M273.1 263.6h1M272.1 292.3h1M278.8 275.7h1M277.1 279.0h1M268.4 291.0h1M275.4 284.0h1M272.4 291.0h1M276.3 268.8h1M272.0 290.1h1M261.6 260.8h1M265.8 266.3h1M265.0 275.4h1M264.1 268.9h1M271.2 260.7h1M266.2 260.4h1M276.7 268.3h1M268.4 260.5h1M278.0 259.4h1M266.4 264.3h1M273.6 296.7h1M285.1 299.7h1M264.7 291.5h1M275.1 266.8h1M274.2 293.4h1M272.7 285.1h1M265.0 273.2h1M273.6 253.9h1M275.5 286.9h1M279.9 287.1h1M272.6 284.1h1M275.0 289.0h1M263.7 291.0h1M275.9 261.6h1M272.2 261.1h1M263.6 263.4h1M265.9 263.2h1M259.1 270.0h1M272.0 258.7h1M279.4 281.1h1M271.9 263.4h1M277.5 281.0h1M269.6 286.4h1M277.6 279.8h1M274.9 262.1h1M263.4 267.2h1M280.0 283.8h1M270.2 294.5h1M271.9 285.1h1M281.3 289.9h1M271.4 297.5h1M268.3 288.0h1M267.9 301.8h1M266.3 294.1h1M271.1 285.1h1M270.9 284.4h1M271.4 291.8h1M273.5 300.6h1M268.9 294.0h1M259.0 293.4h1M265.6 287.1h1M263.0 286.5h1M273.1 287.6h1M264.2 300.5h1M272.8 286.5h1M273.7 302.1h1M269.8 288.9h1M264.7 293.8h1M266.5 285.2h1M275.9 290.0h1M269.6 289.6h1M272.3 289.7h1M271.7 297.1h1M268.9 284.5h1M269.8 295.0h1M270.5 289.0h1M268.3 284.3h1M264.8 292.8h1M272.0 295.3h1M263.4 295.2h1M269.7 292.8h1M275.3 294.0h1M268.1 297.7h1M266.2 284.0h1M268.0 298.0h1M271.3 294.3h1M271.1 292.7h1M273.7 295.1h1M268.4 292.7h1M264.1 301.7h1M275.1 292.9h1M265.9 303.2h1M275.3 298.6h1M268.3 300.2h1M268.9 288.3h1M266.3 289.5h1M270.4 292.3h1M267.9 298.8h1M282.7 295.7h1M266.9 289.8h1M265.7 288.3h1M280.6 279.1h1M278.2 290.3h1M266.6 292.2h1M268.1 298.4h1M275.4 286.4h1M270.7 299.4h1M272.6 286.2h1M264.4 290.0h1M268.0 305.0h1M271.1 288.1h1M274.7 284.4h1M271.4 288.5h1M256.3 241.4h1M259.2 253.0h1M261.3 252.1h1M257.0 252.2h1M246.8 248.8h1M249.9 257.3h1M261.7 254.4h1M264.5 263.7h1M254.5 249.6h1M254.8 251.1h1M257.0 259.3h1M268.7 264.2h1M263.1 253.7h1M258.5 263.4h1M267.0 251.0h1M260.0 253.9h1M255.4 257.0h1M257.7 261.8h1M255.5 259.9h1M250.6 251.7h1M261.1 251.6h1M260.7 265.3h1M261.3 256.6h1M259.5 242.4h1M260.0 247.2h1M256.7 264.7h1M251.6 256.0h1M269.5 253.1h1M259.8 258.2h1M255.7 253.9h1M265.1 251.9h1M257.8 261.3h1M267.1 259.5h1M260.9 248.5h1M265.3 261.8h1M265.4 248.0h1" stroke="#f04848" stroke-width="1" fill="none"/>
<path d="M274.3 294.9h1M255.3 281.1h1M277.8 290.2h1M278.2 257.8h1M258.1 258.1h1M270.6 294.4h1M270.9 254.2h1M276.2 287.7h1M260.7 258.9h1M274.2 290.6h1M270.2 297.5h1M264.3 262.3h1M270.6 255.9h1M263.1 260.7h1M260.0 288.9h1M263.2 291.6h1M259.9 272.0h1M273.2 290.4h1M266.3 258.3h1M273.0 292.0h1M281.9 294.6h1M257.4 260.5h1M264.9 294.5h1M266.9 258.6h1M277.7 286.2h1M261.8 263.6h1M275.3 259.5h1M261.7 268.2h1M282.0 257.6h1M279.5 288.8h1M258.9 261.8h1M270.7 298.1h1M275.1 292.9h1M279.9 265.2h1M271.7 289.7h1M260.7 284.0h1M278.6 303.7h1M271.5 256.9h1M271.7 292.8h1M280.1 286.6h1M267.4 258.0h1M261.3 269.4h1M259.3 267.3h1M280.6 285.3h1M259.1 262.3h1M261.6 269.8h1M278.2 294.3h1M260.4 265.1h1M264.8 253.3h1M275.2 289.6h1M277.8 288.1h1M281.8 289.3h1M262.2 291.1h1M276.5 287.7h1M262.1 284.9h1M269.0 302.7h1M272.8 289.1h1M271.7 301.2h1M270.7 290.3h1M264.8 300.5h1M272.6 303.9h1M275.9 295.2h1M265.8 294.7h1M271.2 299.8h1M275.8 287.5h1M277.1 291.7h1M267.0 294.3h1M273.7 295.6h1M265.6 300.8h1M272.6 293.7h1M272.2 290.8h1M272.6 291.0h1M263.2 284.4h1M271.0 294.5h1M267.0 293.5h1M268.8 291.8h1M275.4 294.2h1M272.0 297.8h1M257.9 290.6h1M272.9 297.6h1M279.6 297.1h1M274.2 292.8h1M275.8 297.6h1M262.2 300.7h1M272.6 300.2h1M267.9 298.5h1M273.1 292.5h1M280.3 288.3h1M269.9 294.9h1M272.5 295.1h1M268.2 293.0h1M271.8 293.6h1M264.3 292.0h1M260.7 291.9h1M268.6 296.8h1M277.3 295.1h1M273.3 294.1h1M274.0 303.9h1M263.1 289.3h1M261.6 290.0h1M274.7 288.8h1M270.4 289.3h1M273.4 291.0h1M268.8 301.1h1M278.5 289.8h1M270.2 294.3h1M273.5 294.9h1M280.4 292.4h1M275.3 299.4h1M269.9 292.7h1M275.7 292.7h1M277.3 300.4h1M275.5 296.1h1M258.1 242.6h1M263.8 251.0h1M262.4 255.5h1M256.1 250.5h1M264.6 250.1h1M268.3 257.2h1M262.8 263.6h1M250.0 247.8h1M258.1 261.2h1M261.6 262.3h1M266.1 252.7h1M255.2 251.2h1M256.7 250.1h1M263.9 267.1h1M258.0 254.0h1M263.4 263.4h1M250.2 261.8h1M271.9 255.1h1M256.2 260.3h1M261.8 270.0h1M256.8 254.5h1M258.8 266.3h1M251.5 250.2h1M265.5 254.5h1M272.2 254.1h1M261.7 249.1h1M262.5 251.1h1M260.8 270.2h1M261.0 257.2h1M248.8 255.8h1M258.0 250.1h1M259.3 254.6h1M265.4 254.5h1M253.8 249.2h1M254.9 255.1h1M257.8 251.2h1M260.7 255.8h1M264.2 258.2h1M258.3 247.1h1M261.3 248.2h1M260.0 253.7h1M265.5 262.3h1M269.3 258.1h1" stroke="#c4a8a8" stroke-width="1" fill="none"/>
<path d="M270.5 271.7h1M268.6 269.5h1M271.3 268.3h1M270.4 271.8h1M270.6 266.3h1M268.4 280.3h1M270.3 274.9h1M273.9 278.8h1M273.7 278.1h1M268.0 276.6h1M268.3 273.0h1M272.9 277.3h1M268.9 272.8h1M271.3 273.9h1M275.1 278.9h1M271.4 268.5h1M270.1 265.3h1M275.7 278.1h1M272.1 282.3h1M267.2 270.7h1M269.5 266.7h1M276.4 275.8h1M274.8 267.2h1M265.6 275.4h1M273.5 280.2h1M266.3 272.3h1M269.6 265.6h1M273.6 268.5h1M273.8 277.6h1M268.2 279.0h1M273.2 267.2h1M269.2 280.4h1M271.7 278.3h1M266.0 270.9h1M271.9 279.9h1M270.4 271.6h1M274.4 281.0h1M269.7 277.1h1M269.6 267.3h1M272.8 275.4h1M269.7 278.3h1" stroke="#ff2020" stroke-width="1" fill="none"/>
<path d="M279.4 281.2h1M275.0 283.6h1M273.0 282.8h1M266.3 282.7h1M270.7 262.8h1M277.9 272.2h1M270.0 286.8h1M273.6 263.7h1M273.0 262.7h1M279.7 270.4h1M266.9 264.9h1M271.3 286.8h1M279.2 274.6h1M266.6 266.7h1M264.9 280.4h1M265.1 264.1h1M269.8 284.8h1M279.8 268.4h1M268.1 286.9h1M274.6 285.3h1M268.0 287.1h1M271.7 287.7h1M274.8 287.8h1" stroke="#ff9a9a" stroke-width="1" fill="none"/>
<path d="M269.6 273.6h1M272.2 272.8h1M272.5 270.9h1M267.8 272.7h1M272.4 278.8h1M272.3 282.2h1M275.1 278.5h1M273.9 279.1h1M273.6 270.9h1M270.4 269.5h1M275.5 269.4h1M267.6 276.0h1M271.8 280.1h1M266.2 277.4h1M269.9 272.8h1M274.0 278.1h1M273.4 282.0h1" stroke="#ff8080" stroke-width="1" fill="none"/>
<path d="M252.4 254.2h1M279.2 265.7h1M276.9 307.8h1M253.7 270.5h1M266.7 292.4h1M284.6 283.9h1M256.4 293.0h1M269.5 259.5h1M246.9 303.8h1M257.4 265.9h1M269.4 243.7h1M249.2 280.0h1" stroke="#b8a8a8" stroke-width="1" fill="none"/>
<path d="M249.4 257.2h1M271.7 286.7h1M287.6 261.9h1M275.0 315.0h1M285.5 303.3h1M267.5 241.8h1M272.4 245.9h1M286.9 311.1h1" stroke="#c07070" stroke-width="1" fill="none"/>
<path d="M279.2 282.7h1M263.7 247.2h1M272.4 298.0h1M260.3 306.9h1M244.0 303.5h1" stroke="#a04040" stroke-width="1" fill="none"/>
<path d="M258.9 270.5h1M255.4 253.3h1M261.2 271.0h1M256.1 266.7h1M274.7 287.8h1M266.9 287.6h1M268.5 262.4h1M275.9 267.1h1M275.6 261.5h1M268.3 262.4h1M269.8 295.0h1M272.9 295.8h1M270.0 288.7h1M255.3 261.5h1M269.9 255.4h1M287.8 267.4h1M267.0 257.5h1M272.2 263.2h1M263.8 283.0h1M256.0 260.8h1M262.7 274.0h1M263.8 286.2h1M279.3 282.9h1M266.3 255.9h1M268.3 245.7h1M273.3 261.3h1M256.4 290.2h1M273.6 308.2h1M261.2 258.3h1M262.6 252.2h1M272.6 299.8h1M282.0 275.6h1M269.0 285.9h1M255.5 276.2h1M263.0 287.4h1M256.9 288.8h1M269.6 292.8h1M285.8 293.7h1M265.1 287.0h1M262.5 295.5h1M285.2 273.7h1M275.1 301.6h1M266.8 299.4h1M271.3 288.2h1M269.7 307.2h1M254.1 265.1h1M253.3 284.4h1M282.1 280.7h1" stroke="#c4acac" stroke-width="1" fill="none"/>
<path d="M265.5 256.3h1M275.7 298.4h1M255.8 292.8h1M261.6 309.1h1M259.0 281.3h1M264.9 288.0h1M259.2 286.4h1M272.8 258.2h1M263.5 278.8h1M262.3 257.0h1M283.2 269.0h1M261.8 258.0h1M263.1 262.7h1M277.7 306.8h1M277.1 282.5h1M254.2 299.0h1M267.4 262.6h1M266.1 282.2h1M262.9 313.3h1M285.5 271.1h1M251.7 257.0h1M253.1 249.1h1M268.0 293.4h1M269.8 286.4h1M266.0 295.5h1M280.2 259.5h1M264.2 253.9h1M267.5 285.8h1M256.1 310.6h1M279.1 270.3h1M267.5 293.3h1M245.3 277.5h1M262.0 275.4h1M266.6 293.7h1M257.7 273.1h1M264.6 300.8h1M273.7 298.8h1M276.6 289.0h1M245.2 293.3h1M267.0 290.3h1M272.5 312.3h1M276.1 281.3h1M276.0 295.2h1M262.0 283.1h1M247.4 291.0h1M268.0 261.6h1M272.1 258.7h1M278.6 283.0h1M277.3 281.1h1M278.5 278.8h1M269.3 247.9h1M272.8 255.0h1M269.1 299.7h1M256.0 277.7h1M277.4 272.6h1M283.2 301.4h1M262.8 267.0h1M284.3 273.9h1M263.0 269.1h1M260.1 266.2h1M260.9 299.4h1M264.7 278.2h1" stroke="#f0a0a0" stroke-width="1" fill="none"/>
<path d="M276.8 279.0h1M278.7 270.9h1M263.0 290.7h1M255.7 257.7h1M257.3 299.0h1M277.0 266.0h1M272.5 294.2h1M265.9 290.3h1M268.1 294.4h1M254.5 276.5h1M263.0 253.7h1M262.2 274.6h1M286.0 267.2h1M279.3 310.2h1M246.0 283.7h1M262.2 288.5h1M270.2 289.6h1M259.0 284.7h1M277.7 279.5h1M260.5 296.5h1M255.3 266.9h1M280.7 271.2h1M267.6 289.8h1M260.3 281.5h1M267.1 303.4h1M270.6 284.9h1M258.6 260.5h1M265.1 293.2h1M263.5 259.2h1M263.9 268.2h1M261.4 294.3h1M271.8 286.7h1M248.9 282.1h1M263.5 274.4h1M277.0 268.6h1M270.9 291.5h1M270.7 287.2h1M273.3 286.7h1M273.2 258.1h1M269.3 285.2h1M253.2 268.5h1M279.3 290.7h1M259.8 260.8h1M254.8 255.2h1M268.2 261.2h1M274.7 265.1h1M280.0 292.3h1M263.9 273.9h1M265.8 226.6h1M277.8 268.5h1M249.7 262.1h1M294.4 280.0h1M264.7 301.3h1M260.7 275.3h1M274.1 284.2h1M257.7 266.9h1M279.3 261.4h1M274.0 258.6h1M270.3 297.2h1M276.3 307.6h1" stroke="#e86060" stroke-width="1" fill="none"/>
<path d="M260.5 276.8h1M257.0 276.3h1M277.0 250.1h1M249.4 306.2h1M270.8 284.6h1M269.9 287.0h1M272.2 288.5h1M254.1 265.1h1M258.1 270.1h1M260.1 276.5h1M256.5 265.7h1M277.5 298.1h1M266.6 282.0h1M278.0 286.3h1M277.2 287.3h1M258.6 275.3h1M262.6 257.8h1M260.3 276.1h1M263.6 278.3h1M267.9 291.5h1M275.6 266.7h1M272.8 286.7h1M261.7 287.4h1M268.9 288.0h1M261.2 281.8h1M263.4 274.9h1M257.2 263.2h1M278.8 301.5h1M269.8 262.7h1M260.2 262.0h1M264.2 265.6h1" stroke="#b04848" stroke-width="1" fill="none"/>
</g></g>
<rect x="242.5" y="211.2" width="115.10" height="105.70" fill="none" stroke="#333" stroke-width="1.1"/>
<path d="M280.3 211.2V316.9M242.5 286.8H357.6" stroke="#4a4a4a" stroke-width="1.1" fill="none"/>
<path d="M244.87 316.90v3.4M248.44 316.90v3.4M251.21 316.90v3.4M253.47 316.90v3.4M255.38 316.90v3.4M257.03 316.90v3.4M258.49 316.90v3.4M259.80 316.90v5.2M268.39 316.90v3.4M273.42 316.90v3.4M276.99 316.90v3.4M279.76 316.90v3.4M282.02 316.90v3.4M283.93 316.90v3.4M285.58 316.90v3.4M287.04 316.90v3.4M288.35 316.90v5.2M296.94 316.90v3.4M301.97 316.90v3.4M305.54 316.90v3.4M308.31 316.90v3.4M310.57 316.90v3.4M312.48 316.90v3.4M314.13 316.90v3.4M315.59 316.90v3.4M316.90 316.90v5.2M325.49 316.90v3.4M330.52 316.90v3.4M334.09 316.90v3.4M336.86 316.90v3.4M339.12 316.90v3.4M341.03 316.90v3.4M342.68 316.90v3.4M344.14 316.90v3.4M345.45 316.90v5.2M354.04 316.90v3.4M242.50 315.50h-2.8M242.50 312.21h-2.8M242.50 309.65h-2.8M242.50 307.56h-2.8M242.50 305.79h-2.8M242.50 304.26h-2.8M242.50 302.91h-2.8M242.50 301.70h-4.6M242.50 293.75h-2.8M242.50 289.10h-2.8M242.50 285.81h-2.8M242.50 283.25h-2.8M242.50 281.16h-2.8M242.50 279.39h-2.8M242.50 277.86h-2.8M242.50 276.51h-2.8M242.50 275.30h-4.6M242.50 267.35h-2.8M242.50 262.70h-2.8M242.50 259.41h-2.8M242.50 256.85h-2.8M242.50 254.76h-2.8M242.50 252.99h-2.8M242.50 251.46h-2.8M242.50 250.11h-2.8M242.50 248.90h-4.6M242.50 240.95h-2.8M242.50 236.30h-2.8M242.50 233.01h-2.8M242.50 230.45h-2.8M242.50 228.36h-2.8M242.50 226.59h-2.8M242.50 225.06h-2.8M242.50 223.71h-2.8M242.50 222.50h-4.6M242.50 214.55h-2.8" stroke="#333" stroke-width="1" fill="none"/>
<text x="252.07" y="334.00" font-size="9.6" style="stroke-width:0.2px">10<tspan dy="-4.4" font-size="6.8">2</tspan></text>
<text x="280.97" y="334.00" font-size="9.6" style="stroke-width:0.2px">10<tspan dy="-4.4" font-size="6.8">3</tspan></text>
<text x="309.87" y="334.00" font-size="9.6" style="stroke-width:0.2px">10<tspan dy="-4.4" font-size="6.8">4</tspan></text>
<text x="338.77" y="334.00" font-size="9.6" style="stroke-width:0.2px">10<tspan dy="-4.4" font-size="6.8">5</tspan></text>
<text x="231.70" y="227.20" font-size="9.5" text-anchor="end" style="stroke-width:0.2px">10</text>
<text x="235.00" y="222.80" font-size="6.6" text-anchor="end" style="stroke-width:0.15px">5</text>
<text x="231.70" y="253.70" font-size="9.5" text-anchor="end" style="stroke-width:0.2px">10</text>
<text x="235.00" y="249.30" font-size="6.6" text-anchor="end" style="stroke-width:0.15px">4</text>
<text x="231.70" y="280.00" font-size="9.5" text-anchor="end" style="stroke-width:0.2px">10</text>
<text x="235.00" y="275.60" font-size="6.6" text-anchor="end" style="stroke-width:0.15px">3</text>
<text x="231.70" y="306.70" font-size="9.5" text-anchor="end" style="stroke-width:0.2px">10</text>
<text x="235.00" y="302.30" font-size="6.6" text-anchor="end" style="stroke-width:0.15px">2</text>
<text x="302.5" y="347.3" font-size="10.2" text-anchor="middle" style="stroke-width:0.22px">CD33</text>
<text transform="translate(219.3,267.3) rotate(-90)" font-size="10.2" text-anchor="middle" style="stroke-width:0.22px">CD71</text>
<g clip-path="url(#c5)"><g filter="url(#sb)">
<ellipse cx="429.6" cy="274.0" rx="7.0" ry="9.6" transform="rotate(0 429.6 274.0)" fill="#f00" opacity="1.0" filter="url(#bl)"/>
<path d="M428.4 268.7h1M433.4 279.7h1M425.4 279.2h1M427.7 272.9h1M426.5 273.4h1M432.1 275.1h1M427.3 280.4h1M433.2 272.1h1M433.2 277.0h1M428.7 268.7h1M432.5 276.6h1M428.6 275.1h1M429.5 277.4h1M428.3 279.1h1M427.2 273.7h1M429.8 275.3h1M432.6 275.1h1M428.8 271.6h1M435.1 274.0h1M428.9 274.4h1M428.0 279.1h1M424.2 275.6h1M429.5 277.2h1M429.9 266.5h1M431.9 279.6h1M429.4 274.6h1M432.9 274.0h1M427.8 276.9h1M424.3 276.9h1M429.2 277.3h1M431.6 276.6h1M431.6 274.6h1M433.5 275.6h1M434.2 278.6h1M428.3 281.5h1M433.6 275.0h1M429.8 275.3h1M432.6 273.1h1M428.3 275.7h1M429.1 268.7h1M432.7 280.1h1M433.0 266.9h1M430.4 282.5h1M426.3 272.4h1M424.7 276.3h1" stroke="#ff2020" stroke-width="1" fill="none"/>
<path d="M434.8 268.3h1M426.4 261.9h1M434.6 284.9h1M424.3 264.5h1M436.0 267.1h1M435.8 267.0h1M431.3 260.9h1M435.6 268.9h1M432.6 262.2h1M434.6 285.3h1M432.0 284.7h1M434.7 284.3h1M423.3 277.1h1M439.9 276.3h1M422.9 271.7h1M424.7 268.1h1M425.3 266.4h1M429.4 262.8h1M424.4 280.4h1M422.9 282.7h1M431.5 265.5h1M422.2 268.5h1M424.1 278.5h1M433.4 282.0h1M422.2 276.8h1M428.8 283.2h1M426.1 264.6h1M428.0 282.9h1M437.2 280.4h1M425.3 284.2h1M424.4 280.3h1M423.9 285.3h1M438.6 274.5h1M426.9 262.1h1M424.3 262.2h1M437.3 282.5h1M432.7 285.2h1M429.1 287.2h1M431.7 287.7h1" stroke="#c02828" stroke-width="1" fill="none"/>
<path d="M437.9 286.6h1M429.9 288.7h1M440.4 275.9h1M426.1 292.2h1M432.6 296.0h1M432.2 290.6h1M434.8 291.3h1M424.5 257.6h1M420.1 264.9h1M433.6 291.0h1M435.5 256.1h1M428.3 292.1h1M430.6 255.6h1M424.5 294.7h1M430.2 259.5h1M418.1 284.9h1M419.9 280.9h1M425.8 288.8h1M436.6 261.8h1M432.3 254.4h1M440.9 275.7h1M426.3 291.3h1M426.3 251.7h1M430.0 259.3h1M435.8 255.0h1M434.0 292.7h1M422.6 288.5h1M438.4 283.7h1M433.1 255.2h1M434.4 256.6h1M428.5 295.3h1M429.5 291.9h1M430.9 294.3h1M426.3 291.0h1M421.7 283.9h1M421.2 290.9h1M434.5 288.7h1M428.1 298.8h1M419.9 283.3h1M435.0 290.6h1M434.3 297.3h1M428.8 291.0h1M436.8 294.7h1M433.3 296.0h1M440.4 290.1h1M425.8 291.8h1M431.2 293.7h1M429.9 292.4h1M429.5 291.0h1M423.7 291.2h1M432.0 292.9h1M429.5 293.6h1M427.0 290.1h1M434.5 286.7h1M433.3 293.0h1M444.3 288.6h1M423.6 293.2h1M430.7 292.4h1M428.8 294.6h1M432.0 292.1h1M429.7 292.3h1M436.4 291.9h1M436.6 290.4h1M433.9 293.7h1M426.6 297.5h1M422.7 294.5h1M431.4 292.7h1M429.0 294.0h1M433.7 290.5h1M441.2 289.3h1M430.0 294.2h1M436.7 286.2h1M433.4 296.2h1M428.7 297.5h1M428.9 295.3h1M432.1 295.2h1M422.8 303.0h1M429.8 288.5h1M432.0 290.6h1M423.2 285.5h1M424.4 294.5h1M434.7 288.3h1M426.4 296.2h1M424.2 298.6h1M429.5 303.7h1M433.8 287.8h1M426.3 295.1h1M426.0 292.1h1M429.8 293.9h1M422.0 290.0h1M436.3 293.7h1M432.0 293.3h1M429.7 295.3h1M434.8 294.4h1M422.1 296.0h1M440.0 293.5h1M425.0 291.2h1M422.0 285.5h1M429.0 294.7h1M429.2 249.4h1M423.3 247.8h1M428.6 259.7h1M426.4 260.0h1M426.9 287.9h1M433.8 253.3h1M434.8 242.9h1M426.3 262.3h1M424.8 257.1h1M423.7 253.9h1M416.0 255.0h1M435.6 262.9h1M421.9 242.0h1M420.6 250.2h1M437.3 261.0h1M423.1 277.9h1M420.7 270.1h1M419.8 253.3h1M426.5 263.2h1M423.8 242.8h1M432.2 258.8h1M418.6 274.2h1M423.9 253.8h1M439.0 276.2h1M423.0 247.7h1M429.3 257.5h1M416.5 265.6h1M426.2 265.4h1M441.2 280.3h1M431.4 254.1h1M416.9 281.4h1M416.3 270.5h1" stroke="#e87878" stroke-width="1" fill="none"/>
<path d="M432.8 273.9h1M429.5 281.7h1M426.6 270.5h1M434.3 270.7h1M429.4 278.2h1M431.6 277.2h1M430.4 270.5h1M426.0 271.0h1M432.2 274.1h1M428.3 273.0h1M432.7 277.2h1M425.2 271.2h1M432.5 278.2h1M426.4 276.6h1M425.8 271.1h1M428.4 276.8h1M429.2 281.5h1M430.1 275.8h1M427.9 269.2h1M431.8 274.7h1M430.5 272.6h1M435.4 272.2h1M430.2 271.0h1M432.3 270.2h1M430.7 266.5h1M432.5 266.7h1M429.9 271.2h1M428.9 274.4h1M431.4 274.6h1M429.4 275.6h1M428.8 269.5h1M429.4 273.6h1M425.1 273.6h1M432.2 277.1h1M428.5 274.6h1M428.4 278.6h1M432.8 269.6h1M428.8 282.2h1M433.0 269.2h1M430.1 275.5h1M423.8 275.0h1M428.6 280.8h1M428.9 268.3h1M424.7 275.7h1M425.7 271.3h1M428.1 267.9h1M427.4 273.7h1M430.6 277.4h1M426.6 272.6h1M428.5 280.5h1M429.5 272.9h1M428.6 267.7h1M431.8 276.6h1M432.3 277.7h1M425.9 271.9h1M433.6 272.6h1M433.0 277.7h1M432.2 275.8h1M429.7 277.9h1M425.0 274.6h1M427.3 270.3h1M429.8 269.8h1M430.1 271.8h1M429.1 282.6h1M428.7 268.2h1M430.0 272.5h1M424.2 275.1h1M428.0 273.5h1M432.9 276.2h1M426.2 277.0h1M427.4 272.7h1M433.5 268.7h1M430.0 275.7h1M424.7 272.3h1M425.0 277.8h1M430.0 272.6h1M432.5 279.4h1M429.4 277.4h1M428.0 277.8h1M428.0 280.8h1M434.1 269.5h1M429.0 270.4h1M426.4 272.7h1M430.5 282.1h1M425.6 270.4h1M432.0 270.5h1M429.1 276.9h1M426.9 268.1h1M424.3 276.4h1M430.6 278.2h1M435.4 275.1h1M427.3 274.4h1M425.0 277.2h1M431.3 280.0h1M428.4 280.1h1M426.8 275.9h1M427.0 274.2h1M429.3 282.4h1M432.0 267.8h1M423.9 272.8h1M427.5 279.0h1M428.3 271.2h1M428.3 278.2h1M430.8 278.4h1M431.3 270.4h1M429.5 281.9h1M429.1 280.5h1M427.6 270.5h1M428.1 265.6h1M429.7 271.9h1M429.0 269.3h1M427.5 268.9h1M423.8 275.9h1M431.8 270.4h1M425.0 274.5h1M435.2 273.2h1M428.4 281.6h1M425.5 274.5h1M429.0 279.9h1M431.8 271.1h1M428.1 278.3h1M427.1 280.3h1M429.1 269.6h1M431.4 277.1h1M432.7 270.7h1M427.0 272.5h1M424.9 274.3h1M426.6 272.1h1M433.7 280.5h1M424.5 278.2h1M430.9 268.6h1M429.8 280.8h1M433.7 277.9h1M433.8 274.4h1M430.9 281.3h1M429.2 280.5h1M432.5 280.7h1M434.5 271.8h1M430.7 265.8h1M430.8 277.3h1M432.7 278.7h1M432.4 272.4h1M426.7 277.0h1M428.3 281.2h1M431.0 271.6h1M429.1 269.0h1M428.4 277.9h1M430.3 267.3h1M429.5 278.5h1M429.5 280.2h1M433.4 271.5h1M428.7 277.3h1M432.4 278.2h1M427.0 276.6h1M434.2 276.8h1M434.8 270.8h1M433.7 279.2h1M429.8 268.1h1M433.0 271.9h1M433.0 270.5h1M429.7 276.3h1M426.9 268.1h1M425.9 274.1h1M426.1 273.9h1M425.9 277.4h1M427.7 270.8h1M425.1 269.4h1M423.8 277.4h1M431.0 277.5h1M428.0 265.7h1M427.6 271.0h1M432.3 277.0h1M429.0 271.1h1M428.1 269.6h1M427.0 271.1h1M430.0 272.3h1M430.7 267.4h1M432.0 271.6h1M431.1 271.6h1M431.7 281.8h1M426.6 271.5h1M433.4 272.1h1M423.4 274.8h1M429.7 275.4h1M431.3 275.0h1M426.0 272.9h1M426.7 268.8h1M434.2 278.0h1M425.4 268.5h1M426.3 271.5h1M425.9 271.0h1M433.9 280.2h1M429.2 270.4h1M431.6 272.5h1M435.0 271.5h1M428.4 277.6h1M430.8 273.2h1M423.8 275.8h1M426.7 270.2h1M428.1 279.6h1M429.1 282.0h1M426.6 268.4h1M434.8 275.7h1M428.9 266.7h1M425.2 275.4h1M428.6 278.0h1M424.0 270.3h1M431.6 281.8h1M432.0 274.2h1M432.8 270.7h1M429.5 280.2h1M434.1 278.7h1M435.3 276.3h1M430.8 282.4h1M425.0 278.3h1M431.9 278.0h1M428.6 282.3h1M426.5 280.4h1M432.6 280.6h1" stroke="#ff0000" stroke-width="1" fill="none"/>
<path d="M433.9 283.6h1M439.6 277.8h1M431.3 264.4h1M433.4 288.4h1M429.7 293.5h1M427.0 265.5h1M426.9 259.4h1M425.1 260.5h1M425.9 265.6h1M422.9 288.2h1M427.4 264.1h1M436.4 263.4h1M434.7 255.6h1M434.8 267.9h1M440.6 280.9h1M432.8 263.0h1M420.1 282.1h1M429.3 286.4h1M427.5 260.9h1M424.9 288.8h1M422.0 284.7h1M418.6 264.8h1M422.3 277.1h1M428.0 282.9h1M436.5 282.8h1M427.7 291.1h1M434.2 285.8h1M430.0 283.4h1M423.6 248.6h1M436.0 290.7h1M421.4 296.0h1M440.8 274.9h1M419.5 276.7h1M429.8 283.2h1M436.0 283.8h1M432.2 290.7h1M427.6 284.9h1M435.6 257.6h1M436.6 271.1h1M438.3 266.5h1M429.9 264.6h1M420.3 263.6h1M434.0 258.4h1M436.0 267.3h1M429.5 297.8h1M434.2 264.0h1M434.3 282.5h1M432.9 282.8h1M421.1 268.6h1M427.7 283.5h1M431.2 259.6h1M425.9 257.2h1M424.2 284.6h1M425.0 285.1h1M428.0 283.3h1M427.4 284.8h1M425.1 261.2h1M435.8 283.6h1M426.4 283.9h1M435.5 278.9h1M434.2 290.2h1M442.1 256.6h1M438.8 285.3h1M437.9 278.6h1M426.6 283.1h1M438.5 271.5h1M424.9 290.8h1M429.9 285.7h1M429.7 262.1h1M421.5 288.3h1M429.6 288.9h1M431.5 264.4h1M433.8 281.9h1M423.3 288.8h1M436.4 266.8h1M425.5 288.0h1M437.0 287.7h1M440.6 299.2h1M439.4 284.9h1M431.3 286.6h1M430.9 262.1h1M432.4 282.1h1M421.1 280.5h1M424.6 280.7h1M439.8 278.2h1M426.1 283.3h1M421.1 271.2h1M425.1 253.2h1M429.2 259.2h1M425.3 264.6h1M439.0 278.5h1M427.1 258.6h1M433.5 264.1h1M417.8 290.5h1M427.0 282.4h1M422.9 292.4h1M427.5 282.4h1M423.5 268.9h1M435.5 268.7h1M423.7 279.1h1M424.5 263.0h1M426.4 281.5h1M422.8 273.7h1M422.4 261.9h1M424.3 285.0h1M423.3 301.9h1M440.6 289.1h1M423.3 262.3h1M429.1 291.9h1M430.3 287.6h1M429.9 296.9h1M427.5 289.6h1M431.6 291.9h1M430.1 288.6h1M428.3 290.3h1M432.9 292.7h1M424.0 283.9h1M420.4 292.9h1M426.8 289.3h1M424.1 288.9h1M423.5 295.3h1M425.9 294.8h1M433.4 282.8h1M422.4 283.7h1M434.7 297.5h1M431.8 291.3h1M426.1 286.3h1M432.1 289.3h1M429.7 296.3h1M420.4 284.0h1M433.9 292.6h1M430.5 292.9h1M428.1 306.1h1M435.2 292.0h1M427.2 303.1h1M423.8 290.6h1M429.6 295.6h1M424.5 288.3h1M425.3 291.5h1M433.2 290.0h1M426.0 292.9h1M438.6 289.5h1M431.4 296.5h1M432.9 284.8h1M427.5 293.9h1M435.8 297.2h1M419.1 283.0h1M426.1 284.7h1M436.3 302.2h1M424.4 290.1h1M436.6 300.6h1M432.5 296.4h1M430.0 292.9h1M433.4 299.2h1M431.0 297.5h1M427.1 296.7h1M436.9 294.9h1M423.3 295.0h1M425.9 289.3h1M438.5 293.5h1M433.7 297.6h1M430.4 283.3h1M432.9 293.3h1M426.7 289.0h1M436.9 299.9h1M435.1 307.9h1M429.8 295.1h1M430.9 296.7h1M442.2 292.3h1M440.4 286.1h1M434.3 291.9h1M430.8 290.0h1M428.2 296.1h1M433.1 290.0h1M428.5 288.8h1M427.8 296.8h1M429.2 288.4h1M433.9 292.3h1M442.4 294.8h1M432.7 285.4h1M423.1 284.2h1M434.3 289.6h1M430.9 285.1h1M425.6 289.2h1M417.1 287.5h1M430.5 304.1h1M433.7 287.4h1M424.7 255.9h1M426.7 250.7h1M420.4 260.6h1M425.7 258.0h1M419.4 274.5h1M435.2 247.5h1M425.0 251.0h1M420.9 267.9h1M434.2 250.9h1M418.2 253.1h1M429.5 263.8h1M436.2 249.2h1M430.5 252.8h1M429.7 258.2h1M432.1 260.2h1M407.7 269.0h1M418.9 279.1h1M427.6 260.5h1M421.7 258.8h1M433.1 286.2h1M422.0 269.5h1M419.5 271.8h1M423.0 258.0h1M436.1 260.1h1M421.7 273.4h1M432.5 262.7h1M412.3 264.1h1M428.3 263.1h1M436.4 269.0h1M436.7 255.1h1M426.2 235.6h1M446.1 270.8h1M424.0 242.4h1M415.3 252.8h1M428.0 261.5h1M412.0 263.3h1M427.3 246.6h1M422.2 274.0h1" stroke="#f04848" stroke-width="1" fill="none"/>
<path d="M437.6 281.6h1M420.9 275.4h1M435.9 268.4h1M427.1 261.5h1M425.3 266.1h1M419.4 276.1h1M431.5 284.9h1M433.8 263.3h1M421.8 268.7h1M429.4 262.2h1M423.6 277.0h1M420.9 270.7h1M430.9 263.9h1M437.5 270.5h1M420.9 276.3h1M426.1 283.8h1M421.8 282.3h1M438.7 280.2h1M439.6 275.4h1M423.6 265.8h1M425.4 267.5h1M430.0 264.8h1M431.6 263.7h1M430.5 285.5h1M423.4 262.9h1M423.3 276.8h1M431.8 288.0h1M423.7 277.4h1M430.0 265.1h1M435.3 263.0h1M437.4 276.8h1M435.0 280.5h1M431.7 287.6h1M428.8 282.7h1M419.8 278.7h1M424.9 262.6h1M436.2 284.6h1M424.1 267.4h1M431.5 287.0h1M422.2 281.5h1M438.9 278.2h1M426.3 287.0h1M436.1 276.5h1M435.5 282.3h1M423.1 277.1h1M423.2 269.2h1M425.4 284.7h1M430.4 261.1h1M434.2 280.2h1M420.9 278.9h1M425.1 267.1h1M425.2 286.2h1M427.0 284.1h1M426.9 262.0h1M422.8 275.6h1M431.9 264.2h1M426.0 284.4h1M431.3 283.9h1M422.7 277.3h1M439.5 271.4h1M425.0 281.7h1M438.4 275.9h1M419.6 276.3h1M429.0 286.6h1M424.3 268.5h1M431.0 259.8h1M433.4 285.9h1M435.0 280.9h1M432.0 284.6h1M424.1 280.9h1M436.1 269.2h1M434.5 283.8h1M425.7 287.2h1M435.9 269.9h1M436.5 270.3h1M427.0 261.8h1M425.1 281.5h1M423.9 277.8h1M424.8 263.4h1M435.8 267.0h1M428.2 262.9h1M436.1 268.3h1M422.6 270.8h1M437.7 276.5h1M429.7 263.6h1M433.2 261.3h1M430.0 285.0h1M439.0 274.6h1M437.2 268.4h1M424.8 283.8h1M423.5 267.9h1M427.7 260.1h1M439.7 271.8h1M427.8 284.4h1M419.8 271.6h1M419.9 277.1h1M423.1 268.5h1M434.2 266.1h1M438.4 281.5h1M435.9 281.8h1M425.5 263.1h1M420.9 272.8h1M422.6 272.3h1M435.1 285.9h1M419.6 271.4h1M419.8 270.1h1M430.9 265.2h1M431.2 282.9h1M430.1 286.1h1M432.5 287.1h1M425.6 284.7h1M424.2 281.0h1M429.7 282.8h1M426.7 282.1h1M434.1 283.9h1M424.6 281.3h1M433.9 287.0h1M432.4 287.6h1M427.3 284.6h1M428.3 287.5h1M430.5 287.9h1M429.3 284.9h1M426.0 281.6h1M432.8 285.7h1M425.0 282.3h1M428.8 285.4h1M425.6 284.7h1M423.1 283.3h1M433.9 286.6h1M432.6 286.8h1M427.1 285.7h1M425.4 284.1h1M427.8 287.9h1M430.0 286.7h1M433.3 285.9h1M431.5 286.6h1M434.3 286.2h1M432.4 286.3h1" stroke="#ff1818" stroke-width="1" fill="none"/>
<path d="M419.4 270.0h1M437.1 284.6h1M415.9 277.6h1M439.9 278.9h1M435.4 259.2h1M427.6 290.9h1M437.7 292.2h1M436.8 285.1h1M428.8 257.2h1M432.1 294.4h1M430.8 257.2h1M441.3 250.9h1M441.0 280.2h1M428.2 259.3h1M447.1 267.1h1M423.9 296.1h1M421.5 287.9h1M424.3 288.7h1M429.7 256.2h1M444.6 282.6h1M430.4 243.2h1M419.2 280.7h1M435.9 291.7h1M425.6 287.6h1M445.5 277.4h1M448.2 298.9h1M417.9 276.3h1M439.6 285.5h1M441.8 283.5h1M438.1 253.8h1M427.2 252.4h1M427.9 291.8h1M424.8 259.5h1M436.4 244.8h1M432.5 288.3h1M419.3 290.3h1M427.8 289.7h1M418.5 273.5h1M442.6 277.3h1M430.8 290.3h1M431.9 295.7h1M435.3 288.2h1M436.0 290.2h1M436.4 297.1h1M426.0 299.8h1M427.1 292.9h1M430.6 290.6h1M426.4 293.5h1M438.7 293.9h1M431.0 290.3h1M430.0 291.1h1M425.3 298.7h1M434.8 293.0h1M426.5 291.0h1M429.6 294.3h1M421.3 290.6h1M436.4 289.9h1M426.1 287.8h1M437.3 291.3h1M430.3 293.1h1M431.4 293.5h1M431.0 300.7h1M430.0 289.4h1M431.6 309.0h1M423.3 294.5h1M424.4 286.9h1M432.2 289.4h1M426.0 294.8h1M435.1 296.3h1M437.5 292.1h1M418.6 282.9h1M441.9 297.1h1M432.7 291.4h1M427.4 297.6h1M421.7 285.4h1M429.9 296.6h1M426.7 289.1h1M428.8 300.7h1M423.8 290.7h1M431.4 293.8h1M424.6 294.4h1M427.3 295.2h1M431.6 302.1h1M430.1 290.5h1M426.1 290.2h1M423.1 291.6h1M428.5 291.6h1M435.5 294.9h1M437.2 293.3h1M434.0 290.9h1M428.4 293.1h1M425.1 290.9h1M430.8 293.0h1M420.9 293.6h1M433.3 294.0h1M439.3 292.7h1M432.2 291.9h1M424.8 288.4h1M431.1 293.3h1M433.4 294.6h1M426.6 303.1h1M432.8 288.5h1M433.9 289.5h1M433.5 291.6h1M436.1 305.8h1M433.4 260.8h1M412.5 270.2h1M444.4 266.7h1M423.5 253.5h1M431.1 264.3h1M423.6 258.3h1M418.0 258.2h1M410.3 249.7h1M429.9 253.4h1M416.1 248.6h1M437.0 261.9h1M427.9 264.6h1M428.5 261.5h1M425.9 261.7h1M433.5 261.2h1M427.2 257.1h1M421.3 272.1h1M416.6 244.1h1M432.8 265.5h1M426.7 259.7h1M422.1 279.1h1M423.1 266.9h1M429.2 252.3h1M412.5 282.3h1M421.0 275.5h1M410.1 259.0h1M412.9 259.1h1M434.9 254.2h1M424.4 261.8h1M423.9 266.9h1M423.4 267.4h1M432.3 260.5h1M429.5 247.3h1M405.6 251.4h1M417.5 277.3h1M412.6 268.6h1M407.8 256.2h1M409.9 276.2h1M419.2 257.8h1M420.9 245.1h1M438.0 259.3h1M424.2 260.2h1M434.5 259.1h1M429.6 245.5h1M424.3 262.0h1M408.4 247.0h1M419.7 262.5h1M418.0 265.9h1M417.3 266.1h1M424.8 262.9h1" stroke="#c4a8a8" stroke-width="1" fill="none"/>
<path d="M441.7 285.0h1M440.9 273.4h1M437.1 290.4h1M439.5 286.2h1M412.7 280.5h1M432.9 298.1h1M437.5 289.4h1M422.7 286.9h1M420.7 289.8h1M417.9 276.1h1M428.9 290.8h1M420.6 294.2h1M425.6 288.9h1M438.0 259.7h1M417.3 292.1h1M428.2 259.3h1M424.3 293.8h1M434.8 289.3h1M438.9 280.6h1M417.8 280.2h1M425.3 289.8h1M423.1 294.5h1M434.8 287.1h1M418.0 274.0h1M437.3 262.2h1M421.6 260.0h1M435.3 287.8h1M438.7 284.3h1M431.0 288.9h1M432.3 259.3h1M417.3 299.3h1M423.3 298.0h1M443.3 278.6h1M419.7 284.0h1M423.7 286.2h1M417.4 253.3h1M437.0 297.6h1M428.0 301.0h1M432.8 291.7h1M440.8 293.4h1M420.6 297.2h1M432.9 295.4h1M430.6 295.5h1M430.0 292.8h1M431.3 289.3h1M429.2 298.7h1M431.7 289.4h1M429.2 300.2h1M416.6 306.2h1M434.8 296.3h1M430.7 290.0h1M422.7 301.8h1M426.7 291.7h1M425.6 290.8h1M432.3 296.8h1M429.7 290.7h1M430.4 293.2h1M437.3 293.8h1M419.3 291.7h1M432.5 295.4h1M439.6 282.0h1M434.1 291.4h1M433.0 295.3h1M434.6 290.2h1M433.0 292.6h1M441.6 286.9h1M411.9 288.3h1M430.3 296.4h1M433.5 291.5h1M431.4 291.4h1M430.5 293.3h1M429.1 289.6h1M431.2 292.7h1M427.4 295.7h1M430.4 295.5h1M435.9 290.5h1M430.3 291.9h1M434.2 300.6h1M422.5 279.8h1M429.1 254.7h1M409.6 262.3h1M428.5 255.9h1M427.8 255.4h1M435.5 249.6h1M431.9 252.6h1M426.2 263.6h1M434.2 255.5h1M417.7 265.5h1M429.7 247.4h1M429.5 242.2h1M425.2 285.9h1M431.0 255.9h1M426.5 251.4h1M425.9 264.3h1M438.4 274.5h1M414.7 256.0h1M420.5 256.7h1M417.3 254.6h1M425.7 259.7h1M418.7 260.0h1M430.1 260.3h1M424.2 280.8h1M433.1 249.1h1M431.6 261.8h1M417.9 252.6h1" stroke="#b04040" stroke-width="1" fill="none"/>
<path d="M424.2 271.7h1M434.3 269.7h1M428.5 280.2h1M434.1 272.7h1M425.0 274.3h1M427.6 270.5h1M430.0 272.2h1M434.4 273.2h1M431.5 278.9h1M424.2 275.0h1" stroke="#ff8080" stroke-width="1" fill="none"/>
<path d="M429.9 263.3h1M420.7 274.2h1M435.3 264.2h1M436.2 278.6h1M427.0 284.4h1M430.8 264.1h1M423.5 284.5h1M421.1 274.0h1M426.6 286.1h1M423.5 281.9h1M428.9 261.6h1M435.8 263.4h1M424.3 285.2h1M439.3 273.4h1M429.4 287.7h1M435.5 283.3h1M432.8 262.3h1M429.5 262.9h1M423.8 266.7h1M431.2 262.7h1M439.2 273.5h1M435.6 284.8h1M438.6 275.8h1M420.6 271.1h1M431.4 286.2h1M427.2 285.3h1M427.1 284.8h1M428.4 288.0h1M420.6 278.3h1M424.8 286.6h1" stroke="#ff9a9a" stroke-width="1" fill="none"/>
<path d="M413.1 275.7h1M432.7 260.6h1M417.5 293.3h1M411.7 241.8h1M412.1 269.3h1" stroke="#a04040" stroke-width="1" fill="none"/>
<path d="M443.8 301.4h1M414.8 266.4h1M404.8 254.4h1M408.6 269.6h1M430.7 303.5h1M432.0 254.2h1M406.6 276.1h1M411.5 281.8h1M447.8 292.3h1M406.7 279.0h1M443.1 310.4h1M416.1 283.6h1M423.9 289.9h1M412.9 300.7h1" stroke="#b8a8a8" stroke-width="1" fill="none"/>
<path d="M441.0 308.5h1M445.2 261.9h1M422.6 253.0h1M411.1 266.0h1M412.3 283.0h1" stroke="#c07070" stroke-width="1" fill="none"/>
<path d="M438.3 285.8h1M436.9 280.2h1M439.8 267.7h1M432.6 287.4h1M421.0 276.0h1M430.7 290.2h1M442.5 285.7h1M416.5 278.9h1M436.1 269.9h1M413.2 285.8h1M425.3 264.8h1M435.6 266.7h1M429.5 298.7h1M432.4 287.0h1M435.2 298.3h1M425.1 294.0h1M438.2 277.0h1M430.3 256.5h1M424.0 281.2h1M426.9 263.5h1M413.4 260.1h1M424.5 288.8h1M431.4 315.2h1M423.3 292.5h1M432.9 283.8h1M452.1 255.6h1M420.8 265.9h1M423.5 281.2h1M427.5 242.3h1M429.1 298.1h1M441.7 269.4h1M417.2 286.0h1M430.9 263.0h1M442.3 273.8h1M423.4 293.6h1M441.5 260.7h1M433.2 283.0h1M436.6 259.4h1M431.2 307.5h1M425.5 299.8h1M422.9 246.0h1M433.6 302.5h1M432.8 253.2h1M425.2 283.9h1M413.4 258.1h1M436.2 289.6h1M429.0 295.2h1M408.9 285.0h1M428.8 304.4h1M420.6 283.9h1" stroke="#f0a0a0" stroke-width="1" fill="none"/>
<path d="M422.3 274.0h1M419.7 281.3h1M436.2 248.1h1M421.8 261.9h1M420.4 257.5h1M421.3 284.0h1M424.2 283.5h1M413.1 313.4h1M436.4 280.4h1M434.7 286.3h1M421.6 284.5h1M431.8 285.2h1M415.7 275.5h1M439.9 267.9h1M433.7 284.5h1M421.8 269.7h1M426.9 294.1h1M412.7 291.7h1M437.2 296.4h1M415.8 280.7h1M443.7 289.1h1M417.9 276.8h1M423.5 287.6h1M420.9 266.7h1M429.3 294.2h1M430.0 306.0h1M429.0 260.4h1M431.6 297.0h1M422.5 276.5h1M432.1 261.2h1M431.3 300.0h1M427.9 261.1h1M419.4 286.3h1M415.9 251.5h1M431.8 295.0h1M422.8 284.9h1M413.7 280.5h1M423.0 288.9h1M439.0 269.6h1M431.6 309.4h1M442.0 291.2h1M432.8 286.2h1M427.8 261.6h1M430.2 287.7h1M445.7 271.4h1M434.8 288.9h1M432.6 283.2h1M422.4 280.5h1M427.7 293.0h1M422.3 278.2h1M415.5 258.5h1M426.6 293.2h1M441.2 269.4h1M414.0 285.1h1M431.4 255.8h1M422.7 307.2h1M439.2 290.3h1M430.9 257.2h1M415.4 276.6h1M420.7 304.7h1M432.4 285.3h1M438.3 271.3h1M426.1 259.5h1M424.9 283.3h1M415.0 285.8h1M417.6 280.1h1M436.0 289.4h1" stroke="#e86060" stroke-width="1" fill="none"/>
<path d="M426.0 310.1h1M424.2 294.2h1M438.0 279.7h1M413.7 292.2h1M421.2 280.2h1M436.2 260.9h1M432.0 295.2h1M442.3 259.8h1M436.3 282.4h1M419.4 308.5h1M429.4 285.6h1M429.9 287.7h1M413.7 284.2h1M420.9 279.8h1M427.1 286.2h1M446.1 274.4h1M442.8 271.5h1M411.7 284.1h1M424.7 294.6h1M418.3 266.1h1M430.8 263.9h1M434.2 289.9h1M420.3 269.3h1M434.0 305.0h1M420.5 285.5h1M419.2 258.2h1M417.2 272.7h1M422.1 272.0h1M417.7 284.1h1M422.3 267.7h1M414.3 274.9h1M437.9 296.4h1M437.5 291.4h1" stroke="#b04848" stroke-width="1" fill="none"/>
<path d="M432.2 288.5h1M433.5 288.7h1M421.2 271.5h1M434.9 285.0h1M437.2 258.1h1M410.1 290.2h1M422.0 265.2h1M437.0 253.3h1M415.6 274.0h1M436.2 291.1h1M437.0 290.5h1M427.6 300.1h1M422.0 274.0h1M431.1 264.4h1M419.4 268.5h1M416.4 302.9h1M423.5 286.7h1M433.3 303.6h1M436.6 289.3h1M426.1 260.5h1M428.6 248.0h1M427.2 298.0h1M430.2 288.1h1M436.1 255.7h1M440.8 267.2h1M435.1 236.1h1M428.4 302.9h1M415.5 296.0h1M425.8 264.8h1M429.0 293.6h1M440.3 307.3h1M425.9 262.8h1M429.2 305.3h1M424.6 296.8h1M423.7 283.6h1M434.6 286.8h1M420.5 276.1h1M416.4 272.3h1M414.4 306.0h1M427.3 289.7h1M421.3 266.0h1M420.3 271.5h1" stroke="#c4acac" stroke-width="1" fill="none"/>
</g></g>
<rect x="402.5" y="211.4" width="114.90" height="105.40" fill="none" stroke="#333" stroke-width="1.1"/>
<path d="M440.4 211.4V316.8M402.5 286.5H517.4" stroke="#4a4a4a" stroke-width="1.1" fill="none"/>
<path d="M404.07 316.80v3.4M407.64 316.80v3.4M410.41 316.80v3.4M412.67 316.80v3.4M414.58 316.80v3.4M416.23 316.80v3.4M417.69 316.80v3.4M419.00 316.80v5.2M427.59 316.80v3.4M432.62 316.80v3.4M436.19 316.80v3.4M438.96 316.80v3.4M441.22 316.80v3.4M443.13 316.80v3.4M444.78 316.80v3.4M446.24 316.80v3.4M447.55 316.80v5.2M456.14 316.80v3.4M461.17 316.80v3.4M464.74 316.80v3.4M467.51 316.80v3.4M469.77 316.80v3.4M471.68 316.80v3.4M473.33 316.80v3.4M474.79 316.80v3.4M476.10 316.80v5.2M484.69 316.80v3.4M489.72 316.80v3.4M493.29 316.80v3.4M496.06 316.80v3.4M498.32 316.80v3.4M500.23 316.80v3.4M501.88 316.80v3.4M503.34 316.80v3.4M504.65 316.80v5.2M513.24 316.80v3.4M402.50 315.60h-2.8M402.50 312.31h-2.8M402.50 309.75h-2.8M402.50 307.66h-2.8M402.50 305.89h-2.8M402.50 304.36h-2.8M402.50 303.01h-2.8M402.50 301.80h-4.6M402.50 293.85h-2.8M402.50 289.20h-2.8M402.50 285.91h-2.8M402.50 283.35h-2.8M402.50 281.26h-2.8M402.50 279.49h-2.8M402.50 277.96h-2.8M402.50 276.61h-2.8M402.50 275.40h-4.6M402.50 267.45h-2.8M402.50 262.80h-2.8M402.50 259.51h-2.8M402.50 256.95h-2.8M402.50 254.86h-2.8M402.50 253.09h-2.8M402.50 251.56h-2.8M402.50 250.21h-2.8M402.50 249.00h-4.6M402.50 241.05h-2.8M402.50 236.40h-2.8M402.50 233.11h-2.8M402.50 230.55h-2.8M402.50 228.46h-2.8M402.50 226.69h-2.8M402.50 225.16h-2.8M402.50 223.81h-2.8M402.50 222.60h-4.6M402.50 214.65h-2.8" stroke="#333" stroke-width="1" fill="none"/>
<text x="415.17" y="334.20" font-size="9.6" style="stroke-width:0.2px">10<tspan dy="-4.4" font-size="6.8">2</tspan></text>
<text x="444.07" y="334.20" font-size="9.6" style="stroke-width:0.2px">10<tspan dy="-4.4" font-size="6.8">3</tspan></text>
<text x="472.97" y="334.20" font-size="9.6" style="stroke-width:0.2px">10<tspan dy="-4.4" font-size="6.8">4</tspan></text>
<text x="501.87" y="334.20" font-size="9.6" style="stroke-width:0.2px">10<tspan dy="-4.4" font-size="6.8">5</tspan></text>
<text x="394.60" y="227.20" font-size="9.5" text-anchor="end" style="stroke-width:0.2px">10</text>
<text x="397.90" y="222.80" font-size="6.6" text-anchor="end" style="stroke-width:0.15px">5</text>
<text x="394.60" y="253.70" font-size="9.5" text-anchor="end" style="stroke-width:0.2px">10</text>
<text x="397.90" y="249.30" font-size="6.6" text-anchor="end" style="stroke-width:0.15px">4</text>
<text x="394.60" y="280.00" font-size="9.5" text-anchor="end" style="stroke-width:0.2px">10</text>
<text x="397.90" y="275.60" font-size="6.6" text-anchor="end" style="stroke-width:0.15px">3</text>
<text x="394.60" y="306.70" font-size="9.5" text-anchor="end" style="stroke-width:0.2px">10</text>
<text x="397.90" y="302.30" font-size="6.6" text-anchor="end" style="stroke-width:0.15px">2</text>
<text x="463.0" y="347.0" font-size="10.2" text-anchor="middle" style="stroke-width:0.22px">CD33</text>
<text transform="translate(379.3,267.3) rotate(-90)" font-size="10.2" text-anchor="middle" style="stroke-width:0.22px">CD71</text>
<text x="171.50" y="76.5" font-size="7" text-anchor="end" style="stroke-width:0.14px">CD45+CD3</text>
<text x="62.85" y="126.6" font-size="6.4" style="stroke-width:0.14px">CD45+CD34−</text>
<text x="164.00" y="131.7" font-size="12" text-anchor="end">22%±7</text>
<text x="354.70" y="76.5" font-size="7" text-anchor="end" style="stroke-width:0.14px">CD45+CD3</text>
<text x="246.85" y="126.6" font-size="6.4" style="stroke-width:0.14px">CD45+CD34−</text>
<text x="348.10" y="131.7" font-size="12" text-anchor="end">27%±7</text>
<text x="515.30" y="76.5" font-size="7" text-anchor="end" style="stroke-width:0.14px">CD45+CD3</text>
<text x="407.15" y="126.6" font-size="6.4" style="stroke-width:0.14px">CD45+CD34−</text>
<text x="508.50" y="131.7" font-size="12" text-anchor="end">27%±6</text>
<text x="62.30" y="220.7" font-size="7" style="stroke-width:0.14px">Q1-1</text>
<text x="171.20" y="220.8" font-size="7" text-anchor="end" style="stroke-width:0.14px">Q2-1</text>
<text x="62.20" y="314.3" font-size="7" style="stroke-width:0.14px">Q3-1</text>
<text x="170.80" y="313.8" font-size="7" text-anchor="end" style="stroke-width:0.14px">Q4-1</text>
<text x="163.30" y="301.9" font-size="12" text-anchor="end">0.7%±0.1</text>
<text x="245.40" y="220.7" font-size="7" style="stroke-width:0.14px">Q1-1</text>
<text x="353.90" y="220.8" font-size="7" text-anchor="end" style="stroke-width:0.14px">Q2-1</text>
<text x="245.50" y="314.3" font-size="7" style="stroke-width:0.14px">Q3-1</text>
<text x="353.90" y="313.8" font-size="7" text-anchor="end" style="stroke-width:0.14px">Q4-1</text>
<text x="347.10" y="301.9" font-size="12" text-anchor="end">0.7%±0.1</text>
<text x="406.00" y="220.7" font-size="7" style="stroke-width:0.14px">Q1-1</text>
<text x="514.20" y="220.8" font-size="7" text-anchor="end" style="stroke-width:0.14px">Q2-1</text>
<text x="406.00" y="314.3" font-size="7" style="stroke-width:0.14px">Q3-1</text>
<text x="513.90" y="313.8" font-size="7" text-anchor="end" style="stroke-width:0.14px">Q4-1</text>
<text x="508.70" y="301.9" font-size="12" text-anchor="end">1.2%±0.3</text>
<text x="1.50" y="206.4" font-size="12.3">88%±3.5</text>
<path d="M27.0 212.8V224.7L75.50 252.14" stroke="#111" stroke-width="1.3" fill="none"/>
<path d="M80.72 255.10L74.27 254.32L76.73 249.96Z" fill="#111"/>
<text x="181.50" y="206.4" font-size="12.3">88.3%±3.2</text>
<path d="M210.0 212.8V224.7L257.61 251.83" stroke="#111" stroke-width="1.3" fill="none"/>
<path d="M262.82 254.80L256.37 254.00L258.85 249.65Z" fill="#111"/>
<text x="349.80" y="206.4" font-size="12.3">88.5%±3.3</text>
<path d="M377.2 212.8V224.7L419.25 251.59" stroke="#111" stroke-width="1.3" fill="none"/>
<path d="M424.31 254.82L417.90 253.70L420.60 249.48Z" fill="#111"/>
</svg>
</body></html>
